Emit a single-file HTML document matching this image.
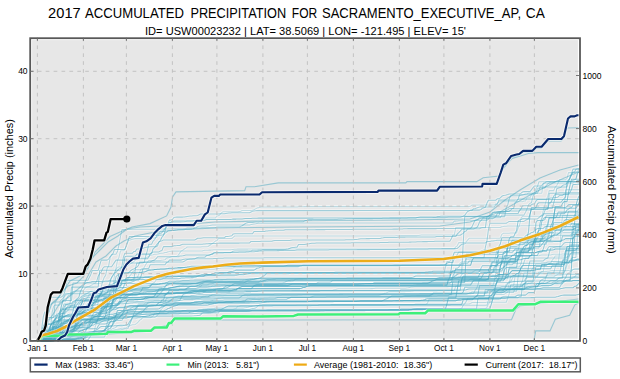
<!DOCTYPE html><html><head><meta charset="utf-8"><style>
html,body{margin:0;padding:0;background:#fff;}
svg{display:block;}
text{font-family:"Liberation Sans",sans-serif;fill:#000;}
</style></head><body>
<svg width="620" height="379" viewBox="0 0 620 379">
<rect x="0" y="0" width="620" height="379" fill="#fff"/>

<text x="48.1" y="17.8" font-size="14" textLength="32.6" lengthAdjust="spacingAndGlyphs">2017</text>
<text x="85.1" y="17.8" font-size="14" textLength="98.8" lengthAdjust="spacingAndGlyphs">ACCUMULATED</text>
<text x="190.4" y="17.8" font-size="14" textLength="95.8" lengthAdjust="spacingAndGlyphs">PRECIPITATION</text>
<text x="291.8" y="17.8" font-size="14" textLength="25.4" lengthAdjust="spacingAndGlyphs">FOR</text>
<text x="322.0" y="17.8" font-size="14" textLength="199.0" lengthAdjust="spacingAndGlyphs">SACRAMENTO_EXECUTIVE_AP,</text>
<text x="525.8" y="17.8" font-size="14" textLength="19.0" lengthAdjust="spacingAndGlyphs">CA</text>
<text x="145" y="34.8" font-size="10.5" textLength="321" lengthAdjust="spacingAndGlyphs">ID= USW00023232 | LAT= 38.5069 | LON= -121.495 | ELEV= 15'</text>
<rect x="30.2" y="38.2" width="549.8" height="302.7" fill="#ffffff"/>
<rect x="32.1" y="40.1" width="545.8" height="298.5" fill="#e7e7e7"/>
<g fill="none" stroke="#ffffff" stroke-width="3" stroke-opacity="0.45" stroke-linejoin="round"><polyline points="37.4,341.0 40.4,341.0 41.9,327.3 43.3,316.8 44.8,312.0 49.3,312.0 50.8,297.2 61.1,297.2 62.6,296.1 64.1,294.1 65.6,288.6 67.1,280.3 87.8,280.3 89.3,277.4 90.8,274.4 92.3,270.4 98.2,270.4 99.7,265.4 101.2,260.1 107.1,260.1 108.6,259.1 110.1,256.6 111.6,255.3 113.1,253.4 114.5,249.4 124.9,249.4 126.4,245.9 127.9,241.7 129.4,236.5 148.7,236.5 150.2,236.2 151.6,235.8 153.1,235.5 154.6,235.3 159.1,235.3 160.5,235.2 162.0,235.0 163.5,234.8 165.0,233.1 166.5,232.3 168.0,230.8 170.9,230.8 172.4,230.6 173.9,230.4 175.4,230.2 176.9,230.0 178.3,229.7 184.3,229.7 185.8,229.3 187.2,229.1 191.7,229.1 193.2,228.7 194.7,228.1 196.1,227.9 200.6,227.9 202.1,227.7 215.4,227.7 216.9,226.9 221.4,226.9 222.9,226.9 224.3,226.9 225.8,226.9 239.2,226.9 240.7,226.4 242.1,225.7 243.6,224.7 245.1,223.7 246.6,222.9 248.1,222.6 249.6,222.5 251.0,222.5 252.5,222.4 254.0,222.2 255.5,222.1 257.0,221.9 258.5,221.9 259.9,221.8 301.5,221.8 303.0,221.8 304.4,221.1 305.9,220.6 307.4,220.2 308.9,219.6 311.9,219.6 313.3,219.4 331.2,219.4 332.6,219.4 337.1,219.4 338.6,219.3 340.1,219.3 341.5,219.2 343.0,219.1 344.5,218.9 346.0,218.8 347.5,218.8 349.0,218.7 350.4,218.7 351.9,218.7 353.4,218.6 354.9,218.6 356.4,218.6 357.9,218.6 369.7,218.6 371.2,218.6 372.7,218.6 374.2,218.5 375.7,218.5 377.1,218.4 378.6,218.4 380.1,218.4 381.6,218.4 383.1,218.3 384.6,218.2 386.0,218.2 387.5,218.2 389.0,218.2 390.5,218.1 392.0,218.1 396.4,218.1 397.9,218.1 399.4,218.1 400.9,218.1 402.4,218.0 403.8,218.0 405.3,218.0 406.8,218.0 408.3,217.8 409.8,217.8 430.6,217.8 432.0,217.7 433.5,217.6 445.4,217.6 446.9,217.4 448.4,217.3 449.8,217.3 460.2,217.3 461.7,216.7 463.2,216.3 464.7,215.4 466.2,213.3 467.6,211.5 469.1,210.9 470.6,210.1 479.5,210.1 481.0,209.5 482.5,208.2 484.0,207.7 485.4,207.3 486.9,203.3 488.4,200.2 495.8,200.2 497.3,198.8 498.8,198.8 500.3,197.9 501.8,196.3 503.3,195.5 504.7,195.3 506.2,195.0 507.7,194.6 509.2,194.1 510.7,193.9 519.6,193.9 521.1,193.1 522.5,192.0 524.0,191.6 530.0,191.6 531.4,189.9 532.9,187.8 534.4,186.0 540.3,186.0 541.8,185.4 543.3,183.7 544.8,182.9 546.3,181.7 547.8,181.5 571.5,181.5 573.0,180.3 574.5,179.7 575.9,179.2 579.7,179.2"/><polyline points="37.4,341.0 43.3,341.0 44.8,335.1 46.3,331.1 47.8,324.1 56.7,324.1 58.2,321.0 59.7,316.1 61.1,311.8 62.6,308.4 64.1,303.9 70.0,303.9 71.5,287.1 93.8,287.1 95.3,287.0 96.7,286.9 98.2,286.9 99.7,270.2 120.5,270.2 122.0,265.8 123.4,257.1 124.9,253.3 132.4,253.3 133.8,251.5 135.3,251.5 136.8,248.9 139.8,248.9 141.3,248.6 142.7,248.4 144.2,247.7 145.7,247.4 147.2,246.9 148.7,246.9 150.2,246.8 151.6,246.7 156.1,246.7 157.6,245.7 159.1,241.4 160.5,241.2 162.0,240.7 163.5,239.9 194.7,239.9 196.1,239.3 197.6,238.3 200.6,238.3 202.1,238.0 203.6,237.8 224.3,237.8 225.8,236.4 227.3,236.4 228.8,236.3 230.3,236.1 231.8,235.7 233.2,233.9 234.7,233.8 236.2,233.8 252.5,233.8 254.0,231.5 264.4,231.5 265.9,231.1 267.4,231.0 268.8,230.7 271.8,230.7 273.3,230.5 274.8,230.4 276.3,230.3 283.7,230.3 285.2,229.7 310.4,229.7 311.9,229.7 313.3,229.7 314.8,229.7 316.3,229.6 317.8,229.6 323.7,229.6 325.2,229.6 326.7,229.5 338.6,229.5 340.1,229.5 341.5,229.5 343.0,229.5 344.5,229.5 346.0,229.5 347.5,229.5 349.0,229.4 351.9,229.4 353.4,229.3 354.9,229.3 356.4,229.3 383.1,229.3 384.6,229.3 386.0,229.3 387.5,229.2 389.0,229.2 390.5,229.2 392.0,229.2 393.5,229.1 394.9,229.1 396.4,229.1 397.9,229.1 399.4,229.0 400.9,229.0 402.4,228.9 403.8,228.7 405.3,228.7 406.8,228.7 408.3,228.6 409.8,228.6 411.3,228.6 412.8,228.6 436.5,228.6 438.0,228.5 439.5,228.5 440.9,228.4 442.4,228.4 470.6,228.4 472.1,226.6 473.6,223.2 475.1,220.3 486.9,220.3 488.4,219.2 489.9,217.2 491.4,215.8 498.8,215.8 500.3,211.9 503.3,211.9 504.7,211.3 506.2,210.4 507.7,209.7 509.2,208.8 510.7,208.4 513.6,208.4 515.1,202.7 516.6,201.3 518.1,199.0 519.6,194.7 522.5,194.7 524.0,194.4 525.5,194.0 527.0,193.7 528.5,193.3 530.0,193.2 537.4,193.2 538.9,190.0 540.3,186.9 567.0,186.9 568.5,181.4 570.0,177.3 571.5,173.5 573.0,169.1 579.7,169.1"/><polyline points="37.4,341.0 50.8,341.0 52.2,331.0 53.7,328.9 55.2,320.8 58.2,320.8 59.7,313.5 61.1,308.0 62.6,300.5 71.5,300.5 73.0,283.0 95.3,283.0 96.7,281.4 98.2,276.2 99.7,273.5 101.2,272.1 102.7,268.5 104.2,266.8 111.6,266.8 113.1,264.5 114.5,262.4 116.0,260.1 129.4,260.1 130.9,259.4 132.4,258.8 147.2,258.8 148.7,257.3 150.2,253.9 151.6,252.7 153.1,251.9 159.1,251.9 160.5,250.9 162.0,250.4 163.5,246.6 172.4,246.6 173.9,245.8 175.4,245.7 176.9,245.6 178.3,245.4 179.8,245.4 181.3,244.7 182.8,244.3 200.6,244.3 202.1,244.2 203.6,244.0 205.0,244.0 206.5,243.8 208.0,243.7 209.5,243.6 211.0,243.6 212.5,243.5 213.9,243.4 215.4,243.4 216.9,243.3 218.4,243.2 219.9,243.1 237.7,243.1 239.2,243.1 240.7,243.0 246.6,243.0 248.1,243.0 249.6,242.9 251.0,241.4 252.5,241.4 254.0,241.4 259.9,241.4 261.4,241.2 271.8,241.2 273.3,240.7 274.8,240.4 289.6,240.4 291.1,240.2 292.6,240.0 294.1,239.9 344.5,239.9 346.0,239.8 347.5,239.8 349.0,239.8 353.4,239.8 354.9,239.6 356.4,239.4 357.9,239.3 359.3,239.0 360.8,238.7 365.3,238.7 366.8,238.6 368.2,238.6 369.7,238.6 371.2,238.5 372.7,238.5 380.1,238.5 381.6,238.0 383.1,237.8 384.6,237.5 386.0,237.5 396.4,237.5 397.9,237.3 399.4,237.1 400.9,237.1 402.4,237.1 405.3,237.1 406.8,237.0 408.3,236.9 435.0,236.9 436.5,236.5 455.8,236.5 457.3,234.0 458.7,232.7 460.2,231.1 461.7,229.3 464.7,229.3 466.2,229.1 467.6,229.0 469.1,228.9 470.6,228.8 479.5,228.8 481.0,228.0 482.5,227.7 485.4,227.7 486.9,216.6 488.4,216.6 489.9,215.6 491.4,215.0 492.9,213.1 494.3,212.1 504.7,212.1 506.2,211.8 507.7,211.3 509.2,210.9 519.6,210.9 521.1,208.8 522.5,205.7 530.0,205.7 531.4,204.8 532.9,204.0 534.4,204.0 535.9,201.1 537.4,199.4 579.7,199.4"/><polyline points="37.4,341.0 44.8,341.0 46.3,317.4 53.7,317.4 55.2,301.9 59.7,301.9 61.1,300.1 62.6,298.8 64.1,296.3 65.6,293.8 104.2,293.8 105.6,293.0 111.6,293.0 113.1,291.2 114.5,284.2 116.0,276.5 117.5,275.4 119.0,273.6 126.4,273.6 127.9,273.3 129.4,271.8 130.9,270.5 132.4,269.5 133.8,268.9 135.3,268.0 136.8,267.1 138.3,265.6 139.8,262.0 150.2,262.0 151.6,261.3 153.1,260.4 154.6,259.9 156.1,258.7 157.6,256.7 178.3,256.7 179.8,256.0 181.3,255.9 182.8,255.7 184.3,255.4 185.8,255.1 187.2,254.9 209.5,254.9 211.0,254.2 212.5,253.4 213.9,253.0 215.4,252.8 221.4,252.8 222.9,252.7 224.3,252.5 225.8,252.4 237.7,252.4 239.2,252.3 240.7,252.3 245.1,252.3 246.6,251.9 248.1,251.9 249.6,251.7 254.0,251.7 255.5,251.6 257.0,251.5 258.5,251.2 259.9,251.1 261.4,250.9 262.9,250.9 264.4,250.8 271.8,250.8 273.3,250.7 274.8,250.7 276.3,250.7 277.7,250.6 279.2,250.6 280.7,250.5 282.2,250.5 291.1,250.5 292.6,250.5 294.1,250.4 295.5,250.3 297.0,250.1 298.5,250.0 323.7,250.0 325.2,250.0 326.7,249.9 328.2,249.9 329.7,249.8 331.2,249.8 332.6,249.8 334.1,249.8 337.1,249.8 338.6,249.8 340.1,249.8 350.4,249.8 351.9,249.7 353.4,249.7 354.9,249.7 356.4,249.7 357.9,249.6 359.3,249.6 360.8,249.6 362.3,249.6 363.8,249.6 365.3,249.6 366.8,249.6 368.2,249.6 369.7,249.6 371.2,249.5 372.7,249.5 389.0,249.5 390.5,249.5 392.0,249.5 393.5,249.5 394.9,249.5 396.4,249.4 397.9,249.3 399.4,249.3 400.9,249.2 402.4,249.2 403.8,249.2 405.3,249.2 406.8,249.0 408.3,249.0 409.8,249.0 411.3,249.0 412.8,249.0 414.2,249.0 415.7,248.9 421.7,248.9 423.1,248.9 424.6,248.9 426.1,248.9 427.6,248.9 429.1,248.8 439.5,248.8 440.9,248.7 442.4,248.6 443.9,248.6 445.4,248.6 446.9,248.6 455.8,248.6 457.3,248.4 458.7,247.2 460.2,245.7 461.7,244.3 463.2,244.1 464.7,243.7 466.2,242.9 485.4,242.9 486.9,241.7 488.4,241.4 489.9,241.4 491.4,241.1 492.9,241.0 494.3,240.7 495.8,240.5 497.3,240.2 521.1,240.2 522.5,239.9 524.0,238.1 525.5,236.2 527.0,235.0 528.5,234.3 530.0,233.8 531.4,232.4 532.9,232.4 534.4,230.8 535.9,229.6 537.4,228.4 543.3,228.4 544.8,226.8 546.3,226.4 579.7,226.4"/><polyline points="37.4,341.0 49.3,341.0 50.8,334.5 52.2,330.0 53.7,322.5 55.2,317.3 56.7,314.0 58.2,314.0 59.7,313.2 61.1,311.4 62.6,309.3 73.0,309.3 74.5,305.7 76.0,300.5 102.7,300.5 104.2,300.0 105.6,299.2 107.1,298.2 108.6,297.8 110.1,297.1 111.6,296.6 113.1,296.1 114.5,285.9 120.5,285.9 122.0,280.8 124.9,280.8 126.4,280.6 127.9,280.3 138.3,280.3 139.8,278.7 141.3,275.5 142.7,269.3 144.2,268.5 148.7,268.5 150.2,264.8 165.0,264.8 166.5,262.6 168.0,262.1 169.4,260.1 173.9,260.1 175.4,260.1 176.9,260.1 178.3,260.1 181.3,260.1 182.8,259.5 184.3,259.2 185.8,258.9 194.7,258.9 196.1,258.1 197.6,257.6 199.1,257.2 205.0,257.2 206.5,255.6 208.0,255.5 209.5,254.9 211.0,254.4 212.5,254.4 213.9,252.8 230.3,252.8 231.8,252.0 233.2,251.2 234.7,251.0 236.2,250.9 251.0,250.9 252.5,250.2 257.0,250.2 258.5,250.1 261.4,250.1 262.9,249.6 283.7,249.6 285.2,249.5 286.6,249.3 288.1,249.1 289.6,248.4 291.1,247.8 292.6,247.5 294.1,247.5 295.5,247.3 297.0,247.2 298.5,244.5 304.4,244.5 305.9,244.2 307.4,243.9 308.9,243.8 310.4,243.4 311.9,243.2 314.8,243.2 316.3,243.1 317.8,243.0 319.3,242.9 350.4,242.9 351.9,242.8 353.4,242.8 354.9,242.7 378.6,242.7 380.1,242.5 381.6,242.4 387.5,242.4 389.0,242.3 390.5,242.2 408.3,242.2 409.8,242.1 411.3,242.1 412.8,242.0 414.2,242.0 415.7,241.9 417.2,241.7 418.7,241.7 421.7,241.7 423.1,241.6 424.6,241.6 426.1,241.6 427.6,241.6 429.1,241.5 430.6,241.5 432.0,241.4 433.5,241.4 435.0,241.3 436.5,241.3 438.0,241.2 449.8,241.2 451.3,238.7 452.8,235.2 460.2,235.2 461.7,234.2 463.2,233.4 464.7,231.4 466.2,230.9 467.6,228.9 473.6,228.9 475.1,228.2 476.5,227.8 478.0,225.9 479.5,222.0 481.0,220.7 482.5,218.6 492.9,218.6 494.3,217.8 495.8,216.6 497.3,213.5 518.1,213.5 519.6,209.9 530.0,209.9 531.4,209.6 532.9,209.4 534.4,209.0 547.8,209.0 549.2,193.3 555.2,193.3 556.7,193.1 558.1,192.9 559.6,192.8 561.1,192.7 579.7,192.7"/><polyline points="37.4,341.0 43.3,341.0 44.8,339.9 46.3,337.2 47.8,333.2 49.3,330.7 50.8,330.2 52.2,329.7 53.7,329.5 55.2,329.2 56.7,329.0 58.2,327.8 59.7,326.5 61.1,325.0 62.6,323.5 78.9,323.5 80.4,323.3 81.9,320.7 89.3,320.7 90.8,319.6 92.3,318.6 93.8,317.2 95.3,316.4 102.7,316.4 104.2,314.4 105.6,312.3 107.1,310.0 108.6,309.2 110.1,308.0 111.6,304.0 113.1,302.0 114.5,299.4 116.0,295.7 117.5,292.5 119.0,290.0 120.5,289.3 122.0,288.8 123.4,287.5 124.9,284.5 126.4,282.3 127.9,278.8 129.4,276.4 130.9,274.6 132.4,272.3 133.8,270.8 135.3,269.6 142.7,269.6 144.2,269.6 145.7,269.5 147.2,269.5 148.7,269.4 150.2,269.4 151.6,269.3 153.1,269.3 163.5,269.3 165.0,268.9 176.9,268.9 178.3,268.8 179.8,268.7 181.3,268.0 182.8,267.9 185.8,267.9 187.2,267.3 188.7,267.0 190.2,266.5 191.7,266.1 197.6,266.1 199.1,266.1 200.6,265.9 202.1,265.8 203.6,265.6 252.5,265.6 254.0,265.6 255.5,265.5 298.5,265.5 300.0,265.5 301.5,265.5 303.0,265.5 304.4,265.5 313.3,265.5 314.8,265.5 316.3,265.5 317.8,265.5 319.3,265.5 320.8,265.5 322.3,265.5 323.7,265.5 392.0,265.5 393.5,265.3 394.9,265.1 418.7,265.1 420.2,265.1 421.7,265.0 463.2,265.0 464.7,261.2 466.2,259.1 495.8,259.1 497.3,257.5 498.8,256.3 506.2,256.3 507.7,250.5 518.1,250.5 519.6,242.9 527.0,242.9 528.5,239.9 530.0,238.2 531.4,236.5 532.9,234.9 534.4,234.9 535.9,234.4 537.4,234.0 541.8,234.0 543.3,233.9 544.8,233.8 546.3,233.7 547.8,233.6 549.2,233.1 558.1,233.1 559.6,232.9 561.1,232.9 562.6,232.8 564.1,232.6 579.7,232.6"/><polyline points="37.4,341.0 38.9,341.0 40.4,340.0 41.9,339.2 46.3,339.2 47.8,338.8 49.3,338.5 50.8,338.4 52.2,338.1 53.7,338.0 55.2,337.4 56.7,336.8 58.2,336.1 59.7,335.5 61.1,334.5 62.6,333.8 64.1,333.6 65.6,333.3 67.1,333.2 68.6,331.0 70.0,330.3 71.5,330.1 73.0,329.4 74.5,329.0 76.0,328.7 77.5,328.0 78.9,327.7 89.3,327.7 90.8,326.3 92.3,323.9 93.8,322.2 96.7,322.2 98.2,318.8 104.2,318.8 105.6,315.1 107.1,310.6 108.6,309.6 110.1,308.2 111.6,308.2 113.1,300.6 114.5,295.4 116.0,290.7 117.5,281.1 119.0,273.8 120.5,273.2 122.0,273.0 123.4,272.7 138.3,272.7 139.8,272.5 141.3,272.4 142.7,272.1 144.2,271.9 145.7,271.5 147.2,270.7 148.7,270.3 150.2,270.2 151.6,270.1 153.1,269.9 154.6,269.6 156.1,269.5 157.6,269.3 159.1,269.2 160.5,269.1 162.0,269.0 163.5,269.0 165.0,269.0 166.5,268.7 168.0,268.6 169.4,268.3 170.9,268.2 172.4,268.2 173.9,268.2 175.4,268.0 176.9,267.9 178.3,267.6 182.8,267.6 184.3,267.4 185.8,267.2 187.2,267.1 188.7,266.9 190.2,266.9 212.5,266.9 213.9,266.8 215.4,266.7 216.9,266.6 218.4,266.5 219.9,266.5 221.4,266.5 222.9,266.4 234.7,266.4 236.2,266.3 237.7,266.3 239.2,266.2 240.7,266.1 242.1,266.1 243.6,266.0 245.1,266.0 248.1,266.0 249.6,266.0 283.7,266.0 285.2,265.7 286.6,265.5 288.1,265.3 470.6,265.3 472.1,260.3 473.6,258.0 507.7,258.0 509.2,257.2 510.7,257.1 512.2,255.3 513.6,255.3 515.1,253.7 516.6,252.6 534.4,252.6 535.9,252.4 537.4,252.3 538.9,251.6 540.3,251.1 541.8,250.8 543.3,250.4 544.8,250.4 546.3,250.3 547.8,250.1 549.2,249.9 550.7,249.9 552.2,249.9 553.7,249.8 555.2,249.0 556.7,249.0 574.5,249.0 575.9,248.9 577.4,248.9 578.9,248.9 579.7,248.9"/><polyline points="37.4,341.0 38.9,341.0 40.4,338.8 41.9,338.0 43.3,336.0 44.8,334.4 46.3,333.4 47.8,332.9 49.3,332.6 50.8,331.9 59.7,331.9 61.1,325.0 62.6,312.9 64.1,307.4 65.6,304.5 67.1,304.4 68.6,304.1 70.0,303.8 71.5,303.6 73.0,301.7 74.5,301.0 76.0,299.9 77.5,298.5 78.9,297.1 80.4,291.6 81.9,288.8 83.4,285.7 84.9,283.7 86.4,282.8 87.8,282.5 89.3,282.3 90.8,282.0 92.3,281.5 98.2,281.5 99.7,281.4 101.2,281.4 102.7,281.3 104.2,281.2 105.6,281.1 107.1,281.0 117.5,281.0 119.0,280.8 120.5,280.3 122.0,280.1 123.4,279.8 124.9,279.5 136.8,279.5 138.3,279.5 139.8,279.5 145.7,279.5 147.2,279.5 148.7,279.5 150.2,279.5 151.6,279.4 153.1,279.3 154.6,279.3 156.1,279.2 157.6,279.2 159.1,279.1 160.5,279.1 162.0,279.0 163.5,278.8 178.3,278.8 179.8,278.5 181.3,278.1 182.8,278.0 184.3,277.9 185.8,277.8 190.2,277.8 191.7,277.6 193.2,277.6 194.7,277.3 196.1,276.9 197.6,276.2 199.1,275.5 200.6,275.1 202.1,274.6 215.4,274.6 216.9,273.9 218.4,273.6 219.9,273.1 224.3,273.1 225.8,272.9 227.3,272.7 228.8,272.0 230.3,271.6 231.8,271.4 233.2,271.2 234.7,270.8 236.2,270.1 254.0,270.1 255.5,269.3 257.0,268.3 258.5,268.0 259.9,267.4 261.4,267.0 262.9,266.6 298.5,266.6 300.0,266.0 301.5,265.7 303.0,265.3 310.4,265.3 311.9,265.3 313.3,265.3 314.8,265.3 316.3,265.3 317.8,265.3 319.3,265.3 387.5,265.3 389.0,265.3 390.5,265.3 439.5,265.3 440.9,265.0 442.4,264.9 443.9,264.8 445.4,264.5 446.9,263.2 448.4,262.5 452.8,262.5 454.3,258.4 455.8,257.4 497.3,257.4 498.8,254.5 501.8,254.5 503.3,253.9 504.7,253.2 506.2,251.6 509.2,251.6 510.7,245.0 512.2,240.3 550.7,240.3 552.2,230.5 553.7,216.4 555.2,208.3 575.9,208.3 577.4,205.8 578.9,203.3 580.4,200.6 579.7,200.6"/><polyline points="37.4,341.0 46.3,341.0 47.8,340.4 49.3,338.1 50.8,336.9 52.2,334.6 53.7,334.0 55.2,333.6 56.7,333.4 58.2,333.4 59.7,333.4 61.1,333.2 62.6,333.1 64.1,333.1 65.6,332.8 67.1,332.4 68.6,332.2 70.0,332.0 71.5,330.7 73.0,329.9 74.5,328.6 76.0,325.3 77.5,322.6 78.9,321.2 80.4,320.1 81.9,319.5 93.8,319.5 95.3,319.3 96.7,317.9 98.2,317.3 99.7,316.6 101.2,315.1 102.7,312.9 104.2,310.7 105.6,309.8 110.1,309.8 111.6,305.8 113.1,301.9 114.5,299.6 116.0,297.9 117.5,295.3 119.0,293.0 120.5,290.6 132.4,290.6 133.8,289.8 135.3,289.2 136.8,288.8 138.3,288.1 147.2,288.1 148.7,287.4 150.2,285.8 151.6,284.8 153.1,283.2 154.6,282.3 156.1,280.0 157.6,279.7 160.5,279.7 162.0,279.0 163.5,278.2 165.0,277.9 166.5,277.3 168.0,275.7 169.4,272.2 172.4,272.2 173.9,271.7 175.4,270.8 176.9,270.4 178.3,270.1 179.8,269.8 193.2,269.8 194.7,269.5 196.1,269.2 213.9,269.2 215.4,268.9 216.9,268.6 218.4,268.4 219.9,268.3 221.4,268.1 222.9,268.0 231.8,268.0 233.2,267.7 234.7,267.2 254.0,267.2 255.5,267.0 257.0,266.9 258.5,266.4 259.9,266.0 282.2,266.0 283.7,266.0 285.2,265.9 286.6,265.9 338.6,265.9 340.1,265.9 341.5,265.9 343.0,265.9 344.5,265.9 356.4,265.9 357.9,265.9 359.3,265.9 360.8,265.9 362.3,265.9 363.8,265.9 365.3,265.9 366.8,265.9 399.4,265.9 400.9,265.5 402.4,265.3 458.7,265.3 460.2,263.1 461.7,261.8 513.6,261.8 515.1,259.6 516.6,258.1 518.1,255.7 538.9,255.7 540.3,255.3 541.8,255.1 543.3,254.9 550.7,254.9 552.2,254.6 553.7,254.3 555.2,254.3 559.6,254.3 561.1,254.2 562.6,254.0 564.1,253.9 579.7,253.9"/><polyline points="37.4,341.0 40.4,341.0 41.9,339.6 43.3,336.4 44.8,330.2 46.3,326.1 47.8,324.1 50.8,324.1 52.2,322.9 53.7,321.5 55.2,319.3 56.7,316.8 58.2,314.3 59.7,311.7 61.1,308.9 67.1,308.9 68.6,307.8 70.0,306.7 71.5,305.0 73.0,303.3 74.5,302.2 76.0,300.1 77.5,299.8 78.9,298.9 80.4,297.9 81.9,296.1 83.4,295.2 84.9,294.5 86.4,293.8 87.8,293.0 89.3,292.2 90.8,291.3 92.3,291.3 93.8,291.3 95.3,290.9 96.7,290.5 98.2,290.1 99.7,289.9 101.2,289.6 102.7,289.4 104.2,289.2 105.6,289.1 110.1,289.1 111.6,288.6 113.1,288.6 114.5,288.2 116.0,287.8 117.5,287.4 119.0,286.2 120.5,285.3 122.0,283.9 123.4,283.6 124.9,283.5 126.4,283.1 127.9,282.7 129.4,282.4 130.9,282.4 132.4,281.7 133.8,281.3 135.3,280.4 136.8,279.6 138.3,278.5 139.8,278.2 141.3,278.1 142.7,277.9 144.2,277.3 145.7,277.1 147.2,276.9 148.7,276.9 154.6,276.9 156.1,276.7 157.6,276.6 163.5,276.6 165.0,276.5 166.5,276.4 168.0,276.4 169.4,276.3 176.9,276.3 178.3,276.1 193.2,276.1 194.7,276.1 196.1,276.1 197.6,276.0 199.1,276.0 200.6,276.0 205.0,276.0 206.5,275.8 208.0,275.5 209.5,275.2 211.0,275.2 215.4,275.2 216.9,275.1 218.4,274.9 219.9,274.9 221.4,274.8 222.9,274.8 236.2,274.8 237.7,274.8 239.2,274.8 240.7,274.8 243.6,274.8 245.1,274.3 246.6,274.0 248.1,273.8 249.6,273.5 251.0,273.2 252.5,273.1 254.0,273.1 255.5,273.0 257.0,273.0 258.5,272.9 282.2,272.9 283.7,272.9 285.2,272.9 286.6,272.9 344.5,272.9 346.0,272.9 347.5,272.9 349.0,272.9 350.4,272.9 353.4,272.9 354.9,272.9 356.4,272.9 357.9,272.9 359.3,272.8 360.8,272.8 362.3,272.8 363.8,272.8 442.4,272.8 443.9,272.8 445.4,272.7 446.9,272.7 448.4,272.7 449.8,272.6 478.0,272.6 479.5,271.4 481.0,268.3 482.5,265.6 500.3,265.6 501.8,262.9 509.2,262.9 510.7,258.5 515.1,258.5 516.6,257.0 518.1,256.2 530.0,256.2 531.4,255.1 532.9,254.6 534.4,253.2 535.9,252.4 537.4,251.5 546.3,251.5 547.8,248.3 549.2,246.5 561.1,246.5 562.6,244.8 564.1,243.1 565.6,242.5 579.7,242.5"/><polyline points="37.4,341.0 46.3,341.0 47.8,339.7 49.3,338.4 50.8,334.5 52.2,331.4 53.7,327.1 55.2,326.0 56.7,322.4 58.2,320.5 59.7,319.1 61.1,317.5 62.6,316.7 64.1,316.4 65.6,316.2 67.1,315.1 68.6,314.5 70.0,314.3 71.5,314.2 73.0,314.2 80.4,314.2 81.9,314.1 83.4,311.0 84.9,309.9 86.4,306.2 87.8,304.3 89.3,303.3 90.8,303.2 92.3,302.4 93.8,302.2 95.3,301.9 96.7,301.3 98.2,297.1 99.7,296.0 101.2,294.1 102.7,290.3 104.2,288.8 105.6,288.8 107.1,287.9 108.6,285.0 110.1,284.8 111.6,284.7 113.1,284.1 114.5,282.8 116.0,282.6 117.5,281.4 119.0,280.5 124.9,280.5 126.4,277.4 127.9,277.4 129.4,277.4 130.9,277.4 132.4,277.4 133.8,277.4 135.3,277.4 136.8,277.3 138.3,277.3 139.8,277.3 141.3,277.3 142.7,277.2 144.2,277.2 145.7,277.2 147.2,277.2 148.7,277.1 150.2,277.1 151.6,277.1 153.1,277.1 154.6,277.1 156.1,277.1 157.6,277.1 159.1,277.1 160.5,277.1 162.0,277.1 163.5,277.0 165.0,277.0 166.5,277.0 168.0,277.0 169.4,277.0 170.9,277.0 172.4,277.0 173.9,276.8 175.4,276.8 176.9,276.7 178.3,276.6 179.8,276.5 181.3,276.3 182.8,276.2 203.6,276.2 205.0,275.4 206.5,274.5 211.0,274.5 212.5,273.8 213.9,273.3 215.4,272.7 216.9,272.7 218.4,272.7 219.9,272.6 221.4,272.6 222.9,272.6 224.3,272.6 257.0,272.6 258.5,272.6 259.9,272.5 261.4,272.5 262.9,272.5 264.4,272.5 265.9,272.5 267.4,272.5 268.8,272.5 270.3,272.5 303.0,272.5 304.4,272.5 305.9,272.5 331.2,272.5 332.6,272.4 334.1,272.4 335.6,272.3 368.2,272.3 369.7,272.3 371.2,272.3 372.7,272.3 374.2,272.3 375.7,272.3 377.1,272.3 423.1,272.3 424.6,272.2 426.1,272.0 427.6,271.9 429.1,271.8 430.6,271.7 432.0,271.6 433.5,271.3 435.0,271.2 454.3,271.2 455.8,269.6 500.3,269.6 501.8,268.4 503.3,267.6 504.7,266.4 506.2,265.3 507.7,262.8 509.2,259.7 521.1,259.7 522.5,259.0 524.0,258.5 528.5,258.5 530.0,255.6 531.4,255.6 532.9,248.8 534.4,246.4 540.3,246.4 541.8,244.5 543.3,242.9 544.8,241.0 561.1,241.0 562.6,240.0 564.1,239.7 565.6,238.6 573.0,238.6 574.5,236.2 578.9,236.2 580.4,236.1 579.7,236.1"/><polyline points="37.4,341.0 41.9,341.0 43.3,338.3 44.8,336.0 47.8,336.0 49.3,334.7 50.8,333.4 52.2,332.3 53.7,331.8 55.2,331.8 56.7,329.1 58.2,328.1 59.7,326.7 61.1,325.4 62.6,325.4 64.1,324.6 65.6,323.5 67.1,322.8 68.6,321.8 70.0,320.1 71.5,317.9 73.0,316.2 74.5,314.5 76.0,314.2 77.5,313.9 78.9,313.7 80.4,313.3 81.9,313.1 83.4,312.9 84.9,312.8 101.2,312.8 102.7,311.4 104.2,309.3 105.6,307.1 107.1,306.2 108.6,303.7 110.1,301.5 111.6,299.4 113.1,297.3 114.5,296.4 116.0,292.5 117.5,290.6 119.0,290.6 120.5,290.2 122.0,289.8 123.4,287.3 124.9,282.4 126.4,278.7 127.9,277.9 130.9,277.9 132.4,277.7 133.8,277.5 135.3,277.3 136.8,277.3 138.3,277.2 139.8,277.2 141.3,277.2 144.2,277.2 145.7,277.1 150.2,277.1 151.6,277.1 153.1,277.0 154.6,277.0 159.1,277.0 160.5,276.9 162.0,276.8 163.5,276.5 165.0,276.4 166.5,276.2 168.0,276.0 169.4,275.9 170.9,275.9 191.7,275.9 193.2,275.9 194.7,275.8 196.1,275.8 197.6,275.7 199.1,275.7 200.6,275.7 202.1,275.7 203.6,275.7 205.0,275.7 206.5,275.7 208.0,275.7 209.5,275.7 211.0,275.7 212.5,275.7 213.9,275.6 215.4,275.6 216.9,275.6 234.7,275.6 236.2,275.4 237.7,275.1 239.2,274.5 240.7,274.4 242.1,274.2 243.6,274.0 245.1,273.9 246.6,273.8 267.4,273.8 268.8,273.8 270.3,273.7 288.1,273.7 289.6,273.6 291.1,273.5 292.6,273.5 294.1,273.4 343.0,273.4 344.5,273.4 346.0,273.4 347.5,273.4 349.0,273.4 366.8,273.4 368.2,273.4 369.7,273.4 371.2,273.4 372.7,273.4 374.2,273.4 426.1,273.4 427.6,273.4 429.1,273.4 430.6,273.4 432.0,273.4 443.9,273.4 445.4,267.7 446.9,261.6 449.8,261.6 451.3,259.0 452.8,258.0 454.3,257.2 455.8,257.2 457.3,254.5 458.7,252.1 479.5,252.1 481.0,251.1 482.5,250.4 484.0,249.9 491.4,249.9 492.9,249.6 494.3,249.3 495.8,248.9 498.8,248.9 500.3,248.9 501.8,247.8 503.3,247.6 504.7,247.3 506.2,246.4 516.6,246.4 518.1,245.6 519.6,244.2 546.3,244.2 547.8,236.3 549.2,235.6 552.2,235.6 553.7,235.3 570.0,235.3 571.5,234.3 573.0,232.6 574.5,230.5 579.7,230.5"/><polyline points="37.4,341.0 47.8,341.0 49.3,339.7 50.8,338.1 52.2,337.8 53.7,336.2 55.2,335.4 61.1,335.4 62.6,330.9 64.1,328.3 65.6,327.9 67.1,327.5 68.6,327.3 70.0,327.0 80.4,327.0 81.9,326.7 83.4,326.0 84.9,325.4 86.4,325.0 89.3,325.0 90.8,319.7 92.3,316.3 99.7,316.3 101.2,310.3 102.7,301.2 104.2,297.4 139.8,297.4 141.3,297.1 142.7,296.9 144.2,296.6 145.7,296.5 147.2,296.5 148.7,296.2 150.2,296.2 153.1,296.2 154.6,296.0 156.1,295.8 157.6,295.8 159.1,294.9 160.5,293.3 162.0,291.3 163.5,288.9 165.0,287.2 166.5,285.1 168.0,283.2 172.4,283.2 173.9,282.4 175.4,282.0 176.9,281.9 178.3,281.9 179.8,281.8 181.3,281.7 182.8,281.7 203.6,281.7 205.0,281.6 206.5,281.5 208.0,281.4 209.5,281.4 211.0,281.3 245.1,281.3 246.6,280.8 248.1,280.5 249.6,280.3 251.0,279.7 252.5,279.5 254.0,279.3 255.5,278.6 258.5,278.6 259.9,278.2 261.4,277.4 262.9,276.2 264.4,275.7 265.9,274.2 267.4,272.9 286.6,272.9 288.1,272.9 289.6,272.9 291.1,272.9 292.6,272.9 294.1,272.8 295.5,272.8 461.7,272.8 463.2,243.6 464.7,216.6 504.7,216.6 506.2,207.6 507.7,205.0 509.2,198.9 510.7,195.8 519.6,195.8 521.1,195.2 522.5,195.0 524.0,194.8 534.4,194.8 535.9,192.8 537.4,188.9 538.9,187.9 544.8,187.9 546.3,185.5 547.8,183.9 549.2,183.0 550.7,182.2 553.7,182.2 555.2,181.7 556.7,181.2 568.5,181.2 570.0,178.0 571.5,175.0 573.0,172.2 574.5,172.2 575.9,169.3 577.4,168.8 579.7,168.8"/><polyline points="37.4,341.0 40.4,341.0 41.9,337.0 43.3,334.6 44.8,330.6 46.3,330.5 47.8,330.3 49.3,330.2 50.8,326.2 52.2,321.9 53.7,320.2 55.2,320.1 56.7,318.4 58.2,317.9 59.7,317.3 61.1,316.7 62.6,316.4 64.1,316.2 65.6,315.6 87.8,315.6 89.3,315.3 90.8,314.0 92.3,307.1 93.8,305.2 95.3,303.9 96.7,300.2 98.2,298.3 99.7,296.3 101.2,296.3 102.7,295.4 104.2,293.9 105.6,292.9 107.1,292.6 108.6,291.5 110.1,290.1 111.6,290.1 113.1,289.7 114.5,289.5 116.0,289.3 117.5,289.2 119.0,287.4 130.9,287.4 132.4,287.3 133.8,287.1 135.3,286.8 136.8,286.5 138.3,286.2 147.2,286.2 148.7,285.7 150.2,285.2 151.6,284.8 153.1,284.7 156.1,284.7 157.6,284.3 159.1,284.1 160.5,283.5 162.0,283.3 163.5,283.0 165.0,282.8 196.1,282.8 197.6,282.4 199.1,282.3 200.6,281.9 202.1,281.5 203.6,281.1 205.0,280.9 206.5,280.6 208.0,280.5 209.5,280.4 211.0,280.4 212.5,280.3 213.9,280.1 215.4,279.9 216.9,279.9 218.4,279.8 219.9,279.7 221.4,279.6 222.9,279.6 224.3,279.4 225.8,279.4 227.3,279.3 228.8,279.3 230.3,279.2 248.1,279.2 249.6,279.1 251.0,278.9 270.3,278.9 271.8,278.7 273.3,278.6 449.8,278.6 451.3,278.0 452.8,277.3 454.3,277.0 488.4,277.0 489.9,274.7 491.4,272.8 492.9,271.7 494.3,271.7 495.8,267.1 497.3,265.2 498.8,259.0 515.1,259.0 516.6,255.9 521.1,255.9 522.5,252.0 527.0,252.0 528.5,250.8 530.0,249.8 531.4,247.0 532.9,244.8 534.4,242.4 535.9,239.4 537.4,234.9 541.8,234.9 543.3,232.5 553.7,232.5 555.2,230.6 556.7,229.6 558.1,227.1 559.6,227.1 561.1,227.0 562.6,227.0 565.6,227.0 567.0,223.7 579.7,223.7"/><polyline points="37.4,341.0 38.9,341.0 40.4,335.5 41.9,334.9 43.3,334.7 58.2,334.7 59.7,333.8 61.1,332.7 62.6,331.3 64.1,330.1 67.1,330.1 68.6,326.9 70.0,324.1 71.5,321.4 73.0,318.7 74.5,315.8 76.0,314.0 77.5,311.8 86.4,311.8 87.8,310.4 95.3,310.4 96.7,309.4 98.2,309.4 99.7,308.9 101.2,308.5 102.7,307.0 104.2,305.4 105.6,304.5 107.1,304.1 108.6,304.1 110.1,303.8 111.6,303.7 113.1,303.1 114.5,301.9 116.0,299.6 117.5,297.8 119.0,296.8 120.5,295.9 122.0,294.6 123.4,293.1 124.9,291.8 126.4,291.8 127.9,291.5 129.4,291.5 130.9,291.3 132.4,291.2 133.8,291.1 135.3,290.9 153.1,290.9 154.6,290.9 156.1,290.8 157.6,290.7 159.1,290.6 160.5,290.4 162.0,290.3 163.5,290.3 165.0,290.2 166.5,290.2 168.0,290.2 178.3,290.2 179.8,289.3 185.8,289.3 187.2,288.0 188.7,287.3 190.2,286.6 191.7,286.2 193.2,286.2 194.7,286.2 196.1,286.2 197.6,285.5 199.1,285.0 200.6,284.1 202.1,283.6 203.6,282.8 243.6,282.8 245.1,282.3 246.6,281.6 248.1,281.2 261.4,281.2 262.9,280.9 264.4,280.4 265.9,279.9 267.4,279.4 274.8,279.4 276.3,279.2 277.7,279.2 280.7,279.2 282.2,279.1 283.7,279.1 285.2,279.1 286.6,279.1 288.1,279.1 289.6,279.1 291.1,279.1 305.9,279.1 307.4,279.1 308.9,279.0 310.4,279.0 351.9,279.0 353.4,279.0 354.9,279.0 356.4,279.0 357.9,279.0 394.9,279.0 396.4,278.9 397.9,278.8 399.4,278.8 400.9,278.7 435.0,278.7 436.5,278.4 438.0,278.0 439.5,277.6 478.0,277.6 479.5,274.1 481.0,272.4 498.8,272.4 500.3,266.6 501.8,262.5 503.3,259.8 504.7,255.6 512.2,255.6 513.6,255.5 515.1,255.4 537.4,255.4 538.9,252.2 540.3,252.2 541.8,252.1 543.3,248.9 544.8,244.0 546.3,241.8 550.7,241.8 552.2,241.7 553.7,241.6 555.2,241.4 556.7,241.4 561.1,241.4 562.6,235.9 571.5,235.9 573.0,234.6 575.9,234.6 577.4,231.6 578.9,230.2 579.7,230.2"/><polyline points="37.4,341.0 40.4,341.0 41.9,339.2 43.3,338.4 44.8,337.7 46.3,337.1 47.8,336.3 49.3,335.2 50.8,334.3 52.2,332.1 53.7,329.4 55.2,328.4 56.7,326.3 58.2,324.2 59.7,321.8 61.1,318.9 62.6,316.7 64.1,314.5 65.6,311.3 67.1,310.8 74.5,310.8 76.0,310.8 77.5,310.5 78.9,310.3 80.4,309.6 81.9,306.1 83.4,304.4 84.9,300.7 86.4,298.9 87.8,297.1 89.3,294.6 90.8,294.6 92.3,294.4 93.8,294.2 95.3,294.1 96.7,293.8 98.2,293.7 99.7,293.5 101.2,293.0 102.7,293.0 104.2,292.6 105.6,292.5 107.1,292.2 108.6,292.0 110.1,291.3 111.6,290.6 113.1,290.5 114.5,290.2 116.0,289.1 117.5,288.3 119.0,288.0 120.5,287.6 124.9,287.6 126.4,287.4 127.9,286.6 129.4,286.3 130.9,286.0 132.4,285.6 133.8,285.0 136.8,285.0 138.3,284.9 139.8,284.9 141.3,284.9 142.7,284.9 144.2,284.9 147.2,284.9 148.7,284.9 150.2,284.8 151.6,284.8 153.1,284.8 154.6,284.8 156.1,284.8 157.6,284.8 159.1,284.8 160.5,284.8 162.0,284.8 163.5,284.8 173.9,284.8 175.4,284.7 176.9,284.6 178.3,284.6 179.8,284.5 181.3,284.4 182.8,284.3 184.3,284.3 194.7,284.3 196.1,284.2 197.6,284.2 199.1,284.1 200.6,284.1 202.1,284.1 203.6,284.1 209.5,284.1 211.0,284.0 212.5,283.6 213.9,283.0 215.4,282.7 216.9,282.4 218.4,282.2 219.9,282.1 221.4,282.0 227.3,282.0 228.8,281.6 240.7,281.6 242.1,281.5 243.6,281.2 245.1,281.1 291.1,281.1 292.6,280.9 294.1,280.4 295.5,279.2 297.0,278.9 298.5,278.7 300.0,278.6 301.5,278.6 303.0,278.6 304.4,278.5 305.9,278.5 307.4,278.5 323.7,278.5 325.2,278.4 326.7,278.4 371.2,278.4 372.7,278.4 374.2,278.4 408.3,278.4 409.8,278.4 411.3,278.2 412.8,278.2 458.7,278.2 460.2,277.1 461.7,274.7 463.2,273.0 470.6,273.0 472.1,272.5 473.6,271.5 475.1,270.4 476.5,269.9 489.9,269.9 491.4,266.3 492.9,261.4 494.3,261.4 495.8,255.5 497.3,247.6 498.8,247.0 519.6,247.0 521.1,238.4 543.3,238.4 544.8,237.8 546.3,236.0 547.8,235.6 549.2,233.7 550.7,232.1 552.2,231.1 553.7,230.1 555.2,229.7 556.7,229.7 558.1,229.6 559.6,229.6 561.1,229.6 579.7,229.6"/><polyline points="37.4,341.0 41.9,341.0 43.3,340.9 44.8,340.7 46.3,340.5 52.2,340.5 53.7,339.4 55.2,338.6 56.7,337.8 58.2,336.6 59.7,335.2 61.1,334.7 62.6,333.5 64.1,332.2 65.6,331.1 80.4,331.1 81.9,331.0 83.4,329.7 84.9,328.9 86.4,328.8 96.7,328.8 98.2,326.0 99.7,323.9 105.6,323.9 107.1,323.0 108.6,319.6 110.1,308.3 111.6,303.3 113.1,299.3 114.5,298.8 116.0,298.6 117.5,298.2 124.9,298.2 126.4,297.2 127.9,295.6 129.4,294.7 130.9,293.9 132.4,293.2 133.8,292.4 139.8,292.4 141.3,290.8 142.7,288.1 144.2,288.0 145.7,287.9 147.2,287.9 148.7,287.7 150.2,286.6 151.6,284.5 153.1,284.4 157.6,284.4 159.1,284.3 160.5,284.0 162.0,283.8 163.5,283.5 165.0,283.2 166.5,282.6 168.0,281.9 169.4,281.2 175.4,281.2 176.9,281.1 178.3,281.0 179.8,280.9 181.3,280.7 182.8,280.6 184.3,280.5 185.8,280.4 188.7,280.4 190.2,280.3 191.7,280.2 193.2,280.2 194.7,280.1 196.1,280.1 211.0,280.1 212.5,279.9 213.9,279.8 215.4,279.6 216.9,279.5 218.4,279.3 252.5,279.3 254.0,279.2 255.5,278.9 257.0,278.5 258.5,278.3 259.9,278.0 270.3,278.0 271.8,278.0 273.3,278.0 274.8,278.0 276.3,278.0 295.5,278.0 297.0,278.0 298.5,278.0 300.0,278.0 301.5,278.0 303.0,278.0 304.4,278.0 305.9,278.0 307.4,278.0 346.0,278.0 347.5,277.8 349.0,277.7 380.1,277.7 381.6,277.7 383.1,277.6 384.6,277.6 411.3,277.6 412.8,277.2 414.2,276.7 415.7,276.0 449.8,276.0 451.3,268.8 452.8,256.7 454.3,252.3 512.2,252.3 513.6,250.9 515.1,249.1 525.5,249.1 527.0,248.7 528.5,248.1 530.0,248.1 531.4,245.2 532.9,243.6 534.4,240.7 535.9,235.6 537.4,235.6 538.9,229.6 540.3,222.0 541.8,218.4 543.3,213.8 564.1,213.8 565.6,212.3 567.0,210.1 568.5,209.1 570.0,207.8 571.5,207.8 573.0,205.3 578.9,205.3 580.4,188.7 579.7,188.7"/><polyline points="37.4,341.0 38.9,341.0 40.4,340.1 41.9,338.7 43.3,338.3 44.8,337.7 46.3,336.6 47.8,336.1 49.3,335.2 50.8,335.1 52.2,335.0 53.7,334.9 55.2,334.1 56.7,333.5 58.2,332.0 64.1,332.0 65.6,331.8 67.1,331.3 68.6,330.3 70.0,330.3 71.5,329.6 73.0,329.2 74.5,328.0 76.0,326.6 77.5,324.7 78.9,321.6 80.4,319.9 81.9,318.9 83.4,318.4 87.8,318.4 89.3,317.8 90.8,317.3 92.3,316.9 98.2,316.9 99.7,315.3 101.2,311.3 102.7,308.6 104.2,303.5 105.6,301.9 107.1,301.5 108.6,301.2 110.1,300.9 111.6,300.1 113.1,299.4 114.5,298.8 116.0,298.2 117.5,297.8 119.0,297.6 120.5,297.2 124.9,297.2 126.4,296.7 127.9,296.2 129.4,295.6 130.9,295.4 136.8,295.4 138.3,294.8 139.8,293.9 141.3,293.0 142.7,292.7 144.2,292.0 151.6,292.0 153.1,291.4 154.6,291.3 156.1,290.6 157.6,290.2 159.1,289.8 160.5,289.2 162.0,288.3 163.5,288.3 165.0,288.3 166.5,288.3 168.0,288.1 169.4,287.8 170.9,287.8 172.4,287.6 173.9,287.3 175.4,287.0 176.9,286.6 178.3,285.9 179.8,285.5 181.3,285.0 182.8,284.6 187.2,284.6 188.7,284.2 190.2,284.0 191.7,283.6 193.2,283.6 194.7,283.4 196.1,283.3 197.6,282.9 199.1,282.6 200.6,282.3 202.1,281.9 203.6,281.6 205.0,281.5 206.5,281.4 211.0,281.4 212.5,281.3 213.9,281.2 239.2,281.2 240.7,280.8 242.1,280.7 243.6,280.3 245.1,280.0 246.6,279.6 248.1,279.3 249.6,279.0 251.0,278.9 252.5,278.8 254.0,278.8 255.5,278.7 257.0,278.6 258.5,278.5 259.9,278.5 264.4,278.5 265.9,278.5 267.4,278.5 268.8,278.5 270.3,278.5 271.8,278.5 446.9,278.5 448.4,278.2 455.8,278.2 457.3,277.7 458.7,277.1 470.6,277.1 472.1,277.1 485.4,277.1 486.9,276.8 488.4,276.6 506.2,276.6 507.7,244.7 522.5,244.7 524.0,243.8 525.5,242.4 527.0,240.7 528.5,238.6 547.8,238.6 549.2,234.2 550.7,227.9 571.5,227.9 573.0,227.0 574.5,226.6 575.9,225.5 578.9,225.5 580.4,220.2 579.7,220.2"/><polyline points="37.4,341.0 40.4,341.0 41.9,340.5 43.3,340.3 44.8,336.5 46.3,334.0 47.8,331.5 49.3,331.0 50.8,325.4 52.2,323.3 53.7,322.8 55.2,322.2 56.7,322.2 58.2,321.5 59.7,321.0 61.1,320.7 71.5,320.7 73.0,320.6 74.5,320.5 76.0,320.4 77.5,320.3 90.8,320.3 92.3,319.4 93.8,318.7 95.3,317.1 96.7,316.2 98.2,315.5 99.7,311.5 101.2,311.3 105.6,311.3 107.1,304.8 108.6,296.9 110.1,291.5 111.6,288.5 113.1,287.2 114.5,285.5 116.0,284.6 117.5,283.4 127.9,283.4 129.4,283.4 130.9,283.4 132.4,283.4 133.8,283.4 135.3,283.4 136.8,283.4 138.3,283.4 139.8,283.4 141.3,283.4 142.7,283.4 144.2,283.4 145.7,283.4 147.2,283.4 148.7,283.4 150.2,283.4 151.6,283.4 153.1,283.4 154.6,283.4 156.1,283.4 157.6,283.4 160.5,283.4 162.0,283.4 163.5,283.4 165.0,283.4 166.5,283.4 168.0,283.4 169.4,283.4 170.9,283.4 172.4,283.4 197.6,283.4 199.1,282.4 202.1,282.4 203.6,282.0 205.0,281.6 206.5,281.5 208.0,281.2 258.5,281.2 259.9,280.9 261.4,280.0 267.4,280.0 268.8,280.0 270.3,280.0 271.8,280.0 273.3,280.0 274.8,280.0 289.6,280.0 291.1,280.0 451.3,280.0 452.8,276.2 454.3,273.3 455.8,268.3 457.3,268.3 458.7,267.2 460.2,265.1 461.7,263.3 467.6,263.3 469.1,261.1 516.6,261.1 518.1,256.9 519.6,250.9 528.5,250.9 530.0,249.6 531.4,248.0 538.9,248.0 540.3,241.6 541.8,234.1 547.8,234.1 549.2,232.2 550.7,231.0 552.2,227.8 553.7,222.6 565.6,222.6 567.0,216.7 568.5,211.2 577.4,211.2 578.9,209.2 580.4,204.8 579.7,204.8"/><polyline points="37.4,341.0 41.9,341.0 43.3,340.7 44.8,340.1 46.3,338.6 47.8,337.0 49.3,336.5 50.8,333.8 52.2,332.3 53.7,330.2 55.2,328.1 62.6,328.1 64.1,327.3 65.6,326.5 67.1,325.9 68.6,325.3 70.0,323.3 71.5,320.8 73.0,317.6 74.5,316.9 76.0,315.8 77.5,315.1 78.9,313.1 80.4,311.3 81.9,310.3 83.4,308.8 84.9,307.2 86.4,306.1 87.8,306.1 89.3,305.6 90.8,305.0 92.3,304.0 93.8,303.4 95.3,302.8 96.7,302.5 98.2,301.8 99.7,301.3 101.2,301.1 102.7,301.0 104.2,300.2 105.6,298.6 107.1,298.0 108.6,297.4 110.1,296.5 111.6,296.5 113.1,296.2 114.5,295.9 117.5,295.9 119.0,295.5 120.5,294.6 122.0,294.2 123.4,293.7 124.9,293.2 126.4,292.5 127.9,291.5 129.4,290.1 130.9,289.3 132.4,288.9 133.8,288.9 135.3,288.8 136.8,288.3 138.3,288.1 139.8,287.9 141.3,287.7 142.7,287.6 145.7,287.6 147.2,287.5 148.7,287.4 150.2,287.3 151.6,287.1 162.0,287.1 163.5,286.8 165.0,286.2 166.5,285.4 168.0,285.0 169.4,284.0 170.9,283.8 172.4,283.6 173.9,283.6 175.4,283.6 176.9,283.6 178.3,283.6 190.2,283.6 191.7,283.6 193.2,283.5 194.7,283.5 196.1,283.4 197.6,283.4 199.1,283.4 200.6,283.2 202.1,283.1 203.6,282.9 205.0,282.8 206.5,282.7 208.0,282.7 209.5,282.7 211.0,282.6 212.5,282.6 213.9,282.6 215.4,282.5 216.9,282.5 218.4,282.5 219.9,282.4 221.4,282.4 222.9,282.4 258.5,282.4 259.9,281.9 261.4,281.8 262.9,281.1 265.9,281.1 267.4,281.0 268.8,280.8 270.3,280.7 285.2,280.7 286.6,280.7 288.1,280.6 289.6,280.4 291.1,280.3 292.6,280.3 319.3,280.3 320.8,280.3 362.3,280.3 363.8,280.2 365.3,280.2 366.8,280.2 368.2,280.2 369.7,280.2 371.2,280.2 432.0,280.2 433.5,280.2 435.0,280.1 436.5,280.0 438.0,279.9 439.5,279.9 449.8,279.9 451.3,279.3 452.8,278.0 454.3,276.3 455.8,275.5 457.3,274.4 458.7,273.5 486.9,273.5 488.4,272.0 489.9,271.0 501.8,271.0 503.3,267.9 504.7,262.4 506.2,255.0 507.7,247.1 509.2,239.0 510.7,236.7 513.6,236.7 515.1,233.5 516.6,230.5 518.1,221.0 519.6,220.1 521.1,219.5 522.5,218.8 528.5,218.8 530.0,214.1 531.4,209.2 547.8,209.2 549.2,202.9 550.7,202.9 552.2,199.6 553.7,196.2 555.2,194.2 568.5,194.2 570.0,192.2 571.5,189.5 573.0,184.4 575.9,184.4 577.4,184.3 578.9,184.1 579.7,184.1"/><polyline points="37.4,341.0 38.9,341.0 40.4,340.3 41.9,339.6 44.8,339.6 46.3,339.5 47.8,339.3 49.3,339.0 50.8,339.0 52.2,338.6 53.7,338.4 55.2,337.7 56.7,336.8 58.2,335.5 59.7,335.1 61.1,335.0 62.6,334.8 64.1,334.8 65.6,334.7 67.1,333.9 68.6,333.5 70.0,332.6 71.5,331.7 73.0,331.2 74.5,330.6 76.0,330.4 77.5,330.1 78.9,329.9 80.4,329.9 81.9,329.8 83.4,329.7 86.4,329.7 87.8,328.0 89.3,325.6 90.8,323.1 92.3,321.4 93.8,321.2 95.3,320.8 96.7,320.0 98.2,318.9 99.7,316.0 101.2,314.2 102.7,313.8 104.2,313.3 105.6,313.3 107.1,312.4 108.6,311.6 110.1,310.8 111.6,310.1 113.1,309.6 114.5,307.3 116.0,306.3 117.5,305.3 119.0,303.4 120.5,297.9 122.0,293.5 123.4,292.8 124.9,292.4 126.4,291.7 127.9,290.5 129.4,289.6 130.9,288.9 132.4,288.9 133.8,288.9 135.3,288.9 136.8,288.9 138.3,288.9 139.8,288.9 141.3,288.9 142.7,288.9 147.2,288.9 148.7,288.9 150.2,288.9 151.6,288.9 153.1,288.9 160.5,288.9 162.0,288.9 163.5,288.9 165.0,288.9 166.5,288.9 168.0,288.9 169.4,288.9 170.9,288.9 172.4,288.8 173.9,288.8 175.4,288.8 176.9,288.8 178.3,288.8 179.8,288.8 181.3,288.8 182.8,288.8 184.3,288.8 185.8,288.6 187.2,288.6 188.7,288.4 196.1,288.4 197.6,287.6 199.1,287.2 200.6,286.4 202.1,284.8 206.5,284.8 208.0,284.4 209.5,284.0 211.0,283.9 243.6,283.9 245.1,283.8 246.6,283.5 248.1,283.3 249.6,282.9 282.2,282.9 283.7,282.5 285.2,282.0 286.6,281.3 288.1,281.0 289.6,280.9 467.6,280.9 469.1,280.2 470.6,279.1 498.8,279.1 500.3,277.4 507.7,277.4 509.2,273.8 549.2,273.8 550.7,273.7 552.2,273.4 553.7,273.3 555.2,273.2 559.6,273.2 561.1,266.2 562.6,259.8 567.0,259.8 568.5,253.8 570.0,244.7 579.7,244.7"/><polyline points="37.4,341.0 38.9,341.0 40.4,338.2 41.9,334.3 43.3,333.2 46.3,333.2 47.8,330.2 49.3,327.3 50.8,325.0 52.2,312.0 53.7,306.2 55.2,305.1 59.7,305.1 61.1,303.3 62.6,301.8 64.1,301.3 65.6,301.3 67.1,297.7 68.6,295.1 70.0,295.1 71.5,293.3 73.0,291.8 84.9,291.8 86.4,291.7 87.8,291.5 95.3,291.5 96.7,291.4 98.2,291.3 99.7,291.2 101.2,291.1 104.2,291.1 105.6,290.7 107.1,290.6 108.6,290.6 110.1,290.4 120.5,290.4 122.0,290.4 123.4,290.3 124.9,290.1 126.4,289.9 127.9,289.7 133.8,289.7 135.3,289.7 136.8,289.7 138.3,289.7 139.8,289.7 141.3,289.7 142.7,289.7 144.2,289.7 145.7,289.7 147.2,289.7 148.7,289.7 150.2,289.7 151.6,289.7 153.1,289.7 162.0,289.7 163.5,289.7 165.0,289.7 170.9,289.7 172.4,289.7 173.9,289.7 175.4,289.7 176.9,289.7 178.3,289.7 179.8,289.7 181.3,289.7 184.3,289.7 185.8,289.1 187.2,289.0 188.7,288.8 191.7,288.8 193.2,288.8 194.7,288.7 196.1,288.7 197.6,288.4 199.1,287.9 200.6,287.6 206.5,287.6 208.0,287.3 209.5,286.9 211.0,286.7 212.5,285.9 213.9,285.9 215.4,285.4 234.7,285.4 236.2,285.2 237.7,284.9 239.2,284.6 240.7,284.3 283.7,284.3 285.2,284.3 286.6,284.3 288.1,284.3 289.6,284.2 291.1,284.2 292.6,284.2 294.1,284.2 317.8,284.2 319.3,284.2 320.8,284.2 322.3,284.2 323.7,284.2 387.5,284.2 389.0,284.2 390.5,284.2 392.0,284.2 435.0,284.2 436.5,284.2 438.0,284.2 439.5,284.2 440.9,284.2 442.4,284.2 443.9,284.2 445.4,284.2 452.8,284.2 454.3,284.1 455.8,284.1 457.3,284.0 458.7,284.0 460.2,284.0 461.7,284.0 463.2,284.0 464.7,284.0 466.2,283.9 495.8,283.9 497.3,282.5 510.7,282.5 512.2,281.9 513.6,281.4 524.0,281.4 525.5,278.5 527.0,277.7 528.5,277.4 558.1,277.4 559.6,277.4 561.1,277.4 562.6,277.1 564.1,277.0 565.6,277.0 570.0,277.0 571.5,276.9 573.0,276.7 574.5,276.5 575.9,276.4 577.4,276.2 578.9,275.9 579.7,275.9"/><polyline points="37.4,341.0 43.3,341.0 44.8,339.5 46.3,337.3 47.8,335.8 49.3,335.0 50.8,334.7 52.2,334.7 53.7,334.5 55.2,334.3 56.7,334.2 58.2,334.0 59.7,334.0 61.1,329.7 62.6,326.3 64.1,323.8 65.6,322.1 67.1,320.8 68.6,320.3 70.0,318.4 71.5,317.8 73.0,317.8 74.5,315.9 76.0,312.6 77.5,311.9 78.9,308.8 80.4,306.1 81.9,303.0 83.4,300.2 84.9,300.1 86.4,299.9 87.8,299.8 90.8,299.8 92.3,299.0 93.8,298.0 95.3,296.8 96.7,296.1 98.2,295.5 99.7,295.2 101.2,294.6 111.6,294.6 113.1,294.6 114.5,294.5 116.0,294.5 117.5,293.8 119.0,293.7 120.5,293.6 123.4,293.6 124.9,292.2 126.4,290.9 127.9,290.7 129.4,290.6 130.9,290.4 132.4,290.1 133.8,289.9 135.3,289.9 136.8,289.9 138.3,289.9 139.8,289.9 141.3,289.9 142.7,289.9 144.2,289.9 145.7,289.9 147.2,289.9 148.7,289.9 150.2,289.9 151.6,289.9 153.1,289.9 154.6,289.9 156.1,289.9 157.6,289.8 159.1,289.8 160.5,289.8 162.0,289.8 163.5,289.8 165.0,289.8 166.5,289.8 168.0,289.8 197.6,289.8 199.1,289.6 200.6,289.3 202.1,289.3 203.6,289.3 205.0,289.3 206.5,289.2 208.0,289.1 209.5,289.0 211.0,288.9 212.5,288.9 213.9,288.8 251.0,288.8 252.5,287.4 254.0,285.9 255.5,285.0 257.0,284.4 277.7,284.4 279.2,284.3 280.7,284.2 282.2,284.2 283.7,284.0 285.2,283.9 286.6,283.8 334.1,283.8 335.6,283.8 337.1,283.8 338.6,283.8 340.1,283.8 341.5,283.8 371.2,283.8 372.7,283.6 374.2,282.8 421.7,282.8 423.1,282.5 464.7,282.5 466.2,254.2 497.3,254.2 498.8,246.6 500.3,244.0 501.8,237.8 527.0,237.8 528.5,231.9 530.0,214.9 531.4,207.5 535.9,207.5 537.4,204.0 538.9,202.7 549.2,202.7 550.7,202.2 561.1,202.2 562.6,200.2 564.1,198.5 565.6,196.8 567.0,181.7 575.9,181.7 577.4,180.4 579.7,180.4"/><polyline points="37.4,341.0 38.9,341.0 40.4,340.7 41.9,340.5 43.3,340.3 44.8,340.2 46.3,340.0 47.8,339.8 49.3,339.8 50.8,339.8 52.2,339.8 53.7,339.6 55.2,339.4 56.7,339.3 58.2,339.1 62.6,339.1 64.1,339.0 65.6,338.9 67.1,338.7 68.6,338.7 76.0,338.7 77.5,338.1 78.9,338.1 80.4,337.8 81.9,337.3 83.4,336.5 84.9,336.2 86.4,335.6 87.8,334.0 89.3,333.3 104.2,333.3 105.6,332.2 107.1,330.8 108.6,329.1 110.1,328.4 111.6,326.6 113.1,322.8 114.5,319.3 116.0,314.9 117.5,310.5 123.4,310.5 124.9,306.6 126.4,302.3 127.9,300.4 129.4,299.2 142.7,299.2 144.2,298.7 145.7,297.1 153.1,297.1 154.6,295.8 156.1,293.3 157.6,291.7 159.1,288.7 166.5,288.7 168.0,288.6 169.4,288.3 170.9,287.8 172.4,287.4 173.9,287.0 175.4,286.7 176.9,286.6 178.3,286.6 179.8,286.6 181.3,286.5 182.8,286.5 184.3,286.5 185.8,286.5 187.2,286.5 188.7,286.5 190.2,286.5 191.7,286.4 193.2,286.4 194.7,286.4 196.1,286.3 197.6,286.3 199.1,286.2 200.6,286.2 215.4,286.2 216.9,286.2 218.4,286.2 219.9,286.2 221.4,286.1 222.9,286.0 224.3,285.9 225.8,285.8 234.7,285.8 236.2,285.8 249.6,285.8 251.0,285.8 252.5,285.7 254.0,285.6 288.1,285.6 289.6,285.1 291.1,284.6 292.6,284.3 337.1,284.3 338.6,284.3 340.1,284.3 356.4,284.3 357.9,284.3 359.3,284.0 360.8,283.9 362.3,283.8 363.8,283.7 365.3,283.6 366.8,283.4 427.6,283.4 429.1,282.8 430.6,282.1 432.0,281.3 433.5,280.7 435.0,280.2 436.5,279.4 488.4,279.4 489.9,271.5 491.4,262.7 515.1,262.7 516.6,252.0 528.5,252.0 530.0,244.1 532.9,244.1 534.4,239.3 535.9,236.1 537.4,232.7 549.2,232.7 550.7,226.2 552.2,223.0 553.7,218.3 555.2,206.6 561.1,206.6 562.6,203.1 564.1,201.6 567.0,201.6 568.5,192.6 570.0,185.5 571.5,179.2 575.9,179.2 577.4,173.5 578.9,171.8 579.7,171.8"/><polyline points="37.4,341.0 38.9,341.0 40.4,340.9 41.9,340.7 43.3,338.2 44.8,338.1 46.3,338.1 47.8,337.9 52.2,337.9 53.7,337.4 55.2,336.9 56.7,336.9 58.2,336.4 59.7,335.9 61.1,335.3 65.6,335.3 67.1,334.2 74.5,334.2 76.0,333.6 77.5,333.6 78.9,332.2 80.4,330.8 81.9,330.4 83.4,329.9 84.9,329.3 86.4,329.0 87.8,327.6 89.3,326.7 90.8,325.8 92.3,325.3 93.8,324.9 95.3,323.6 98.2,323.6 99.7,322.9 101.2,322.1 102.7,321.2 104.2,321.1 105.6,320.9 107.1,320.9 108.6,320.4 110.1,319.7 111.6,318.6 113.1,317.7 114.5,316.7 116.0,315.7 117.5,314.3 119.0,313.8 120.5,312.6 122.0,311.5 123.4,310.9 124.9,310.6 126.4,310.3 133.8,310.3 135.3,308.9 136.8,307.0 138.3,306.2 150.2,306.2 151.6,306.2 153.1,305.9 154.6,305.7 156.1,305.7 157.6,303.9 159.1,302.5 160.5,302.5 162.0,299.9 163.5,299.9 165.0,295.6 166.5,294.4 168.0,292.7 169.4,290.2 185.8,290.2 187.2,290.2 188.7,290.2 199.1,290.2 200.6,289.6 208.0,289.6 209.5,289.6 211.0,289.5 212.5,289.5 213.9,289.4 215.4,289.4 216.9,289.3 219.9,289.3 221.4,289.1 222.9,288.6 224.3,288.5 225.8,288.0 227.3,287.5 228.8,286.8 230.3,286.1 231.8,285.2 233.2,284.2 234.7,283.8 267.4,283.8 268.8,283.8 270.3,283.8 271.8,283.8 350.4,283.8 351.9,283.7 353.4,283.7 354.9,283.7 356.4,283.7 366.8,283.7 368.2,283.7 369.7,283.6 371.2,283.6 372.7,283.6 374.2,283.6 442.4,283.6 443.9,283.5 445.4,283.4 446.9,283.3 448.4,283.3 449.8,283.2 451.3,282.1 452.8,279.1 454.3,278.5 481.0,278.5 482.5,275.8 484.0,272.7 492.9,272.7 494.3,267.0 495.8,266.3 497.3,257.4 498.8,250.2 500.3,248.2 531.4,248.2 532.9,244.4 534.4,240.4 535.9,235.7 537.4,232.6 538.9,230.2 540.3,230.2 541.8,221.4 543.3,218.8 544.8,217.4 573.0,217.4 574.5,217.3 575.9,217.0 578.9,217.0 580.4,209.4 579.7,209.4"/><polyline points="37.4,341.0 40.4,341.0 41.9,338.5 43.3,335.7 44.8,334.2 46.3,330.4 47.8,323.5 49.3,319.8 50.8,318.8 52.2,318.2 53.7,316.8 55.2,315.6 58.2,315.6 59.7,314.8 61.1,313.6 62.6,313.6 64.1,313.2 65.6,309.1 67.1,307.2 68.6,306.0 76.0,306.0 77.5,304.0 78.9,301.6 80.4,300.3 81.9,298.8 83.4,297.1 84.9,296.0 86.4,296.0 87.8,296.0 89.3,295.9 90.8,295.9 93.8,295.9 95.3,295.9 96.7,295.9 98.2,295.8 99.7,295.7 101.2,295.7 102.7,295.7 105.6,295.7 107.1,295.7 108.6,295.7 110.1,295.6 111.6,295.6 113.1,295.6 114.5,295.6 116.0,295.5 117.5,295.5 119.0,295.5 120.5,295.5 122.0,295.4 123.4,295.3 124.9,295.2 126.4,295.2 132.4,295.2 133.8,295.1 135.3,294.9 136.8,294.6 138.3,294.3 139.8,293.5 141.3,292.9 142.7,292.9 144.2,292.7 145.7,292.5 147.2,291.6 150.2,291.6 151.6,291.5 153.1,291.4 154.6,291.4 157.6,291.4 159.1,291.2 160.5,291.1 162.0,291.0 163.5,290.5 165.0,289.2 166.5,288.7 168.0,288.3 169.4,287.8 170.9,287.5 172.4,287.4 173.9,287.4 175.4,287.2 176.9,286.8 178.3,286.5 179.8,286.2 181.3,286.1 182.8,285.6 184.3,285.3 185.8,285.2 187.2,285.2 188.7,285.2 208.0,285.2 209.5,285.1 211.0,285.0 212.5,284.9 213.9,284.8 215.4,284.7 216.9,284.6 218.4,284.4 224.3,284.4 225.8,284.3 227.3,284.3 228.8,284.2 230.3,284.1 291.1,284.1 292.6,283.6 316.3,283.6 317.8,282.5 319.3,282.3 329.7,282.3 331.2,281.7 332.6,280.4 359.3,280.4 360.8,280.4 417.2,280.4 418.7,280.4 420.2,280.3 421.7,280.3 423.1,280.3 424.6,280.2 426.1,280.1 427.6,280.0 429.1,280.0 457.3,280.0 458.7,279.5 460.2,279.1 461.7,278.8 507.7,278.8 509.2,266.9 519.6,266.9 521.1,263.4 522.5,256.5 524.0,250.6 525.5,247.7 527.0,243.7 528.5,239.8 541.8,239.8 543.3,237.0 544.8,234.8 546.3,233.4 547.8,222.1 549.2,217.6 559.6,217.6 561.1,213.0 564.1,213.0 565.6,189.8 579.7,189.8"/><polyline points="37.4,341.0 53.7,341.0 55.2,332.5 56.7,325.4 58.2,323.4 59.7,319.7 73.0,319.7 74.5,313.8 76.0,308.4 78.9,308.4 80.4,306.4 81.9,303.1 83.4,298.5 84.9,298.4 86.4,298.1 87.8,297.8 89.3,297.7 90.8,297.4 92.3,297.3 98.2,297.3 99.7,297.2 101.2,297.0 102.7,296.6 110.1,296.6 111.6,296.0 113.1,295.7 114.5,295.2 116.0,295.0 117.5,295.0 119.0,294.7 120.5,294.3 122.0,293.9 127.9,293.9 129.4,293.9 130.9,293.9 132.4,293.9 135.3,293.9 136.8,293.9 138.3,293.9 139.8,293.8 141.3,293.8 142.7,293.7 144.2,293.7 148.7,293.7 150.2,293.7 151.6,293.7 153.1,293.6 154.6,293.6 156.1,293.6 163.5,293.6 165.0,293.6 166.5,293.6 168.0,293.6 169.4,293.6 172.4,293.6 173.9,293.3 175.4,293.2 176.9,292.8 178.3,292.7 179.8,292.7 181.3,292.6 182.8,292.4 184.3,292.2 185.8,292.1 187.2,292.0 188.7,291.9 190.2,291.4 191.7,290.7 193.2,290.5 205.0,290.5 206.5,290.4 208.0,290.3 209.5,290.2 211.0,290.2 212.5,289.9 213.9,289.9 215.4,289.2 216.9,289.1 218.4,288.8 219.9,288.6 222.9,288.6 224.3,287.4 225.8,286.3 227.3,285.7 255.5,285.7 257.0,285.6 258.5,285.5 259.9,285.4 262.9,285.4 264.4,285.4 297.0,285.4 298.5,285.4 300.0,285.4 301.5,285.3 303.0,285.3 304.4,285.3 305.9,285.3 307.4,285.3 326.7,285.3 328.2,285.3 360.8,285.3 362.3,285.3 363.8,285.3 365.3,285.3 366.8,285.3 412.8,285.3 414.2,285.0 415.7,284.9 470.6,284.9 472.1,282.6 473.6,280.4 485.4,280.4 486.9,279.8 488.4,278.0 489.9,275.9 532.9,275.9 534.4,251.8 535.9,222.8 537.4,220.4 543.3,220.4 544.8,219.6 546.3,215.7 574.5,215.7 575.9,215.3 577.4,215.1 578.9,215.0 579.7,215.0"/><polyline points="37.4,341.0 44.8,341.0 46.3,339.9 47.8,338.1 49.3,335.5 50.8,329.5 52.2,329.0 53.7,321.5 55.2,319.4 56.7,317.0 58.2,317.0 59.7,316.7 61.1,316.1 62.6,315.4 64.1,311.0 65.6,309.3 67.1,307.2 89.3,307.2 90.8,306.4 92.3,304.7 93.8,302.7 95.3,301.4 96.7,301.2 98.2,301.0 99.7,300.2 101.2,299.6 102.7,299.2 104.2,298.7 105.6,298.1 111.6,298.1 113.1,297.6 114.5,296.8 116.0,295.1 117.5,294.9 119.0,294.6 127.9,294.6 129.4,294.6 130.9,294.6 132.4,294.5 133.8,294.5 135.3,294.5 136.8,294.4 138.3,294.3 142.7,294.3 144.2,294.3 145.7,294.3 147.2,294.2 148.7,294.2 153.1,294.2 154.6,294.1 156.1,294.1 157.6,294.0 159.1,293.9 160.5,293.9 162.0,293.9 163.5,293.9 165.0,293.9 166.5,293.9 168.0,293.8 169.4,293.8 172.4,293.8 173.9,293.6 175.4,293.3 176.9,293.3 178.3,293.2 179.8,293.2 181.3,293.2 182.8,293.0 184.3,292.9 185.8,292.8 187.2,292.8 188.7,292.8 190.2,292.8 191.7,292.3 193.2,291.8 194.7,291.5 196.1,291.4 197.6,291.4 199.1,291.1 200.6,290.8 202.1,290.7 203.6,290.5 205.0,290.4 206.5,290.3 209.5,290.3 211.0,289.9 236.2,289.9 237.7,288.6 300.0,288.6 301.5,288.3 303.0,287.6 304.4,287.4 305.9,286.9 307.4,286.1 308.9,285.8 310.4,285.4 316.3,285.4 317.8,285.4 371.2,285.4 372.7,285.4 374.2,285.3 375.7,285.3 377.1,285.3 411.3,285.3 412.8,285.2 414.2,285.2 415.7,285.2 417.2,285.1 446.9,285.1 448.4,279.7 449.8,277.5 451.3,272.3 452.8,270.9 488.4,270.9 489.9,266.8 491.4,265.8 492.9,265.4 495.8,265.4 497.3,264.7 498.8,263.4 500.3,262.3 501.8,261.6 516.6,261.6 518.1,259.7 519.6,257.1 521.1,252.3 522.5,249.2 524.0,246.5 525.5,245.5 527.0,245.5 528.5,243.5 530.0,242.3 531.4,241.5 543.3,241.5 544.8,240.4 546.3,239.6 547.8,238.9 549.2,238.3 550.7,236.7 552.2,236.3 553.7,235.0 556.7,235.0 558.1,234.0 559.6,232.9 561.1,230.9 562.6,230.9 564.1,229.9 571.5,229.9 573.0,229.4 574.5,228.7 575.9,227.8 579.7,227.8"/><polyline points="37.4,341.0 40.4,341.0 41.9,340.7 43.3,339.8 44.8,337.4 46.3,335.5 47.8,331.8 49.3,329.2 50.8,325.1 52.2,323.2 53.7,322.8 55.2,322.0 56.7,321.2 58.2,320.9 59.7,320.4 61.1,318.6 62.6,318.1 64.1,316.7 71.5,316.7 73.0,314.2 78.9,314.2 80.4,313.6 81.9,312.9 83.4,311.6 84.9,310.7 86.4,310.0 87.8,309.5 89.3,309.0 90.8,309.0 92.3,308.6 93.8,308.1 95.3,307.6 96.7,307.2 98.2,306.8 99.7,306.6 101.2,306.4 107.1,306.4 108.6,306.2 110.1,306.0 111.6,305.7 113.1,305.4 114.5,305.2 116.0,304.6 117.5,303.9 119.0,301.8 120.5,301.4 122.0,301.3 123.4,300.9 124.9,300.6 126.4,300.4 127.9,300.0 129.4,299.9 130.9,299.9 133.8,299.9 135.3,299.6 138.3,299.6 139.8,299.5 141.3,299.3 142.7,298.9 144.2,298.8 145.7,298.7 147.2,298.3 148.7,297.8 150.2,297.6 151.6,297.5 153.1,297.2 156.1,297.2 157.6,296.2 159.1,296.0 160.5,296.0 163.5,296.0 165.0,294.9 166.5,293.3 168.0,292.7 169.4,292.2 190.2,292.2 191.7,292.2 193.2,292.1 194.7,292.0 196.1,291.9 197.6,291.8 199.1,291.7 200.6,291.6 202.1,291.5 203.6,291.5 205.0,291.4 206.5,291.1 208.0,291.0 209.5,290.9 211.0,290.7 212.5,290.7 213.9,290.6 215.4,290.5 231.8,290.5 233.2,289.9 234.7,289.6 236.2,289.3 237.7,288.6 239.2,287.8 240.7,287.1 242.1,286.5 298.5,286.5 300.0,286.5 301.5,286.4 303.0,286.3 304.4,286.2 305.9,286.1 460.2,286.1 461.7,279.5 463.2,276.2 491.4,276.2 492.9,276.1 494.3,276.0 495.8,275.9 497.3,275.1 498.8,274.4 507.7,274.4 509.2,273.8 510.7,272.1 512.2,270.6 532.9,270.6 534.4,270.3 535.9,269.8 537.4,269.6 538.9,269.3 540.3,269.3 541.8,264.5 564.1,264.5 565.6,255.1 567.0,246.5 568.5,246.5 570.0,246.1 579.7,246.1"/><polyline points="37.4,341.0 50.8,341.0 52.2,337.7 56.7,337.7 58.2,335.2 59.7,333.9 61.1,328.6 62.6,323.9 64.1,321.3 65.6,305.2 76.0,305.2 77.5,304.2 78.9,302.7 80.4,301.4 81.9,297.3 83.4,296.1 84.9,296.0 86.4,295.7 87.8,295.5 89.3,295.1 90.8,295.1 92.3,295.1 93.8,295.1 95.3,295.1 96.7,295.0 98.2,295.0 99.7,295.0 101.2,295.0 102.7,295.0 104.2,295.0 105.6,295.0 107.1,295.0 108.6,294.9 110.1,294.9 111.6,294.9 113.1,294.9 114.5,294.9 116.0,294.9 117.5,294.9 119.0,294.8 120.5,294.8 122.0,294.8 123.4,294.8 124.9,294.8 126.4,294.7 130.9,294.7 132.4,294.5 133.8,294.1 135.3,294.1 136.8,294.0 138.3,293.9 139.8,293.9 141.3,293.7 142.7,293.7 144.2,293.6 145.7,293.5 147.2,293.4 148.7,293.3 150.2,293.2 153.1,293.2 154.6,293.1 156.1,293.0 157.6,293.0 166.5,293.0 168.0,292.9 175.4,292.9 176.9,292.8 182.8,292.8 184.3,292.7 185.8,292.6 187.2,292.5 188.7,292.4 190.2,292.2 193.2,292.2 194.7,292.1 196.1,292.0 197.6,291.9 199.1,291.7 200.6,291.7 202.1,291.7 203.6,291.6 205.0,291.6 206.5,291.5 213.9,291.5 215.4,291.4 216.9,291.4 230.3,291.4 231.8,291.2 233.2,291.1 234.7,290.7 236.2,290.4 237.7,290.3 282.2,290.3 283.7,290.3 285.2,290.3 286.6,290.3 288.1,290.2 332.6,290.2 334.1,289.7 335.6,289.4 337.1,289.0 338.6,288.7 369.7,288.7 371.2,288.6 372.7,288.6 374.2,288.4 375.7,288.3 377.1,288.2 405.3,288.2 406.8,288.0 408.3,287.8 409.8,287.4 411.3,287.1 412.8,287.0 414.2,286.8 443.9,286.8 445.4,286.8 446.9,286.6 448.4,286.6 449.8,286.5 460.2,286.5 461.7,286.2 463.2,286.2 464.7,286.1 466.2,285.9 467.6,285.8 486.9,285.8 488.4,285.8 489.9,285.7 491.4,285.6 492.9,285.6 494.3,281.4 495.8,273.0 497.3,263.3 498.8,258.4 515.1,258.4 516.6,250.4 531.4,250.4 532.9,245.2 534.4,241.5 541.8,241.5 543.3,239.3 544.8,237.1 553.7,237.1 555.2,232.9 556.7,228.1 558.1,227.4 559.6,226.3 570.0,226.3 571.5,223.9 573.0,219.5 574.5,214.8 575.9,213.4 579.7,213.4"/><polyline points="37.4,341.0 38.9,341.0 40.4,339.4 41.9,338.8 43.3,337.7 44.8,336.8 46.3,335.8 47.8,335.2 49.3,335.1 50.8,333.4 52.2,332.9 53.7,332.9 70.0,332.9 71.5,332.4 73.0,331.8 74.5,330.8 76.0,329.9 77.5,329.0 78.9,327.8 80.4,324.5 81.9,323.1 83.4,322.5 84.9,321.9 86.4,320.8 87.8,319.3 89.3,319.1 90.8,318.6 92.3,317.9 93.8,317.1 95.3,316.5 96.7,315.9 98.2,315.1 99.7,314.4 101.2,313.2 102.7,310.8 104.2,308.0 105.6,305.3 107.1,305.3 108.6,305.1 110.1,303.8 111.6,303.4 113.1,300.2 114.5,299.3 116.0,298.8 117.5,297.7 119.0,297.4 120.5,297.3 122.0,297.3 123.4,297.0 124.9,296.4 126.4,294.9 127.9,294.0 129.4,294.0 130.9,293.9 132.4,293.9 133.8,293.9 135.3,293.9 142.7,293.9 144.2,293.9 145.7,293.8 147.2,293.7 148.7,293.7 151.6,293.7 153.1,293.7 154.6,293.7 156.1,293.7 157.6,293.6 159.1,293.6 160.5,293.6 162.0,293.6 163.5,293.6 175.4,293.6 176.9,293.4 178.3,293.4 194.7,293.4 196.1,293.3 197.6,293.2 199.1,293.1 200.6,293.1 202.1,292.9 203.6,292.6 205.0,292.4 211.0,292.4 212.5,292.3 213.9,292.3 224.3,292.3 225.8,292.2 227.3,292.2 228.8,292.1 230.3,292.1 231.8,292.0 233.2,291.9 234.7,291.9 243.6,291.9 245.1,291.7 246.6,291.6 249.6,291.6 251.0,291.6 252.5,291.5 254.0,291.5 255.5,291.4 257.0,291.4 258.5,291.3 259.9,291.2 261.4,291.1 262.9,290.9 276.3,290.9 277.7,290.9 279.2,290.9 316.3,290.9 317.8,290.9 319.3,290.9 320.8,290.8 322.3,290.8 323.7,290.8 371.2,290.8 372.7,290.8 374.2,290.8 399.4,290.8 400.9,290.0 464.7,290.0 466.2,289.7 467.6,289.3 469.1,288.9 510.7,288.9 512.2,288.8 513.6,288.7 515.1,288.6 522.5,288.6 524.0,288.1 528.5,288.1 530.0,287.4 531.4,287.2 532.9,287.0 534.4,286.7 535.9,286.7 537.4,286.5 538.9,286.3 540.3,285.9 541.8,285.6 549.2,285.6 550.7,285.5 552.2,284.8 553.7,283.9 555.2,283.1 558.1,283.1 559.6,282.9 561.1,282.7 562.6,281.6 564.1,281.2 565.6,281.0 570.0,281.0 571.5,281.0 573.0,280.5 574.5,280.4 579.7,280.4"/><polyline points="37.4,341.0 40.4,341.0 41.9,340.2 43.3,338.4 44.8,336.8 46.3,335.4 47.8,333.3 55.2,333.3 56.7,332.1 58.2,331.7 59.7,330.4 61.1,328.5 62.6,327.7 67.1,327.7 68.6,327.4 70.0,324.7 71.5,322.9 73.0,319.9 74.5,318.2 76.0,315.3 77.5,314.9 78.9,314.4 80.4,313.5 81.9,312.8 83.4,312.4 99.7,312.4 101.2,308.1 102.7,308.1 104.2,307.5 105.6,306.9 107.1,306.1 113.1,306.1 114.5,305.9 116.0,305.6 117.5,305.3 119.0,303.1 120.5,302.7 122.0,302.3 123.4,301.8 127.9,301.8 129.4,301.8 130.9,301.8 132.4,301.8 133.8,301.8 135.3,301.8 136.8,301.6 138.3,301.5 139.8,301.5 141.3,301.5 142.7,301.4 144.2,301.3 145.7,301.1 147.2,300.9 148.7,300.7 153.1,300.7 154.6,300.6 156.1,300.5 159.1,300.5 160.5,300.4 162.0,300.4 163.5,300.4 166.5,300.4 168.0,300.3 169.4,300.3 170.9,300.3 172.4,300.3 179.8,300.3 181.3,297.6 182.8,294.9 184.3,293.9 185.8,293.4 187.2,293.0 188.7,291.6 190.2,291.1 228.8,291.1 230.3,291.1 231.8,291.0 233.2,290.9 234.7,290.9 243.6,290.9 245.1,290.8 246.6,290.7 248.1,290.7 285.2,290.7 286.6,290.7 288.1,290.7 289.6,290.7 291.1,290.7 292.6,290.6 294.1,290.6 347.5,290.6 349.0,290.6 350.4,290.6 351.9,290.6 353.4,290.5 354.9,290.5 356.4,290.5 365.3,290.5 366.8,290.5 368.2,290.5 369.7,290.4 400.9,290.4 402.4,290.4 403.8,290.4 405.3,290.4 406.8,290.4 408.3,290.4 409.8,290.4 411.3,290.4 414.2,290.4 415.7,290.4 417.2,290.4 418.7,290.4 420.2,290.4 440.9,290.4 442.4,290.4 460.2,290.4 461.7,279.7 494.3,279.7 495.8,278.3 497.3,276.4 498.8,274.6 503.3,274.6 504.7,264.7 512.2,264.7 513.6,263.2 540.3,263.2 541.8,263.1 543.3,263.0 544.8,262.7 546.3,262.5 547.8,261.9 549.2,261.9 550.7,261.8 552.2,261.6 553.7,261.5 561.1,261.5 562.6,261.3 564.1,261.2 565.6,260.9 571.5,260.9 573.0,260.9 574.5,260.7 575.9,259.5 579.7,259.5"/><polyline points="37.4,341.0 38.9,341.0 40.4,340.0 41.9,339.5 43.3,338.7 44.8,338.3 46.3,337.3 47.8,335.8 49.3,334.8 50.8,328.7 52.2,326.8 56.7,326.8 58.2,325.2 59.7,324.8 61.1,323.1 62.6,322.0 64.1,321.9 65.6,321.0 67.1,320.3 68.6,319.4 70.0,318.6 71.5,317.1 73.0,314.8 74.5,314.0 76.0,313.6 77.5,313.2 84.9,313.2 86.4,313.0 87.8,312.9 89.3,312.2 90.8,311.7 92.3,311.3 93.8,310.7 101.2,310.7 102.7,309.6 104.2,308.8 105.6,307.5 107.1,306.8 108.6,306.3 110.1,305.9 111.6,305.8 114.5,305.8 116.0,305.5 117.5,305.2 119.0,304.8 120.5,302.3 122.0,299.6 123.4,299.0 124.9,298.7 126.4,298.4 127.9,298.1 129.4,297.8 148.7,297.8 150.2,297.8 151.6,297.7 153.1,297.7 154.6,297.7 156.1,297.7 157.6,297.6 162.0,297.6 163.5,297.6 165.0,297.6 168.0,297.6 169.4,297.5 170.9,297.5 172.4,297.4 173.9,297.3 175.4,297.2 176.9,297.2 178.3,297.1 179.8,297.0 181.3,296.8 208.0,296.8 209.5,296.1 211.0,295.6 212.5,294.9 237.7,294.9 239.2,294.8 240.7,294.8 242.1,294.7 243.6,294.7 248.1,294.7 249.6,294.7 251.0,294.6 252.5,294.5 268.8,294.5 270.3,294.5 271.8,294.5 273.3,294.4 274.8,294.3 276.3,294.2 335.6,294.2 337.1,294.2 338.6,294.2 340.1,294.1 341.5,294.1 343.0,294.1 344.5,294.0 346.0,294.0 374.2,294.0 375.7,293.9 377.1,293.9 399.4,293.9 400.9,293.8 403.8,293.8 405.3,293.8 406.8,293.7 408.3,293.7 409.8,293.7 418.7,293.7 420.2,293.6 421.7,293.6 432.0,293.6 433.5,293.6 435.0,293.5 436.5,293.5 438.0,293.5 461.7,293.5 463.2,292.0 464.7,287.3 500.3,287.3 501.8,286.7 521.1,286.7 522.5,285.0 524.0,284.3 525.5,282.8 527.0,281.1 532.9,281.1 534.4,273.9 535.9,266.5 562.6,266.5 564.1,265.0 565.6,262.1 567.0,262.0 568.5,257.8 570.0,254.3 571.5,252.8 579.7,252.8"/><polyline points="37.4,341.0 40.4,341.0 41.9,341.0 43.3,341.0 44.8,340.9 46.3,340.8 47.8,340.7 49.3,340.6 50.8,340.6 53.7,340.6 55.2,340.5 56.7,340.4 58.2,340.3 59.7,340.3 61.1,340.3 62.6,340.3 64.1,340.3 65.6,340.2 67.1,340.2 68.6,340.0 70.0,340.0 81.9,340.0 83.4,340.0 84.9,340.0 86.4,339.9 87.8,339.9 89.3,338.2 90.8,335.5 92.3,334.2 93.8,332.8 95.3,331.5 104.2,331.5 105.6,329.2 107.1,327.9 108.6,326.3 110.1,326.3 111.6,325.8 113.1,324.4 114.5,321.9 116.0,319.1 117.5,317.0 119.0,317.0 120.5,316.4 122.0,315.1 123.4,311.1 124.9,309.7 126.4,307.2 127.9,306.5 129.4,305.6 139.8,305.6 141.3,305.5 142.7,305.4 144.2,305.1 145.7,304.8 147.2,303.8 148.7,302.9 150.2,302.5 151.6,302.3 157.6,302.3 159.1,302.3 160.5,302.2 162.0,302.2 163.5,301.6 165.0,301.3 166.5,301.3 168.0,301.2 175.4,301.2 176.9,300.9 178.3,300.8 179.8,300.5 181.3,300.2 182.8,300.0 184.3,299.6 191.7,299.6 193.2,299.6 194.7,299.4 196.1,299.3 209.5,299.3 211.0,299.3 212.5,299.2 213.9,299.1 215.4,298.9 216.9,298.6 218.4,298.3 219.9,298.2 221.4,298.1 222.9,297.9 239.2,297.9 240.7,297.0 242.1,295.7 243.6,295.3 245.1,294.7 280.7,294.7 282.2,294.6 283.7,294.5 347.5,294.5 349.0,294.5 350.4,294.5 351.9,294.5 353.4,294.5 354.9,294.5 392.0,294.5 393.5,294.4 394.9,294.4 396.4,294.4 397.9,294.4 430.6,294.4 432.0,294.3 466.2,294.3 467.6,293.8 469.1,293.3 470.6,292.7 472.1,292.0 500.3,292.0 501.8,291.7 503.3,290.4 504.7,289.3 532.9,289.3 534.4,289.0 535.9,288.8 537.4,288.6 538.9,288.4 540.3,288.4 541.8,287.9 543.3,287.6 544.8,287.4 559.6,287.4 561.1,284.7 562.6,282.8 564.1,282.0 565.6,280.8 567.0,280.0 568.5,279.7 570.0,279.2 571.5,278.4 573.0,278.0 574.5,277.6 579.7,277.6"/><polyline points="37.4,341.0 41.9,341.0 43.3,340.2 44.8,338.4 46.3,336.8 47.8,336.0 49.3,335.8 50.8,335.1 52.2,334.4 55.2,334.4 56.7,333.0 58.2,327.7 59.7,319.6 61.1,313.7 62.6,313.4 64.1,313.2 65.6,312.9 67.1,311.0 68.6,309.8 70.0,307.2 71.5,306.3 73.0,305.1 74.5,304.6 76.0,303.3 77.5,300.9 78.9,299.8 87.8,299.8 89.3,299.8 90.8,299.7 92.3,299.7 93.8,299.6 95.3,299.6 96.7,299.5 98.2,299.5 99.7,299.2 101.2,299.0 102.7,298.8 104.2,298.5 105.6,298.4 107.1,298.4 108.6,298.3 110.1,298.3 111.6,298.2 113.1,298.0 114.5,297.9 116.0,297.8 117.5,297.7 119.0,297.6 120.5,297.6 122.0,297.5 123.4,297.5 126.4,297.5 127.9,297.5 129.4,297.4 130.9,297.4 132.4,297.3 133.8,297.3 135.3,297.3 136.8,297.3 138.3,297.2 139.8,297.2 141.3,297.1 142.7,297.1 144.2,297.0 145.7,297.0 147.2,297.0 162.0,297.0 163.5,296.9 165.0,296.9 168.0,296.9 169.4,296.9 170.9,296.8 172.4,296.8 173.9,296.7 175.4,296.6 176.9,296.6 184.3,296.6 185.8,296.5 187.2,296.5 188.7,296.4 190.2,296.4 191.7,296.3 193.2,296.3 199.1,296.3 200.6,296.2 202.1,296.2 203.6,296.1 205.0,296.0 206.5,296.0 208.0,295.9 213.9,295.9 215.4,295.7 243.6,295.7 245.1,295.6 246.6,295.6 248.1,295.6 249.6,295.5 251.0,295.5 252.5,295.5 254.0,295.4 255.5,295.4 257.0,295.4 258.5,295.4 259.9,295.3 261.4,295.3 262.9,295.3 282.2,295.3 283.7,295.2 285.2,295.2 286.6,295.2 297.0,295.2 298.5,295.1 300.0,295.0 301.5,295.0 303.0,294.8 347.5,294.8 349.0,294.8 357.9,294.8 359.3,294.8 360.8,294.8 362.3,294.8 363.8,294.8 365.3,294.8 366.8,294.8 368.2,294.8 424.6,294.8 426.1,294.8 427.6,294.8 429.1,294.7 430.6,294.7 451.3,294.7 452.8,294.3 454.3,294.1 455.8,293.7 470.6,293.7 472.1,293.5 473.6,293.3 484.0,293.3 485.4,293.3 486.9,293.1 488.4,293.0 489.9,293.0 491.4,291.4 492.9,290.3 494.3,288.6 495.8,288.6 497.3,288.3 504.7,288.3 506.2,286.5 507.7,283.2 509.2,281.2 518.1,281.2 519.6,281.0 521.1,280.9 540.3,280.9 541.8,279.7 543.3,279.0 544.8,278.3 555.2,278.3 556.7,278.3 559.6,278.3 561.1,278.1 562.6,277.6 573.0,277.6 574.5,277.1 575.9,275.3 577.4,274.1 579.7,274.1"/><polyline points="37.4,341.0 53.7,341.0 55.2,340.3 56.7,339.9 58.2,339.2 59.7,337.8 61.1,336.5 62.6,336.1 74.5,336.1 76.0,335.6 77.5,334.5 78.9,333.9 80.4,333.1 81.9,332.9 83.4,332.6 84.9,332.4 86.4,332.3 87.8,332.3 89.3,332.2 90.8,332.2 92.3,331.7 93.8,331.4 95.3,331.3 96.7,331.2 98.2,331.2 99.7,331.2 101.2,331.2 102.7,330.9 107.1,330.9 108.6,330.9 110.1,330.7 111.6,330.2 113.1,330.1 114.5,329.7 116.0,329.5 117.5,329.3 119.0,328.9 120.5,328.6 122.0,328.3 123.4,328.2 124.9,327.9 126.4,327.7 127.9,326.6 129.4,326.0 130.9,325.2 132.4,324.8 133.8,324.8 135.3,324.4 136.8,323.3 138.3,321.8 139.8,320.1 141.3,319.3 142.7,317.5 154.6,317.5 156.1,316.6 157.6,314.8 159.1,313.5 160.5,310.4 162.0,308.5 163.5,306.5 165.0,304.9 166.5,303.8 168.0,302.8 169.4,301.8 170.9,300.4 172.4,299.8 173.9,299.2 176.9,299.2 178.3,298.8 179.8,298.6 181.3,298.5 182.8,298.1 199.1,298.1 200.6,297.7 202.1,297.1 203.6,296.7 205.0,296.4 206.5,296.1 208.0,295.9 209.5,295.8 222.9,295.8 224.3,295.6 225.8,295.5 227.3,295.4 301.5,295.4 303.0,295.4 304.4,295.4 338.6,295.4 340.1,295.4 341.5,295.4 378.6,295.4 380.1,295.0 381.6,294.6 383.1,294.1 384.6,293.2 386.0,292.9 387.5,292.4 389.0,291.6 405.3,291.6 406.8,291.5 408.3,291.4 409.8,291.4 411.3,291.3 412.8,291.2 414.2,291.0 436.5,291.0 438.0,290.8 439.5,290.7 454.3,290.7 455.8,285.8 513.6,285.8 515.1,276.1 535.9,276.1 537.4,275.9 538.9,274.6 540.3,272.6 541.8,271.7 543.3,271.7 544.8,271.5 546.3,271.4 547.8,271.2 549.2,271.2 550.7,270.8 552.2,270.6 567.0,270.6 568.5,270.4 570.0,270.3 571.5,270.1 573.0,269.5 574.5,268.8 575.9,268.6 579.7,268.6"/><polyline points="37.4,341.0 38.9,341.0 40.4,340.8 41.9,340.6 43.3,340.5 44.8,339.7 46.3,338.4 47.8,338.4 49.3,338.3 50.8,338.1 52.2,338.0 53.7,337.9 55.2,337.9 56.7,337.6 58.2,337.0 59.7,335.7 61.1,334.5 62.6,334.2 64.1,334.0 70.0,334.0 71.5,333.9 73.0,333.8 74.5,333.7 76.0,333.6 77.5,333.5 78.9,333.3 80.4,333.0 81.9,332.5 83.4,332.3 84.9,332.1 86.4,332.0 87.8,332.0 89.3,332.0 90.8,331.9 92.3,331.8 93.8,331.7 95.3,331.4 96.7,331.1 98.2,330.7 99.7,330.7 101.2,330.6 111.6,330.6 113.1,330.6 114.5,330.5 116.0,330.3 117.5,330.2 119.0,330.0 120.5,329.8 122.0,329.5 123.4,329.3 124.9,328.8 126.4,328.7 127.9,328.5 129.4,325.1 130.9,320.8 132.4,317.4 133.8,313.8 135.3,311.1 136.8,308.5 138.3,303.9 144.2,303.9 145.7,303.0 147.2,302.8 148.7,302.0 165.0,302.0 166.5,298.2 168.0,298.2 169.4,298.0 170.9,297.8 172.4,297.7 173.9,297.3 175.4,297.1 176.9,296.6 178.3,296.1 179.8,296.1 187.2,296.1 188.7,295.9 190.2,295.8 191.7,295.5 193.2,295.4 194.7,295.3 196.1,295.1 197.6,294.7 199.1,294.6 211.0,294.6 212.5,294.5 213.9,294.4 215.4,294.2 216.9,294.0 218.4,294.0 219.9,293.9 221.4,293.8 222.9,293.7 224.3,293.7 225.8,293.7 227.3,293.6 228.8,293.5 285.2,293.5 286.6,293.5 288.1,293.5 289.6,293.5 291.1,293.5 292.6,293.5 297.0,293.5 298.5,293.5 300.0,293.5 301.5,293.5 303.0,293.5 304.4,293.5 305.9,293.5 323.7,293.5 325.2,293.5 326.7,293.5 328.2,293.5 363.8,293.5 365.3,293.5 366.8,293.5 368.2,293.5 369.7,293.5 371.2,293.5 403.8,293.5 405.3,293.5 406.8,293.5 408.3,293.5 473.6,293.5 475.1,290.2 476.5,288.7 478.0,284.6 479.5,278.6 504.7,278.6 506.2,277.8 509.2,277.8 510.7,277.6 512.2,277.2 513.6,277.0 546.3,277.0 547.8,272.8 564.1,272.8 565.6,267.5 567.0,260.6 568.5,248.4 579.7,248.4"/><polyline points="37.4,341.0 46.3,341.0 47.8,340.7 49.3,340.6 50.8,340.3 52.2,340.0 53.7,340.0 55.2,339.7 56.7,337.3 58.2,335.3 61.1,335.3 62.6,333.7 68.6,333.7 70.0,333.4 71.5,333.2 73.0,332.6 74.5,332.2 76.0,330.4 77.5,328.8 78.9,328.4 80.4,328.2 81.9,327.6 83.4,327.0 84.9,326.6 86.4,326.2 87.8,326.2 89.3,325.4 90.8,323.4 92.3,321.9 95.3,321.9 96.7,321.6 98.2,321.0 99.7,320.3 101.2,319.7 102.7,319.4 104.2,319.4 105.6,319.2 107.1,316.7 108.6,312.1 110.1,309.7 111.6,309.7 113.1,308.7 114.5,308.4 116.0,307.1 117.5,304.6 119.0,303.3 120.5,301.8 122.0,299.3 126.4,299.3 127.9,299.3 129.4,299.3 130.9,299.3 132.4,299.3 133.8,299.3 135.3,299.2 136.8,299.2 138.3,299.2 139.8,299.2 141.3,299.2 142.7,299.2 144.2,299.1 145.7,299.1 147.2,299.1 148.7,299.1 150.2,299.1 151.6,299.1 153.1,299.1 157.6,299.1 159.1,299.1 160.5,299.0 162.0,299.0 163.5,298.9 165.0,298.9 170.9,298.9 172.4,298.9 173.9,298.8 175.4,298.8 176.9,298.8 178.3,298.8 190.2,298.8 191.7,298.6 193.2,298.6 194.7,298.5 254.0,298.5 255.5,298.3 257.0,298.2 258.5,298.1 261.4,298.1 262.9,298.0 264.4,297.7 265.9,297.7 267.4,297.7 268.8,297.6 270.3,297.3 313.3,297.3 314.8,297.3 316.3,297.3 317.8,297.3 319.3,297.3 320.8,297.3 322.3,297.3 323.7,297.3 325.2,297.3 335.6,297.3 337.1,297.3 338.6,297.3 340.1,297.3 341.5,297.3 343.0,297.3 344.5,297.3 387.5,297.3 389.0,297.3 390.5,297.3 392.0,297.3 393.5,297.2 394.9,297.2 396.4,297.2 400.9,297.2 402.4,296.9 403.8,296.7 405.3,296.6 484.0,296.6 485.4,292.3 486.9,290.5 503.3,290.5 504.7,288.6 506.2,283.9 507.7,283.9 509.2,282.8 510.7,281.7 512.2,278.7 513.6,276.4 515.1,276.0 519.6,276.0 521.1,271.8 530.0,271.8 531.4,270.0 532.9,268.1 534.4,265.8 535.9,264.0 558.1,264.0 559.6,252.3 561.1,229.2 562.6,215.3 579.7,215.3"/><polyline points="37.4,341.0 43.3,341.0 44.8,340.5 46.3,339.5 47.8,335.8 49.3,333.6 50.8,330.0 52.2,329.0 53.7,326.9 55.2,326.9 56.7,326.9 58.2,326.9 59.7,326.2 61.1,324.0 62.6,323.3 65.6,323.3 67.1,322.5 68.6,320.7 77.5,320.7 78.9,319.9 80.4,319.3 81.9,317.7 83.4,316.7 84.9,316.6 86.4,316.4 87.8,316.1 90.8,316.1 92.3,315.4 93.8,315.0 95.3,314.7 96.7,314.1 98.2,313.8 99.7,313.7 101.2,313.4 102.7,313.2 104.2,313.1 105.6,313.0 107.1,312.9 108.6,312.9 110.1,312.1 111.6,310.3 113.1,309.8 114.5,309.8 116.0,309.3 117.5,308.3 119.0,307.6 120.5,307.3 123.4,307.3 124.9,306.8 126.4,306.2 129.4,306.2 130.9,305.8 132.4,305.7 147.2,305.7 148.7,305.4 150.2,305.2 151.6,305.0 153.1,305.0 154.6,305.0 156.1,305.0 157.6,305.0 159.1,305.0 160.5,304.8 162.0,304.5 163.5,304.3 166.5,304.3 168.0,304.1 169.4,303.8 170.9,303.6 172.4,303.5 173.9,303.4 175.4,303.4 176.9,303.4 178.3,303.4 190.2,303.4 191.7,302.9 193.2,302.6 194.7,301.8 196.1,301.6 197.6,301.6 199.1,301.5 200.6,301.4 202.1,301.2 203.6,301.0 206.5,301.0 208.0,301.0 209.5,300.9 211.0,300.7 212.5,300.5 213.9,300.3 221.4,300.3 222.9,300.3 224.3,300.1 225.8,300.0 245.1,300.0 246.6,300.0 248.1,299.9 249.6,299.8 251.0,299.8 252.5,299.6 254.0,299.5 255.5,299.5 258.5,299.5 259.9,299.4 261.4,299.3 262.9,299.3 286.6,299.3 288.1,298.4 289.6,298.0 291.1,297.3 325.2,297.3 326.7,297.1 328.2,296.9 393.5,296.9 394.9,296.9 396.4,296.9 397.9,296.9 399.4,296.9 400.9,296.9 402.4,296.9 403.8,296.9 405.3,296.9 406.8,296.9 476.5,296.9 478.0,294.1 479.5,285.6 495.8,285.6 497.3,279.1 504.7,279.1 506.2,275.3 507.7,274.2 509.2,268.8 550.7,268.8 552.2,265.8 561.1,265.8 562.6,262.0 564.1,259.2 565.6,250.6 574.5,250.6 575.9,249.7 577.4,248.2 578.9,245.2 579.7,245.2"/><polyline points="37.4,341.0 41.9,341.0 43.3,340.7 44.8,340.5 46.3,340.5 47.8,340.2 49.3,339.8 50.8,339.5 52.2,339.4 61.1,339.4 62.6,339.4 64.1,339.3 65.6,339.2 67.1,339.2 74.5,339.2 76.0,339.0 77.5,338.8 78.9,338.6 80.4,338.6 81.9,338.6 83.4,338.5 84.9,338.5 86.4,337.3 87.8,336.2 89.3,332.2 101.2,332.2 102.7,331.2 104.2,331.0 105.6,327.5 107.1,323.6 108.6,322.6 110.1,321.6 111.6,321.3 113.1,321.1 114.5,320.8 116.0,320.7 117.5,320.5 119.0,320.4 120.5,320.4 122.0,320.3 123.4,318.0 124.9,316.5 126.4,314.7 127.9,309.7 129.4,309.3 130.9,308.2 132.4,307.6 133.8,307.0 135.3,306.9 136.8,306.4 138.3,306.2 139.8,304.9 157.6,304.9 159.1,304.8 160.5,304.5 162.0,304.4 163.5,303.6 165.0,303.2 166.5,302.5 168.0,301.8 169.4,301.0 170.9,300.0 172.4,299.0 173.9,297.8 188.7,297.8 190.2,297.8 191.7,297.7 193.2,297.7 194.7,297.7 200.6,297.7 202.1,297.4 205.0,297.4 206.5,297.4 208.0,297.4 209.5,297.4 211.0,297.3 212.5,297.3 213.9,297.3 215.4,297.3 216.9,297.3 218.4,297.3 219.9,297.3 221.4,297.3 222.9,297.3 224.3,297.3 225.8,297.3 227.3,297.3 228.8,297.3 236.2,297.3 237.7,297.2 239.2,297.2 240.7,297.2 242.1,297.2 246.6,297.2 248.1,297.1 249.6,297.1 251.0,297.1 252.5,297.1 254.0,297.1 255.5,297.1 257.0,297.0 258.5,297.0 276.3,297.0 277.7,297.0 279.2,297.0 280.7,296.9 282.2,296.9 347.5,296.9 349.0,296.6 350.4,296.5 375.7,296.5 377.1,296.4 378.6,296.4 380.1,296.4 408.3,296.4 409.8,296.4 411.3,296.3 412.8,296.3 414.2,296.2 415.7,296.2 417.2,296.1 432.0,296.1 433.5,296.0 435.0,296.0 436.5,295.9 438.0,295.8 439.5,295.8 484.0,295.8 485.4,289.4 524.0,289.4 525.5,280.9 527.0,276.0 528.5,266.9 530.0,260.9 543.3,260.9 544.8,259.4 546.3,258.5 547.8,258.1 549.2,253.0 550.7,248.0 552.2,248.0 553.7,247.5 555.2,247.2 556.7,247.0 571.5,247.0 573.0,238.6 574.5,235.6 575.9,232.5 577.4,229.5 579.7,229.5"/><polyline points="37.4,341.0 43.3,341.0 44.8,340.9 46.3,340.7 47.8,340.5 49.3,340.3 53.7,340.3 55.2,337.7 56.7,333.0 58.2,327.3 59.7,324.4 61.1,319.1 62.6,317.3 64.1,316.8 65.6,315.7 71.5,315.7 73.0,311.0 74.5,306.4 87.8,306.4 89.3,305.9 90.8,305.5 92.3,305.4 93.8,305.3 95.3,305.0 96.7,304.8 98.2,304.6 99.7,304.2 101.2,304.0 102.7,303.8 104.2,303.7 105.6,303.7 107.1,303.7 108.6,303.7 110.1,303.7 111.6,303.7 113.1,303.7 122.0,303.7 123.4,303.7 124.9,303.6 126.4,303.5 127.9,303.4 129.4,303.2 130.9,303.1 132.4,303.0 133.8,302.8 136.8,302.8 138.3,302.8 139.8,302.8 141.3,302.8 142.7,302.8 144.2,302.8 145.7,302.8 147.2,302.8 148.7,302.7 150.2,302.7 151.6,302.7 153.1,302.7 154.6,302.7 156.1,302.7 157.6,302.7 159.1,302.7 160.5,302.7 162.0,302.7 163.5,302.7 165.0,302.7 166.5,302.7 168.0,302.7 169.4,302.7 170.9,302.7 172.4,302.7 208.0,302.7 209.5,302.4 211.0,302.2 212.5,302.1 213.9,302.0 215.4,302.0 216.9,301.9 218.4,301.8 219.9,301.8 221.4,301.7 222.9,301.7 224.3,301.6 225.8,301.5 242.1,301.5 243.6,301.0 245.1,300.7 246.6,299.3 248.1,298.7 273.3,298.7 274.8,298.5 276.3,298.1 277.7,297.5 279.2,297.4 308.9,297.4 310.4,297.2 311.9,296.7 313.3,296.3 314.8,296.0 389.0,296.0 390.5,296.0 392.0,296.0 393.5,295.9 394.9,295.9 429.1,295.9 430.6,295.2 432.0,294.6 433.5,292.9 486.9,292.9 488.4,289.9 501.8,289.9 503.3,289.7 504.7,289.5 510.7,289.5 512.2,289.0 513.6,287.8 515.1,286.3 525.5,286.3 527.0,286.3 528.5,286.3 530.0,286.2 531.4,286.1 532.9,286.0 537.4,286.0 538.9,285.0 540.3,283.8 541.8,283.3 550.7,283.3 552.2,282.8 553.7,282.1 555.2,282.1 556.7,281.9 558.1,281.2 559.6,280.9 564.1,280.9 565.6,280.9 570.0,280.9 571.5,280.9 573.0,280.8 574.5,280.7 579.7,280.7"/><polyline points="37.4,341.0 44.8,341.0 46.3,339.1 47.8,337.7 49.3,335.8 50.8,334.8 52.2,333.4 53.7,332.3 55.2,331.2 56.7,330.7 58.2,330.5 59.7,330.0 61.1,327.0 62.6,326.2 64.1,326.2 65.6,325.9 67.1,325.6 68.6,325.3 70.0,325.1 83.4,325.1 84.9,324.4 86.4,323.5 87.8,322.7 92.3,322.7 93.8,322.2 95.3,321.7 96.7,321.0 98.2,320.6 99.7,320.6 101.2,319.4 102.7,319.1 104.2,318.6 108.6,318.6 110.1,318.2 111.6,317.6 113.1,317.4 114.5,317.0 116.0,316.0 119.0,316.0 120.5,315.9 122.0,315.6 123.4,314.9 124.9,314.1 126.4,313.7 127.9,313.5 139.8,313.5 141.3,313.2 142.7,311.3 144.2,310.0 145.7,308.0 147.2,307.2 148.7,305.8 150.2,305.7 151.6,305.6 153.1,305.5 169.4,305.5 170.9,305.1 172.4,304.5 173.9,303.3 175.4,302.7 190.2,302.7 191.7,302.6 193.2,302.6 194.7,302.6 196.1,302.5 197.6,302.3 199.1,302.1 200.6,302.0 202.1,301.8 221.4,301.8 222.9,301.8 224.3,301.8 225.8,301.6 227.3,301.5 237.7,301.5 239.2,301.5 240.7,301.4 242.1,301.3 258.5,301.3 259.9,301.3 261.4,301.2 262.9,301.2 264.4,301.2 265.9,301.1 267.4,301.1 268.8,301.0 301.5,301.0 303.0,301.0 304.4,301.0 305.9,301.0 307.4,301.0 308.9,301.0 310.4,301.0 311.9,301.0 313.3,301.0 314.8,301.0 316.3,301.0 368.2,301.0 369.7,301.0 371.2,301.0 372.7,301.0 374.2,301.0 375.7,301.0 377.1,301.0 378.6,301.0 411.3,301.0 412.8,301.0 414.2,301.0 415.7,301.0 417.2,301.0 445.4,301.0 446.9,300.9 455.8,300.9 457.3,300.1 458.7,299.6 460.2,299.2 467.6,299.2 469.1,299.2 470.6,299.1 472.1,299.0 476.5,299.0 478.0,299.0 479.5,298.6 498.8,298.6 500.3,298.4 504.7,298.4 506.2,298.2 507.7,297.9 509.2,297.8 510.7,297.8 512.2,297.7 513.6,297.7 530.0,297.7 531.4,297.6 532.9,297.6 534.4,297.6 535.9,297.2 555.2,297.2 556.7,296.8 558.1,296.6 559.6,296.0 561.1,295.6 562.6,295.2 564.1,295.1 575.9,295.1 577.4,294.7 578.9,294.3 580.4,294.2 579.7,294.2"/><polyline points="37.4,341.0 47.8,341.0 49.3,340.3 50.8,339.4 52.2,339.3 53.7,339.3 56.7,339.3 58.2,338.4 59.7,337.2 61.1,337.1 62.6,336.7 64.1,336.5 65.6,335.8 71.5,335.8 73.0,335.5 74.5,335.2 76.0,335.1 77.5,334.5 78.9,334.2 80.4,333.8 81.9,333.1 83.4,333.0 84.9,332.9 86.4,332.8 87.8,332.5 89.3,332.3 90.8,332.3 92.3,332.2 93.8,331.2 95.3,330.4 96.7,329.7 98.2,328.9 99.7,327.4 101.2,326.5 102.7,326.4 105.6,326.4 107.1,326.3 108.6,326.3 110.1,326.1 111.6,326.0 113.1,325.9 114.5,325.8 116.0,325.8 119.0,325.8 120.5,325.7 122.0,325.7 123.4,325.6 124.9,325.3 126.4,324.9 127.9,324.5 129.4,321.9 130.9,319.9 132.4,317.8 133.8,315.6 135.3,315.3 136.8,314.3 138.3,313.2 139.8,312.0 141.3,311.0 163.5,311.0 165.0,310.2 166.5,309.7 168.0,308.4 169.4,308.2 170.9,307.2 172.4,306.9 173.9,306.1 175.4,305.7 176.9,305.2 178.3,304.5 179.8,304.0 181.3,303.8 203.6,303.8 205.0,303.7 206.5,303.6 213.9,303.6 215.4,303.4 216.9,303.0 218.4,302.6 219.9,302.4 224.3,302.4 225.8,302.2 227.3,302.1 228.8,302.0 230.3,302.0 231.8,301.9 233.2,301.9 234.7,301.8 236.2,301.8 242.1,301.8 243.6,301.8 245.1,301.7 246.6,301.7 248.1,301.7 254.0,301.7 255.5,301.5 257.0,301.4 258.5,301.3 273.3,301.3 274.8,301.3 276.3,301.3 289.6,301.3 291.1,301.3 292.6,301.3 294.1,301.3 295.5,301.3 340.1,301.3 341.5,301.3 343.0,301.3 344.5,301.3 346.0,301.3 381.6,301.3 383.1,300.4 384.6,299.6 386.0,298.9 387.5,298.5 389.0,297.5 390.5,296.8 392.0,296.0 402.4,296.0 403.8,295.8 405.3,295.6 406.8,295.5 426.1,295.5 427.6,295.4 429.1,295.4 430.6,295.3 432.0,295.3 448.4,295.3 449.8,294.4 451.3,294.4 452.8,281.1 500.3,281.1 501.8,278.8 503.3,274.7 504.7,269.5 506.2,267.4 516.6,267.4 518.1,258.7 519.6,254.6 521.1,249.2 532.9,249.2 534.4,244.5 535.9,241.0 537.4,238.0 538.9,236.0 544.8,236.0 546.3,226.0 547.8,226.0 549.2,218.0 555.2,218.0 556.7,216.4 558.1,212.1 579.7,212.1"/><polyline points="37.4,341.0 49.3,341.0 50.8,340.9 52.2,340.7 53.7,340.6 55.2,340.5 56.7,340.4 58.2,340.3 59.7,340.3 61.1,340.3 62.6,340.2 64.1,340.2 65.6,340.0 67.1,339.5 68.6,339.5 70.0,339.5 71.5,339.5 73.0,339.5 74.5,339.4 76.0,339.2 77.5,339.0 78.9,339.0 80.4,338.8 81.9,338.7 83.4,338.7 84.9,337.4 86.4,335.8 87.8,334.9 89.3,334.7 90.8,334.5 92.3,334.1 93.8,334.0 95.3,333.9 96.7,333.2 98.2,333.0 99.7,332.3 101.2,331.7 102.7,331.3 104.2,330.0 105.6,329.4 107.1,327.1 108.6,324.2 110.1,321.9 111.6,321.8 113.1,321.7 114.5,321.6 116.0,320.2 117.5,319.3 119.0,318.2 120.5,316.1 122.0,314.4 123.4,313.1 124.9,310.6 126.4,310.4 127.9,310.2 129.4,310.1 130.9,309.6 132.4,309.4 133.8,309.1 135.3,309.1 144.2,309.1 145.7,309.1 147.2,309.1 148.7,309.0 150.2,309.0 151.6,309.0 157.6,309.0 159.1,308.7 160.5,307.9 162.0,306.7 163.5,306.7 165.0,305.9 166.5,304.5 194.7,304.5 196.1,304.3 197.6,304.2 199.1,304.0 200.6,304.0 202.1,303.5 203.6,302.8 205.0,302.6 206.5,302.5 208.0,302.5 209.5,302.5 213.9,302.5 215.4,302.5 228.8,302.5 230.3,302.4 231.8,302.4 233.2,302.3 234.7,302.3 236.2,302.3 240.7,302.3 242.1,302.2 243.6,302.1 245.1,302.1 246.6,302.0 248.1,301.9 249.6,301.9 251.0,301.8 288.1,301.8 289.6,301.8 291.1,301.8 292.6,301.7 294.1,301.7 295.5,301.7 307.4,301.7 308.9,301.5 310.4,301.4 311.9,301.2 313.3,301.1 314.8,301.0 392.0,301.0 393.5,300.8 394.9,300.7 396.4,300.6 420.2,300.6 421.7,300.3 423.1,300.1 424.6,299.7 426.1,299.0 427.6,298.8 488.4,298.8 489.9,296.2 491.4,295.5 492.9,292.7 501.8,292.7 503.3,292.3 504.7,291.3 506.2,290.5 507.7,289.6 524.0,289.6 525.5,288.0 527.0,287.3 528.5,286.7 537.4,286.7 538.9,283.9 540.3,280.8 570.0,280.8 571.5,267.2 573.0,230.9 574.5,224.1 575.9,205.8 577.4,200.1 578.9,196.1 579.7,196.1"/><polyline points="37.4,341.0 43.3,341.0 44.8,339.8 46.3,338.1 47.8,334.8 49.3,331.4 50.8,330.5 52.2,329.9 53.7,329.1 55.2,328.4 56.7,328.0 58.2,327.1 59.7,326.5 64.1,326.5 65.6,326.3 67.1,325.8 68.6,325.2 70.0,325.0 71.5,321.8 73.0,317.9 74.5,315.6 76.0,314.9 77.5,312.7 78.9,310.4 80.4,309.0 83.4,309.0 84.9,308.8 86.4,308.6 87.8,308.2 89.3,308.1 90.8,308.0 92.3,307.9 93.8,307.9 95.3,307.9 96.7,307.8 98.2,307.8 99.7,307.8 123.4,307.8 124.9,307.7 126.4,307.6 127.9,307.2 129.4,307.1 130.9,307.0 132.4,306.7 133.8,306.5 135.3,306.4 136.8,306.3 138.3,306.3 142.7,306.3 144.2,306.3 145.7,306.1 147.2,306.1 148.7,305.9 150.2,305.8 151.6,305.7 153.1,305.6 162.0,305.6 163.5,305.6 175.4,305.6 176.9,305.5 178.3,305.3 206.5,305.3 208.0,305.1 209.5,304.6 211.0,304.2 212.5,303.8 213.9,303.2 215.4,303.2 216.9,303.2 218.4,303.1 236.2,303.1 237.7,303.1 239.2,303.1 240.7,303.1 242.1,303.1 243.6,303.1 245.1,303.1 249.6,303.1 251.0,303.0 259.9,303.0 261.4,302.8 262.9,302.6 264.4,302.5 265.9,302.2 267.4,302.1 268.8,301.9 270.3,301.8 283.7,301.8 285.2,301.8 286.6,301.8 288.1,301.8 331.2,301.8 332.6,301.7 334.1,301.6 335.6,301.5 337.1,301.4 356.4,301.4 357.9,301.2 359.3,301.1 360.8,300.8 362.3,300.7 400.9,300.7 402.4,300.7 403.8,300.6 405.3,300.5 406.8,300.5 408.3,300.4 460.2,300.4 461.7,300.0 463.2,299.0 500.3,299.0 501.8,297.2 503.3,296.7 515.1,296.7 516.6,295.8 518.1,295.1 525.5,295.1 527.0,293.9 528.5,292.6 534.4,292.6 535.9,284.9 537.4,283.4 544.8,283.4 546.3,283.1 547.8,282.2 549.2,281.8 550.7,280.7 555.2,280.7 556.7,280.1 558.1,278.5 559.6,277.9 562.6,277.9 564.1,262.8 571.5,262.8 573.0,254.5 574.5,239.7 575.9,224.6 579.7,224.6"/><polyline points="37.4,341.0 40.4,341.0 41.9,340.4 43.3,340.1 44.8,339.8 46.3,339.6 47.8,339.5 49.3,339.4 50.8,339.3 52.2,339.1 53.7,338.9 55.2,338.7 56.7,338.4 58.2,338.2 59.7,338.0 61.1,338.0 62.6,337.8 70.0,337.8 71.5,336.9 74.5,336.9 76.0,336.8 77.5,336.7 78.9,336.7 80.4,336.4 81.9,336.2 83.4,334.2 84.9,333.9 86.4,333.0 87.8,332.7 89.3,332.3 90.8,332.0 92.3,332.0 93.8,331.8 95.3,331.7 96.7,331.5 98.2,331.3 99.7,330.8 107.1,330.8 108.6,330.4 110.1,330.0 111.6,329.2 113.1,328.4 114.5,327.9 116.0,327.2 117.5,325.7 119.0,325.3 120.5,324.9 129.4,324.9 130.9,321.8 132.4,318.8 135.3,318.8 136.8,318.3 138.3,317.8 150.2,317.8 151.6,317.0 153.1,316.1 154.6,313.6 166.5,313.6 168.0,312.5 169.4,311.4 172.4,311.4 173.9,311.3 175.4,311.2 194.7,311.2 196.1,311.1 197.6,310.6 199.1,310.0 200.6,309.8 202.1,309.4 203.6,309.1 205.0,308.9 206.5,308.7 212.5,308.7 213.9,308.5 215.4,308.1 216.9,307.9 236.2,307.9 237.7,306.3 239.2,306.0 240.7,305.5 295.5,305.5 297.0,305.3 317.8,305.3 319.3,304.5 360.8,304.5 362.3,304.5 363.8,304.5 365.3,304.5 366.8,304.5 368.2,304.5 369.7,304.5 426.1,304.5 427.6,302.8 429.1,299.1 446.9,299.1 448.4,298.8 449.8,298.5 484.0,298.5 485.4,298.1 486.9,297.9 489.9,297.9 491.4,296.8 492.9,296.1 494.3,295.0 495.8,294.5 503.3,294.5 504.7,293.9 506.2,293.0 507.7,292.0 509.2,289.9 510.7,285.1 522.5,285.1 524.0,285.0 525.5,284.7 527.0,284.4 528.5,283.2 530.0,283.2 531.4,282.8 532.9,282.1 534.4,280.1 535.9,277.0 553.7,277.0 555.2,275.7 556.7,275.1 558.1,274.1 567.0,274.1 568.5,273.4 570.0,271.7 571.5,271.0 573.0,269.6 574.5,269.5 578.9,269.5 580.4,267.7 579.7,267.7"/><polyline points="37.4,341.0 47.8,341.0 49.3,341.0 50.8,340.9 52.2,340.7 53.7,340.6 55.2,340.4 56.7,340.4 58.2,340.3 59.7,340.2 61.1,339.9 62.6,339.8 64.1,339.6 65.6,339.3 67.1,338.9 68.6,338.8 71.5,338.8 73.0,338.6 74.5,338.4 76.0,338.1 77.5,337.9 78.9,337.6 80.4,337.5 81.9,337.5 83.4,337.3 84.9,337.2 86.4,337.2 87.8,337.1 104.2,337.1 105.6,334.9 107.1,332.4 108.6,325.6 110.1,322.7 111.6,320.1 113.1,319.0 114.5,317.6 116.0,317.0 117.5,315.8 119.0,314.3 130.9,314.3 132.4,314.0 133.8,313.9 135.3,313.8 136.8,313.2 138.3,313.0 139.8,312.9 141.3,312.8 142.7,312.8 144.2,312.8 145.7,312.7 147.2,312.6 148.7,312.5 150.2,312.4 151.6,312.3 153.1,312.3 156.1,312.3 157.6,312.0 159.1,311.9 163.5,311.9 165.0,311.6 166.5,311.4 168.0,310.9 169.4,310.7 172.4,310.7 173.9,310.6 175.4,310.5 176.9,310.4 206.5,310.4 208.0,310.2 209.5,310.0 215.4,310.0 216.9,309.9 218.4,309.7 219.9,309.5 221.4,309.5 222.9,309.5 224.3,309.5 225.8,309.4 249.6,309.4 251.0,309.0 252.5,308.6 254.0,308.5 255.5,308.1 257.0,306.8 258.5,305.6 274.8,305.6 276.3,305.6 277.7,305.6 279.2,305.6 303.0,305.6 304.4,305.6 305.9,305.6 307.4,305.6 308.9,305.6 337.1,305.6 338.6,305.6 340.1,305.6 341.5,305.6 343.0,305.6 344.5,305.6 369.7,305.6 371.2,305.6 372.7,305.6 374.2,305.6 375.7,305.6 377.1,305.6 378.6,305.6 442.4,305.6 443.9,305.6 445.4,305.5 446.9,305.5 448.4,305.5 449.8,305.4 451.3,305.3 452.8,305.3 486.9,305.3 488.4,300.4 489.9,291.1 516.6,291.1 518.1,276.8 519.6,271.5 521.1,267.2 522.5,267.2 524.0,262.3 525.5,257.9 565.6,257.9 567.0,257.0 568.5,256.2 570.0,243.0 571.5,235.5 573.0,224.4 579.7,224.4"/><polyline points="37.4,341.0 50.8,341.0 52.2,340.0 53.7,339.2 55.2,336.1 58.2,336.1 59.7,334.4 61.1,333.7 62.6,333.1 64.1,332.5 65.6,331.9 67.1,330.7 68.6,329.0 70.0,328.0 71.5,327.2 73.0,326.6 74.5,326.0 76.0,325.5 77.5,324.2 78.9,322.7 80.4,321.6 81.9,319.7 90.8,319.7 92.3,318.6 93.8,316.8 99.7,316.8 101.2,316.6 102.7,316.5 104.2,316.4 105.6,316.0 107.1,315.1 108.6,314.7 110.1,314.3 113.1,314.3 114.5,313.8 116.0,313.3 117.5,313.0 119.0,312.6 120.5,312.3 122.0,311.9 123.4,311.9 126.4,311.9 127.9,311.9 129.4,311.9 130.9,311.8 132.4,311.8 133.8,311.7 135.3,311.7 136.8,311.7 138.3,311.7 139.8,311.7 141.3,311.7 142.7,311.7 144.2,311.6 145.7,311.6 147.2,311.6 148.7,311.5 150.2,311.5 151.6,311.4 153.1,311.4 154.6,311.4 156.1,311.3 157.6,311.3 159.1,311.3 160.5,311.3 162.0,311.3 165.0,311.3 166.5,311.3 168.0,311.3 169.4,311.3 170.9,311.3 172.4,311.2 173.9,311.0 175.4,310.9 179.8,310.9 181.3,310.8 182.8,310.6 184.3,310.5 185.8,310.4 187.2,310.3 190.2,310.3 191.7,310.3 193.2,310.3 194.7,310.2 196.1,310.2 197.6,309.9 199.1,309.8 200.6,309.8 202.1,309.8 203.6,309.6 205.0,309.5 206.5,309.4 208.0,309.3 221.4,309.3 222.9,308.6 224.3,307.9 225.8,307.1 227.3,306.5 228.8,306.1 237.7,306.1 239.2,306.1 240.7,306.1 251.0,306.1 252.5,306.1 254.0,306.0 255.5,305.8 257.0,305.6 258.5,305.4 259.9,305.1 261.4,304.9 262.9,304.8 264.4,304.8 265.9,304.7 286.6,304.7 288.1,304.7 289.6,304.7 291.1,304.7 292.6,304.7 329.7,304.7 331.2,304.6 332.6,304.6 397.9,304.6 399.4,304.6 406.8,304.6 408.3,304.6 409.8,304.6 411.3,304.6 412.8,304.6 414.2,304.6 415.7,304.6 426.1,304.6 427.6,304.6 429.1,304.6 430.6,304.6 432.0,304.6 433.5,304.6 435.0,304.6 461.7,304.6 463.2,299.8 472.1,299.8 473.6,298.5 475.1,297.2 476.5,295.8 489.9,295.8 491.4,295.4 492.9,294.6 494.3,291.3 495.8,284.8 497.3,281.7 498.8,278.0 500.3,267.0 501.8,260.8 503.3,253.0 504.7,251.4 506.2,251.4 507.7,246.9 509.2,244.8 510.7,242.2 538.9,242.2 540.3,240.2 541.8,240.2 543.3,234.2 544.8,232.0 546.3,230.1 561.1,230.1 562.6,225.7 564.1,220.9 565.6,219.7 567.0,219.7 568.5,219.5 570.0,219.3 571.5,219.2 579.7,219.2"/><polyline points="37.4,341.0 38.9,341.0 40.4,340.9 41.9,340.7 43.3,340.6 44.8,339.6 46.3,337.9 47.8,335.4 49.3,335.1 50.8,334.7 52.2,334.6 53.7,334.3 55.2,333.9 56.7,333.9 58.2,333.6 59.7,333.3 61.1,332.5 62.6,332.4 64.1,331.5 65.6,330.8 67.1,330.2 68.6,326.9 70.0,326.6 71.5,326.5 73.0,326.4 74.5,326.1 76.0,325.7 81.9,325.7 83.4,324.2 84.9,322.0 86.4,322.0 87.8,321.9 89.3,321.9 90.8,321.9 92.3,321.5 93.8,321.1 95.3,320.7 98.2,320.7 99.7,320.6 101.2,320.4 102.7,320.1 104.2,319.8 105.6,319.7 107.1,319.6 108.6,319.4 110.1,319.3 111.6,319.1 113.1,318.5 114.5,318.1 116.0,317.8 117.5,317.4 119.0,317.1 120.5,317.0 122.0,316.8 132.4,316.8 133.8,316.6 135.3,315.9 136.8,315.5 138.3,315.2 139.8,314.9 141.3,314.4 144.2,314.4 145.7,314.3 147.2,314.1 148.7,314.0 150.2,313.9 151.6,313.7 153.1,313.6 154.6,313.5 168.0,313.5 169.4,312.8 170.9,312.7 172.4,312.5 173.9,312.2 175.4,312.0 176.9,311.6 178.3,311.2 179.8,311.1 181.3,311.0 182.8,310.9 184.3,310.8 191.7,310.8 193.2,310.8 194.7,310.8 196.1,310.8 202.1,310.8 203.6,310.7 205.0,310.4 206.5,310.1 208.0,309.8 209.5,309.5 211.0,309.4 212.5,309.2 213.9,309.2 233.2,309.2 234.7,308.7 236.2,308.4 237.7,308.1 243.6,308.1 245.1,307.8 246.6,307.5 248.1,307.2 249.6,306.8 251.0,306.5 252.5,306.3 270.3,306.3 271.8,306.2 273.3,305.7 310.4,305.7 311.9,305.5 381.6,305.5 383.1,305.4 384.6,305.4 386.0,305.3 387.5,305.1 389.0,304.9 390.5,304.8 392.0,304.7 412.8,304.7 414.2,304.4 415.7,304.0 469.1,304.0 470.6,303.4 472.1,302.5 481.0,302.5 482.5,302.5 484.0,302.5 485.4,302.4 486.9,302.3 506.2,302.3 507.7,298.2 509.2,293.8 510.7,284.8 521.1,284.8 522.5,284.1 524.0,283.6 525.5,283.2 538.9,283.2 540.3,283.0 541.8,282.7 543.3,282.7 544.8,281.0 546.3,275.4 547.8,275.2 549.2,275.1 550.7,275.0 562.6,275.0 564.1,272.2 565.6,270.1 567.0,264.8 568.5,262.7 570.0,262.6 571.5,261.5 573.0,261.0 574.5,260.7 575.9,260.7 577.4,258.4 579.7,258.4"/><polyline points="37.4,341.0 46.3,341.0 47.8,340.6 49.3,339.5 50.8,337.6 52.2,335.9 53.7,335.4 58.2,335.4 59.7,335.2 61.1,333.6 62.6,333.4 64.1,332.6 65.6,331.6 67.1,329.6 68.6,327.6 70.0,326.1 71.5,324.8 73.0,323.0 81.9,323.0 83.4,322.8 84.9,322.6 86.4,322.2 87.8,321.8 89.3,321.5 90.8,321.3 92.3,321.3 93.8,321.1 95.3,321.0 102.7,321.0 104.2,320.7 105.6,320.5 107.1,320.1 108.6,319.6 110.1,319.6 111.6,319.5 113.1,319.4 114.5,319.3 116.0,319.2 117.5,319.1 119.0,318.9 120.5,318.9 122.0,318.5 123.4,317.7 124.9,317.7 126.4,317.7 127.9,317.4 129.4,317.1 130.9,316.7 132.4,316.2 133.8,315.8 135.3,315.5 136.8,315.2 138.3,315.0 139.8,314.9 141.3,314.8 142.7,314.6 144.2,314.5 145.7,314.3 147.2,314.3 148.7,314.2 150.2,314.0 178.3,314.0 179.8,313.4 181.3,313.2 197.6,313.2 199.1,313.0 200.6,312.9 202.1,312.8 203.6,312.8 205.0,312.7 206.5,312.6 209.5,312.6 211.0,312.4 212.5,312.4 213.9,311.6 215.4,311.2 216.9,310.5 218.4,310.5 219.9,310.4 221.4,310.2 222.9,310.1 227.3,310.1 228.8,310.1 230.3,310.1 231.8,310.0 233.2,310.0 255.5,310.0 257.0,310.0 258.5,310.0 259.9,310.0 261.4,309.9 262.9,309.9 264.4,309.9 274.8,309.9 276.3,309.9 277.7,309.9 279.2,309.9 280.7,309.9 282.2,309.9 283.7,309.9 285.2,309.9 286.6,309.9 288.1,309.9 303.0,309.9 304.4,309.9 305.9,309.9 307.4,309.9 308.9,309.9 310.4,309.9 329.7,309.9 331.2,309.9 332.6,309.7 381.6,309.7 383.1,309.7 384.6,309.7 386.0,309.7 387.5,309.7 389.0,309.6 390.5,309.6 402.4,309.6 403.8,309.5 405.3,309.5 406.8,309.5 408.3,309.5 409.8,309.4 412.8,309.4 414.2,309.4 415.7,309.4 417.2,309.4 418.7,309.4 420.2,309.4 421.7,309.4 423.1,309.4 478.0,309.4 479.5,309.2 481.0,308.7 485.4,308.7 486.9,307.3 488.4,304.1 489.9,301.9 491.4,301.9 492.9,297.8 494.3,294.0 495.8,289.9 507.7,289.9 509.2,283.6 510.7,276.3 537.4,276.3 538.9,271.9 540.3,271.9 541.8,271.5 543.3,271.5 544.8,263.7 549.2,263.7 550.7,262.9 552.2,260.2 553.7,258.5 555.2,255.9 564.1,255.9 565.6,250.6 579.7,250.6"/><polyline points="37.4,341.0 41.9,341.0 43.3,338.4 44.8,335.8 46.3,333.9 47.8,331.8 49.3,331.3 52.2,331.3 53.7,330.6 55.2,329.7 56.7,328.7 58.2,327.7 59.7,327.7 61.1,326.6 62.6,324.4 64.1,322.2 65.6,321.7 67.1,321.3 68.6,320.8 70.0,319.9 71.5,319.4 78.9,319.4 80.4,319.4 81.9,319.3 83.4,319.3 89.3,319.3 90.8,319.3 92.3,319.3 93.8,319.2 95.3,319.1 96.7,319.1 98.2,319.0 99.7,318.9 101.2,318.9 102.7,318.9 104.2,318.8 105.6,318.8 107.1,318.7 108.6,318.6 110.1,318.5 111.6,318.4 113.1,318.2 114.5,318.1 116.0,318.1 122.0,318.1 123.4,318.1 124.9,318.0 126.4,317.9 127.9,317.5 129.4,317.2 130.9,317.1 132.4,317.0 133.8,316.9 139.8,316.9 141.3,316.7 142.7,316.6 144.2,316.5 145.7,316.4 147.2,316.1 148.7,315.8 150.2,315.3 151.6,314.8 153.1,314.5 154.6,314.2 156.1,314.1 157.6,313.6 159.1,313.4 160.5,313.0 162.0,313.0 163.5,312.9 187.2,312.9 188.7,312.7 190.2,312.2 191.7,312.0 193.2,311.7 194.7,311.1 209.5,311.1 211.0,311.1 212.5,311.0 213.9,310.9 215.4,310.4 216.9,310.4 218.4,310.3 219.9,310.3 221.4,310.3 222.9,310.3 224.3,310.3 225.8,310.3 227.3,310.3 240.7,310.3 242.1,310.3 243.6,310.3 245.1,310.3 246.6,310.3 298.5,310.3 300.0,309.9 307.4,309.9 308.9,309.9 310.4,309.9 311.9,309.9 313.3,309.9 314.8,309.9 316.3,309.9 371.2,309.9 372.7,309.8 399.4,309.8 400.9,309.0 457.3,309.0 458.7,308.9 460.2,308.8 461.7,308.7 488.4,308.7 489.9,308.7 491.4,303.8 492.9,299.1 494.3,294.7 495.8,291.7 497.3,291.2 498.8,289.8 500.3,289.1 559.6,289.1 561.1,288.6 562.6,288.3 564.1,287.9 565.6,287.8 573.0,287.8 574.5,286.3 575.9,286.3 577.4,284.8 578.9,283.4 580.4,281.6 579.7,281.6"/><polyline points="37.4,341.0 44.8,341.0 46.3,340.5 47.8,340.2 49.3,339.6 50.8,338.2 52.2,337.0 53.7,336.5 55.2,336.0 62.6,336.0 64.1,334.6 65.6,333.2 68.6,333.2 70.0,331.0 71.5,331.0 73.0,329.4 74.5,327.9 76.0,326.9 77.5,326.1 78.9,325.1 80.4,324.5 81.9,324.5 83.4,323.8 84.9,323.4 86.4,322.8 87.8,322.2 89.3,321.6 90.8,321.1 92.3,320.6 93.8,320.2 95.3,320.1 96.7,320.1 98.2,319.6 99.7,319.2 101.2,318.3 102.7,317.8 104.2,317.4 105.6,317.0 107.1,316.9 108.6,316.6 111.6,316.6 113.1,316.3 114.5,315.3 116.0,315.0 117.5,314.2 119.0,314.2 120.5,314.1 122.0,314.0 123.4,313.9 124.9,313.6 126.4,313.1 127.9,312.2 129.4,312.1 130.9,312.0 132.4,312.0 133.8,312.0 135.3,311.9 136.8,311.9 138.3,311.9 139.8,311.9 141.3,311.9 142.7,311.9 144.2,311.9 145.7,311.9 147.2,311.9 148.7,311.9 150.2,311.9 151.6,311.8 153.1,311.8 154.6,311.8 156.1,311.8 157.6,311.8 159.1,311.7 160.5,311.7 162.0,311.7 165.0,311.7 166.5,311.7 168.0,311.7 169.4,311.7 170.9,311.7 172.4,311.7 173.9,311.7 175.4,311.6 176.9,311.6 178.3,311.6 179.8,311.6 181.3,311.6 182.8,311.5 184.3,311.5 185.8,311.5 200.6,311.5 202.1,311.4 203.6,311.3 205.0,311.2 206.5,311.1 249.6,311.1 251.0,310.7 252.5,310.3 254.0,310.2 265.9,310.2 267.4,310.1 268.8,310.1 270.3,310.1 271.8,310.1 273.3,310.0 274.8,310.0 276.3,310.0 307.4,310.0 308.9,309.9 310.4,309.7 384.6,309.7 386.0,309.7 387.5,309.7 389.0,309.7 390.5,309.6 392.0,309.6 423.1,309.6 424.6,309.4 426.1,309.4 427.6,309.3 429.1,309.1 430.6,308.9 445.4,308.9 446.9,304.1 448.4,297.8 455.8,297.8 457.3,289.1 458.7,280.7 503.3,280.7 504.7,279.0 506.2,277.3 507.7,276.7 510.7,276.7 512.2,276.3 513.6,275.4 515.1,275.2 516.6,273.6 518.1,273.6 519.6,271.7 521.1,267.6 522.5,265.4 546.3,265.4 547.8,264.4 549.2,263.5 550.7,263.4 552.2,263.4 553.7,263.3 558.1,263.3 559.6,263.0 561.1,262.8 562.6,262.7 564.1,262.4 565.6,262.4 567.0,262.4 568.5,262.4 570.0,260.9 571.5,260.1 577.4,260.1 578.9,260.0 580.4,259.8 579.7,259.8"/><polyline points="37.4,341.0 40.4,341.0 41.9,340.6 43.3,340.3 44.8,339.9 46.3,339.9 47.8,339.8 49.3,339.1 50.8,338.2 52.2,337.5 53.7,337.0 55.2,336.6 56.7,336.2 58.2,335.2 59.7,334.8 68.6,334.8 70.0,334.3 71.5,333.6 73.0,330.8 74.5,329.8 76.0,328.0 77.5,327.4 78.9,326.5 80.4,325.3 81.9,323.0 83.4,322.5 84.9,321.2 86.4,319.9 87.8,319.2 89.3,319.1 90.8,319.1 92.3,319.1 93.8,319.0 95.3,319.0 96.7,318.9 98.2,318.7 99.7,318.6 101.2,318.6 102.7,318.5 104.2,318.3 105.6,318.1 107.1,317.8 108.6,317.6 110.1,317.4 111.6,317.4 113.1,317.4 114.5,317.4 116.0,317.2 117.5,317.1 119.0,317.0 120.5,316.9 122.0,316.8 123.4,316.7 124.9,316.6 126.4,316.6 127.9,316.5 133.8,316.5 135.3,316.5 136.8,316.5 138.3,316.4 139.8,316.4 141.3,316.4 142.7,316.4 144.2,316.4 145.7,316.3 147.2,316.3 151.6,316.3 153.1,316.3 154.6,316.3 156.1,316.2 157.6,316.1 159.1,316.1 160.5,316.1 162.0,316.1 166.5,316.1 168.0,316.1 169.4,316.1 170.9,316.1 172.4,316.1 173.9,316.1 175.4,316.1 176.9,316.1 191.7,316.1 193.2,315.9 194.7,315.8 196.1,315.7 197.6,315.5 199.1,315.5 200.6,314.9 202.1,313.2 203.6,312.6 212.5,312.6 213.9,312.5 215.4,312.3 216.9,312.1 218.4,311.8 219.9,311.5 221.4,311.5 222.9,311.4 224.3,311.4 225.8,311.4 227.3,311.4 240.7,311.4 242.1,311.4 243.6,311.4 245.1,311.4 246.6,311.4 248.1,311.3 249.6,311.3 254.0,311.3 255.5,311.3 257.0,311.3 259.9,311.3 261.4,311.3 271.8,311.3 273.3,311.3 274.8,311.3 319.3,311.3 320.8,311.1 322.3,311.0 323.7,310.9 325.2,310.7 326.7,310.6 360.8,310.6 362.3,310.6 363.8,310.6 365.3,310.6 366.8,310.5 408.3,310.5 409.8,309.6 411.3,309.6 412.8,309.1 476.5,309.1 478.0,297.6 518.1,297.6 519.6,296.7 521.1,296.7 522.5,285.3 524.0,283.8 562.6,283.8 564.1,279.5 565.6,277.9 567.0,274.2 579.7,274.2"/><polyline points="37.4,341.0 43.3,341.0 44.8,340.4 46.3,340.1 53.7,340.1 55.2,338.8 56.7,335.6 58.2,333.5 59.7,333.2 65.6,333.2 67.1,333.1 68.6,332.5 70.0,332.1 71.5,331.9 73.0,331.6 74.5,329.4 76.0,326.7 77.5,325.7 78.9,325.5 80.4,324.8 81.9,324.0 83.4,323.2 84.9,322.8 89.3,322.8 90.8,322.6 92.3,322.5 96.7,322.5 98.2,322.3 99.7,322.0 101.2,321.5 102.7,321.1 104.2,320.6 105.6,320.3 107.1,319.8 108.6,319.6 110.1,319.4 111.6,318.8 113.1,317.2 114.5,316.8 116.0,316.2 117.5,316.1 119.0,315.8 120.5,315.6 122.0,315.4 123.4,315.2 124.9,315.1 126.4,314.9 127.9,314.9 129.4,314.8 130.9,314.8 132.4,314.7 133.8,314.7 135.3,314.7 136.8,314.7 138.3,314.5 139.8,314.4 141.3,314.2 142.7,314.2 144.2,314.0 145.7,313.9 165.0,313.9 166.5,313.9 168.0,313.9 169.4,313.9 170.9,313.8 172.4,313.8 173.9,313.8 175.4,313.8 176.9,313.7 178.3,313.7 190.2,313.7 191.7,313.7 193.2,313.6 194.7,313.5 196.1,313.4 197.6,313.3 199.1,313.3 200.6,313.3 203.6,313.3 205.0,313.2 206.5,313.2 208.0,313.1 209.5,313.1 211.0,313.1 212.5,313.0 213.9,313.0 215.4,313.0 218.4,313.0 219.9,310.6 282.2,310.6 283.7,310.6 285.2,310.6 286.6,310.6 288.1,310.6 289.6,310.6 291.1,310.6 337.1,310.6 338.6,310.6 340.1,310.6 341.5,310.5 343.0,310.5 344.5,310.5 346.0,310.5 383.1,310.5 384.6,310.4 386.0,310.4 387.5,310.4 389.0,310.3 408.3,310.3 409.8,310.1 411.3,309.9 412.8,309.5 414.2,309.0 415.7,308.7 417.2,308.5 418.7,308.4 461.7,308.4 463.2,305.2 464.7,303.6 466.2,301.6 467.6,298.3 491.4,298.3 492.9,296.5 494.3,294.8 495.8,292.9 497.3,292.4 513.6,292.4 515.1,287.9 519.6,287.9 521.1,283.6 522.5,281.0 524.0,272.9 553.7,272.9 555.2,267.2 556.7,263.1 568.5,263.1 570.0,260.4 571.5,258.4 573.0,257.4 575.9,257.4 577.4,237.0 578.9,226.2 580.4,211.2 579.7,211.2"/><polyline points="37.4,341.0 40.4,341.0 41.9,340.8 43.3,340.4 44.8,338.9 46.3,338.5 47.8,338.1 49.3,337.9 50.8,337.9 52.2,335.9 53.7,334.5 55.2,331.8 56.7,331.5 58.2,331.1 59.7,330.7 62.6,330.7 64.1,329.4 65.6,328.8 67.1,328.4 68.6,327.1 73.0,327.1 74.5,326.4 76.0,325.0 77.5,322.2 78.9,319.4 80.4,315.9 83.4,315.9 84.9,315.2 95.3,315.2 96.7,314.2 98.2,313.7 99.7,313.0 101.2,311.9 102.7,311.1 104.2,311.0 105.6,311.0 107.1,306.1 108.6,302.9 110.1,300.2 111.6,296.0 113.1,294.3 114.5,291.1 116.0,289.0 117.5,286.7 119.0,284.9 120.5,283.2 122.0,281.3 123.4,280.1 133.8,280.1 135.3,269.3 136.8,263.0 142.7,263.0 144.2,262.3 145.7,256.0 147.2,251.2 148.7,244.2 151.6,244.2 153.1,241.1 154.6,239.6 156.1,237.0 157.6,233.8 160.5,233.8 162.0,232.4 163.5,230.8 165.0,228.7 166.5,226.4 168.0,223.5 169.4,220.1 170.9,220.1 172.4,219.5 173.9,217.5 175.4,217.3 176.9,217.1 181.3,217.1 182.8,217.1 184.3,217.0 185.8,216.7 187.2,216.4 188.7,216.2 190.2,216.1 191.7,216.0 193.2,215.7 196.1,215.7 197.6,215.4 199.1,214.8 200.6,214.0 218.4,214.0 219.9,213.7 224.3,213.7 225.8,213.5 227.3,213.3 228.8,213.1 230.3,212.9 231.8,212.8 233.2,212.7 249.6,212.7 251.0,212.0 252.5,211.3 254.0,210.9 255.5,210.7 257.0,210.6 258.5,210.6 273.3,210.6 274.8,210.6 276.3,210.6 277.7,210.6 350.4,210.6 351.9,210.6 353.4,210.6 354.9,210.5 356.4,210.5 357.9,210.5 359.3,210.5 360.8,210.5 442.4,210.5 443.9,210.5 445.4,210.5 446.9,210.5 448.4,210.4 472.1,210.4 473.6,208.7 475.1,208.7 476.5,208.1 478.0,207.4 479.5,207.0 494.3,207.0 495.8,204.8 497.3,204.2 498.8,200.1 515.1,200.1 516.6,199.9 518.1,199.5 519.6,199.1 546.3,199.1 547.8,198.7 549.2,198.5 550.7,198.1 552.2,198.0 553.7,197.8 555.2,197.5 556.7,197.5 558.1,196.9 559.6,195.4 562.6,195.4 564.1,194.0 579.7,194.0"/><polyline points="37.4,341.0 49.3,341.0 50.8,341.0 52.2,340.9 53.7,340.9 55.2,340.9 56.7,340.7 58.2,340.4 59.7,340.0 61.1,340.0 62.6,339.2 64.1,338.6 65.6,338.6 67.1,338.2 68.6,337.9 70.0,337.6 71.5,337.3 73.0,337.0 74.5,336.9 76.0,336.9 77.5,336.8 78.9,336.7 80.4,336.7 81.9,336.7 83.4,336.4 84.9,335.6 86.4,335.0 87.8,334.7 89.3,333.7 90.8,333.7 92.3,333.2 93.8,332.9 95.3,326.7 96.7,322.2 98.2,317.2 99.7,314.0 101.2,311.1 102.7,308.9 104.2,308.9 105.6,305.4 107.1,302.7 108.6,298.4 110.1,295.3 111.6,291.4 113.1,286.1 114.5,275.3 116.0,268.2 117.5,260.4 119.0,257.2 120.5,250.8 123.4,250.8 124.9,249.5 126.4,244.3 127.9,240.5 129.4,240.2 130.9,239.7 132.4,239.2 133.8,238.9 135.3,238.6 144.2,238.6 145.7,238.2 147.2,238.0 154.6,238.0 156.1,237.5 157.6,236.7 159.1,233.7 160.5,230.9 162.0,230.9 163.5,229.8 165.0,228.3 166.5,226.9 168.0,224.9 169.4,224.0 170.9,222.1 181.3,222.1 182.8,221.9 184.3,221.7 185.8,221.4 187.2,221.1 188.7,220.9 191.7,220.9 193.2,220.8 194.7,220.8 196.1,220.7 197.6,220.6 199.1,220.6 200.6,219.2 202.1,218.0 215.4,218.0 216.9,216.0 218.4,215.7 219.9,214.7 221.4,212.9 222.9,211.8 237.7,211.8 239.2,211.6 240.7,211.4 242.1,210.5 251.0,210.5 252.5,210.3 254.0,209.8 255.5,208.9 257.0,208.1 258.5,207.7 259.9,207.3 261.4,206.9 297.0,206.9 298.5,206.8 300.0,206.8 301.5,206.7 303.0,206.7 304.4,206.6 305.9,206.6 307.4,206.6 469.1,206.6 470.6,206.2 472.1,205.0 492.9,205.0 494.3,204.9 495.8,204.0 497.3,203.2 498.8,201.8 522.5,201.8 524.0,201.0 525.5,201.0 527.0,197.8 530.0,197.8 531.4,194.9 532.9,193.2 541.8,193.2 543.3,183.1 573.0,183.1 574.5,181.9 579.7,181.9"/><polyline points="37.4,341.0 40.4,341.0 41.9,337.9 43.3,336.4 44.8,332.6 46.3,330.9 47.8,329.9 49.3,329.1 50.8,328.2 52.2,328.0 53.7,327.7 55.2,326.5 56.7,325.4 58.2,323.5 59.7,314.1 61.1,306.1 62.6,302.8 64.1,297.4 65.6,295.2 67.1,294.3 68.6,293.5 70.0,293.2 71.5,292.2 73.0,291.9 74.5,291.0 76.0,290.6 83.4,290.6 84.9,288.3 86.4,287.3 87.8,286.5 89.3,286.5 90.8,285.5 92.3,284.8 93.8,283.6 98.2,283.6 99.7,283.3 101.2,283.0 102.7,282.2 104.2,281.8 107.1,281.8 108.6,281.2 110.1,280.0 111.6,277.9 113.1,275.4 114.5,272.5 116.0,269.4 117.5,267.3 119.0,266.9 120.5,266.9 126.4,266.9 127.9,265.8 129.4,264.6 130.9,263.2 132.4,262.6 133.8,261.6 135.3,260.1 136.8,259.1 138.3,258.9 139.8,258.5 141.3,258.1 142.7,257.9 145.7,257.9 147.2,257.2 148.7,256.5 150.2,255.4 151.6,255.0 153.1,254.7 154.6,254.3 156.1,254.2 157.6,254.1 159.1,253.7 160.5,253.3 162.0,253.2 163.5,253.0 165.0,252.5 166.5,252.4 168.0,251.8 169.4,251.6 170.9,251.3 172.4,251.1 173.9,251.1 175.4,251.1 176.9,251.1 178.3,251.1 179.8,251.1 181.3,251.0 182.8,251.0 200.6,251.0 202.1,250.9 203.6,250.5 205.0,250.3 206.5,250.3 208.0,250.2 209.5,250.1 211.0,250.1 212.5,250.0 213.9,249.8 215.4,249.7 216.9,249.7 225.8,249.7 227.3,249.7 228.8,249.7 230.3,249.7 231.8,249.6 233.2,249.4 234.7,249.2 236.2,249.2 237.7,249.1 245.1,249.1 246.6,249.1 248.1,249.1 249.6,249.0 251.0,249.0 252.5,249.0 264.4,249.0 265.9,249.0 267.4,249.0 268.8,249.0 270.3,248.9 271.8,248.9 273.3,248.9 274.8,248.9 454.3,248.9 455.8,246.9 457.3,245.8 458.7,242.6 464.7,242.6 466.2,242.0 467.6,240.1 469.1,238.3 500.3,238.3 501.8,234.4 503.3,233.3 509.2,233.3 510.7,233.1 512.2,232.9 516.6,232.9 518.1,228.0 519.6,225.0 521.1,217.8 522.5,216.3 541.8,216.3 543.3,210.5 544.8,205.4 546.3,200.3 547.8,196.2 549.2,190.6 553.7,190.6 555.2,187.0 556.7,185.6 558.1,182.9 559.6,179.7 565.6,179.7 567.0,178.3 568.5,172.6 575.9,172.6 577.4,171.3 578.9,169.9 580.4,164.3 579.7,164.3"/><polyline points="37.4,341.0 43.3,341.0 44.8,340.9 46.3,339.6 47.8,338.7 49.3,337.8 50.8,337.3 52.2,336.9 53.7,336.8 55.2,336.8 56.7,336.7 58.2,336.6 59.7,336.4 61.1,336.4 62.6,336.3 71.5,336.3 73.0,335.9 74.5,335.5 76.0,335.3 77.5,335.1 78.9,334.9 80.4,334.8 81.9,334.7 83.4,334.6 84.9,331.9 86.4,329.6 87.8,325.4 89.3,322.0 90.8,318.1 92.3,315.4 93.8,312.6 95.3,311.3 96.7,311.0 98.2,301.9 99.7,295.6 101.2,287.1 102.7,281.4 104.2,277.4 105.6,275.4 107.1,268.6 108.6,266.1 110.1,257.9 111.6,254.3 116.0,254.3 117.5,251.3 119.0,244.7 120.5,236.3 122.0,229.5 126.4,229.5 127.9,229.4 129.4,229.4 130.9,229.4 132.4,229.3 133.8,229.3 135.3,229.3 136.8,229.3 138.3,229.3 139.8,229.3 141.3,229.3 142.7,229.3 144.2,229.2 156.1,229.2 157.6,229.2 159.1,229.1 160.5,229.1 162.0,229.0 165.0,229.0 166.5,229.0 168.0,228.9 169.4,228.9 170.9,228.9 172.4,228.8 173.9,228.8 175.4,228.8 182.8,228.8 184.3,228.6 185.8,228.4 187.2,228.1 188.7,228.0 194.7,228.0 196.1,227.7 197.6,226.5 199.1,226.3 200.6,226.1 202.1,225.9 206.5,225.9 208.0,225.7 209.5,225.5 211.0,225.2 212.5,225.0 248.1,225.0 249.6,224.9 251.0,224.6 252.5,224.2 254.0,224.0 255.5,223.8 257.0,223.5 258.5,223.2 279.2,223.2 280.7,222.9 452.8,222.9 454.3,221.1 455.8,221.1 457.3,220.9 458.7,220.7 475.1,220.7 476.5,220.2 478.0,219.3 479.5,217.7 500.3,217.7 501.8,215.1 524.0,215.1 525.5,212.3 527.0,209.1 528.5,204.9 530.0,203.3 531.4,202.8 532.9,196.4 534.4,192.9 535.9,189.1 537.4,186.6 538.9,181.8 567.0,181.8 568.5,179.5 570.0,178.7 571.5,174.4 573.0,172.0 579.7,172.0"/><polyline points="37.4,341.0 47.8,341.0 49.3,339.4 50.8,334.1 52.2,331.0 53.7,327.7 74.5,327.7 76.0,319.8 77.5,314.5 78.9,304.5 80.4,302.6 81.9,301.2 90.8,301.2 92.3,301.1 93.8,300.1 95.3,298.4 96.7,296.3 101.2,296.3 102.7,295.2 104.2,294.9 105.6,293.7 107.1,292.9 108.6,289.2 110.1,281.7 111.6,277.2 113.1,275.0 114.5,272.9 116.0,272.5 117.5,270.5 119.0,269.1 120.5,268.1 122.0,267.3 123.4,267.1 124.9,256.7 126.4,256.3 135.3,256.3 136.8,254.1 150.2,254.1 151.6,253.5 153.1,248.8 154.6,247.7 156.1,245.5 157.6,243.5 159.1,242.0 160.5,240.2 162.0,237.0 163.5,235.3 165.0,231.1 166.5,225.4 168.0,224.1 169.4,222.5 170.9,222.3 172.4,221.5 173.9,221.0 193.2,221.0 194.7,220.4 203.6,220.4 205.0,220.0 206.5,219.6 208.0,219.4 230.3,219.4 231.8,219.3 233.2,219.1 234.7,219.1 236.2,219.1 237.7,219.0 239.2,219.0 240.7,218.9 242.1,218.9 243.6,218.7 245.1,218.5 246.6,218.5 248.1,218.4 249.6,218.4 251.0,218.4 252.5,218.3 254.0,218.3 255.5,218.3 257.0,218.2 258.5,218.1 285.2,218.1 286.6,218.1 288.1,218.1 289.6,218.1 291.1,218.1 292.6,218.1 310.4,218.1 311.9,218.1 313.3,218.1 314.8,218.0 316.3,218.0 384.6,218.0 386.0,217.9 387.5,217.9 389.0,217.9 415.7,217.9 417.2,217.6 418.7,217.3 420.2,217.0 435.0,217.0 436.5,216.8 438.0,216.5 439.5,216.4 440.9,216.2 488.4,216.2 489.9,215.2 491.4,213.6 492.9,212.2 495.8,212.2 497.3,211.8 498.8,211.4 509.2,211.4 510.7,210.1 512.2,208.7 534.4,208.7 535.9,207.4 565.6,207.4 567.0,206.5 568.5,204.7 570.0,204.6 571.5,204.5 579.7,204.5"/><polyline points="37.4,341.0 43.3,341.0 44.8,338.7 46.3,337.9 52.2,337.9 53.7,336.9 55.2,335.1 56.7,331.5 58.2,329.7 59.7,327.9 61.1,323.6 62.6,321.9 64.1,321.7 65.6,321.3 67.1,320.8 68.6,319.7 70.0,318.6 71.5,317.2 73.0,317.0 74.5,314.4 76.0,312.2 77.5,311.2 78.9,311.2 80.4,310.8 81.9,309.5 83.4,308.4 84.9,307.0 86.4,305.7 87.8,303.7 89.3,303.1 90.8,301.8 92.3,301.8 93.8,301.0 95.3,299.6 96.7,297.7 98.2,296.6 99.7,294.7 101.2,293.2 102.7,291.8 104.2,291.4 105.6,291.3 116.0,291.3 117.5,289.7 119.0,288.4 120.5,287.1 122.0,283.3 123.4,281.9 124.9,280.8 130.9,280.8 132.4,279.1 133.8,278.6 135.3,278.5 136.8,278.3 138.3,275.4 139.8,271.6 141.3,268.8 142.7,268.5 144.2,267.6 145.7,264.6 147.2,262.5 148.7,260.6 160.5,260.6 162.0,260.3 163.5,260.1 165.0,259.8 166.5,258.2 168.0,257.8 169.4,257.4 170.9,256.8 172.4,256.4 173.9,256.4 175.4,256.4 176.9,256.4 178.3,255.3 179.8,252.9 181.3,250.9 182.8,250.2 184.3,249.0 185.8,248.1 187.2,247.0 199.1,247.0 200.6,246.9 202.1,246.8 203.6,246.8 205.0,246.8 206.5,246.7 208.0,246.5 209.5,245.5 211.0,244.5 212.5,243.5 213.9,242.3 215.4,241.1 216.9,240.6 218.4,238.5 219.9,238.5 231.8,238.5 233.2,237.3 234.7,236.0 291.1,236.0 292.6,235.9 294.1,235.9 295.5,235.9 347.5,235.9 349.0,235.9 350.4,235.9 351.9,235.9 353.4,235.9 394.9,235.9 396.4,235.8 397.9,235.8 399.4,235.7 400.9,235.6 417.2,235.6 418.7,235.4 420.2,235.2 421.7,235.0 454.3,235.0 455.8,227.4 494.3,227.4 495.8,227.4 500.3,227.4 501.8,226.8 503.3,226.6 504.7,226.3 506.2,226.3 507.7,226.0 518.1,226.0 519.6,225.9 521.1,225.8 528.5,225.8 530.0,225.3 538.9,225.3 540.3,224.9 541.8,224.7 562.6,224.7 564.1,224.3 571.5,224.3 573.0,223.4 578.9,223.4 580.4,220.8 579.7,220.8"/><polyline points="37.4,341.0 53.7,341.0 55.2,337.3 56.7,334.1 58.2,330.3 59.7,328.7 74.5,328.7 76.0,323.3 77.5,314.2 83.4,314.2 84.9,312.5 89.3,312.5 90.8,310.5 92.3,306.4 93.8,302.5 95.3,299.8 96.7,299.8 98.2,296.6 99.7,295.6 101.2,293.0 102.7,289.8 104.2,287.9 105.6,287.5 107.1,286.7 108.6,286.0 110.1,285.6 114.5,285.6 116.0,284.9 117.5,282.1 120.5,282.1 122.0,277.2 123.4,270.7 124.9,265.5 126.4,264.8 127.9,263.8 129.4,263.2 130.9,263.1 132.4,263.1 133.8,263.0 135.3,262.9 136.8,262.9 138.3,262.9 139.8,262.8 141.3,262.6 142.7,262.5 144.2,262.5 145.7,262.3 147.2,262.3 148.7,262.3 150.2,262.2 151.6,262.2 153.1,262.1 154.6,262.1 156.1,262.0 157.6,261.9 182.8,261.9 184.3,261.3 185.8,260.4 187.2,259.5 188.7,259.3 190.2,259.1 191.7,259.0 193.2,258.8 194.7,258.8 196.1,258.7 212.5,258.7 213.9,258.5 215.4,258.5 216.9,258.4 218.4,258.3 219.9,258.3 221.4,258.2 222.9,258.2 224.3,258.1 225.8,258.0 227.3,258.0 243.6,258.0 245.1,258.0 255.5,258.0 257.0,258.0 258.5,258.0 259.9,257.9 261.4,257.9 262.9,257.9 264.4,257.8 276.3,257.8 277.7,257.8 279.2,257.8 280.7,257.8 282.2,257.8 283.7,257.8 285.2,257.8 286.6,257.8 341.5,257.8 343.0,257.8 344.5,257.8 346.0,257.8 347.5,257.8 356.4,257.8 357.9,257.8 403.8,257.8 405.3,257.7 406.8,257.7 408.3,257.7 484.0,257.7 485.4,246.9 486.9,241.2 488.4,229.8 489.9,223.2 506.2,223.2 507.7,222.4 509.2,221.4 524.0,221.4 525.5,220.3 527.0,219.5 528.5,218.9 537.4,218.9 538.9,217.6 540.3,216.5 541.8,215.2 543.3,215.2 544.8,210.6 546.3,208.5 552.2,208.5 553.7,203.1 555.2,197.7 556.7,188.8 558.1,188.2 559.6,187.7 561.1,187.2 562.6,185.4 564.1,184.7 565.6,184.7 567.0,183.1 568.5,181.6 579.7,181.6"/></g>
<g fill="none" stroke="#4aa8c0" stroke-width="1.05" stroke-linejoin="round"><polyline points="37.4,341.0 40.4,341.0 41.9,327.3 43.3,316.8 44.8,312.0 49.3,312.0 50.8,297.2 61.1,297.2 62.6,296.1 64.1,294.1 65.6,288.6 67.1,280.3 87.8,280.3 89.3,277.4 90.8,274.4 92.3,270.4 98.2,270.4 99.7,265.4 101.2,260.1 107.1,260.1 108.6,259.1 110.1,256.6 111.6,255.3 113.1,253.4 114.5,249.4 124.9,249.4 126.4,245.9 127.9,241.7 129.4,236.5 148.7,236.5 150.2,236.2 151.6,235.8 153.1,235.5 154.6,235.3 159.1,235.3 160.5,235.2 162.0,235.0 163.5,234.8 165.0,233.1 166.5,232.3 168.0,230.8 170.9,230.8 172.4,230.6 173.9,230.4 175.4,230.2 176.9,230.0 178.3,229.7 184.3,229.7 185.8,229.3 187.2,229.1 191.7,229.1 193.2,228.7 194.7,228.1 196.1,227.9 200.6,227.9 202.1,227.7 215.4,227.7 216.9,226.9 221.4,226.9 222.9,226.9 224.3,226.9 225.8,226.9 239.2,226.9 240.7,226.4 242.1,225.7 243.6,224.7 245.1,223.7 246.6,222.9 248.1,222.6 249.6,222.5 251.0,222.5 252.5,222.4 254.0,222.2 255.5,222.1 257.0,221.9 258.5,221.9 259.9,221.8 301.5,221.8 303.0,221.8 304.4,221.1 305.9,220.6 307.4,220.2 308.9,219.6 311.9,219.6 313.3,219.4 331.2,219.4 332.6,219.4 337.1,219.4 338.6,219.3 340.1,219.3 341.5,219.2 343.0,219.1 344.5,218.9 346.0,218.8 347.5,218.8 349.0,218.7 350.4,218.7 351.9,218.7 353.4,218.6 354.9,218.6 356.4,218.6 357.9,218.6 369.7,218.6 371.2,218.6 372.7,218.6 374.2,218.5 375.7,218.5 377.1,218.4 378.6,218.4 380.1,218.4 381.6,218.4 383.1,218.3 384.6,218.2 386.0,218.2 387.5,218.2 389.0,218.2 390.5,218.1 392.0,218.1 396.4,218.1 397.9,218.1 399.4,218.1 400.9,218.1 402.4,218.0 403.8,218.0 405.3,218.0 406.8,218.0 408.3,217.8 409.8,217.8 430.6,217.8 432.0,217.7 433.5,217.6 445.4,217.6 446.9,217.4 448.4,217.3 449.8,217.3 460.2,217.3 461.7,216.7 463.2,216.3 464.7,215.4 466.2,213.3 467.6,211.5 469.1,210.9 470.6,210.1 479.5,210.1 481.0,209.5 482.5,208.2 484.0,207.7 485.4,207.3 486.9,203.3 488.4,200.2 495.8,200.2 497.3,198.8 498.8,198.8 500.3,197.9 501.8,196.3 503.3,195.5 504.7,195.3 506.2,195.0 507.7,194.6 509.2,194.1 510.7,193.9 519.6,193.9 521.1,193.1 522.5,192.0 524.0,191.6 530.0,191.6 531.4,189.9 532.9,187.8 534.4,186.0 540.3,186.0 541.8,185.4 543.3,183.7 544.8,182.9 546.3,181.7 547.8,181.5 571.5,181.5 573.0,180.3 574.5,179.7 575.9,179.2 579.7,179.2" stroke-opacity="0.50"/><polyline points="37.4,341.0 43.3,341.0 44.8,335.1 46.3,331.1 47.8,324.1 56.7,324.1 58.2,321.0 59.7,316.1 61.1,311.8 62.6,308.4 64.1,303.9 70.0,303.9 71.5,287.1 93.8,287.1 95.3,287.0 96.7,286.9 98.2,286.9 99.7,270.2 120.5,270.2 122.0,265.8 123.4,257.1 124.9,253.3 132.4,253.3 133.8,251.5 135.3,251.5 136.8,248.9 139.8,248.9 141.3,248.6 142.7,248.4 144.2,247.7 145.7,247.4 147.2,246.9 148.7,246.9 150.2,246.8 151.6,246.7 156.1,246.7 157.6,245.7 159.1,241.4 160.5,241.2 162.0,240.7 163.5,239.9 194.7,239.9 196.1,239.3 197.6,238.3 200.6,238.3 202.1,238.0 203.6,237.8 224.3,237.8 225.8,236.4 227.3,236.4 228.8,236.3 230.3,236.1 231.8,235.7 233.2,233.9 234.7,233.8 236.2,233.8 252.5,233.8 254.0,231.5 264.4,231.5 265.9,231.1 267.4,231.0 268.8,230.7 271.8,230.7 273.3,230.5 274.8,230.4 276.3,230.3 283.7,230.3 285.2,229.7 310.4,229.7 311.9,229.7 313.3,229.7 314.8,229.7 316.3,229.6 317.8,229.6 323.7,229.6 325.2,229.6 326.7,229.5 338.6,229.5 340.1,229.5 341.5,229.5 343.0,229.5 344.5,229.5 346.0,229.5 347.5,229.5 349.0,229.4 351.9,229.4 353.4,229.3 354.9,229.3 356.4,229.3 383.1,229.3 384.6,229.3 386.0,229.3 387.5,229.2 389.0,229.2 390.5,229.2 392.0,229.2 393.5,229.1 394.9,229.1 396.4,229.1 397.9,229.1 399.4,229.0 400.9,229.0 402.4,228.9 403.8,228.7 405.3,228.7 406.8,228.7 408.3,228.6 409.8,228.6 411.3,228.6 412.8,228.6 436.5,228.6 438.0,228.5 439.5,228.5 440.9,228.4 442.4,228.4 470.6,228.4 472.1,226.6 473.6,223.2 475.1,220.3 486.9,220.3 488.4,219.2 489.9,217.2 491.4,215.8 498.8,215.8 500.3,211.9 503.3,211.9 504.7,211.3 506.2,210.4 507.7,209.7 509.2,208.8 510.7,208.4 513.6,208.4 515.1,202.7 516.6,201.3 518.1,199.0 519.6,194.7 522.5,194.7 524.0,194.4 525.5,194.0 527.0,193.7 528.5,193.3 530.0,193.2 537.4,193.2 538.9,190.0 540.3,186.9 567.0,186.9 568.5,181.4 570.0,177.3 571.5,173.5 573.0,169.1 579.7,169.1" stroke-opacity="0.50"/><polyline points="37.4,341.0 50.8,341.0 52.2,331.0 53.7,328.9 55.2,320.8 58.2,320.8 59.7,313.5 61.1,308.0 62.6,300.5 71.5,300.5 73.0,283.0 95.3,283.0 96.7,281.4 98.2,276.2 99.7,273.5 101.2,272.1 102.7,268.5 104.2,266.8 111.6,266.8 113.1,264.5 114.5,262.4 116.0,260.1 129.4,260.1 130.9,259.4 132.4,258.8 147.2,258.8 148.7,257.3 150.2,253.9 151.6,252.7 153.1,251.9 159.1,251.9 160.5,250.9 162.0,250.4 163.5,246.6 172.4,246.6 173.9,245.8 175.4,245.7 176.9,245.6 178.3,245.4 179.8,245.4 181.3,244.7 182.8,244.3 200.6,244.3 202.1,244.2 203.6,244.0 205.0,244.0 206.5,243.8 208.0,243.7 209.5,243.6 211.0,243.6 212.5,243.5 213.9,243.4 215.4,243.4 216.9,243.3 218.4,243.2 219.9,243.1 237.7,243.1 239.2,243.1 240.7,243.0 246.6,243.0 248.1,243.0 249.6,242.9 251.0,241.4 252.5,241.4 254.0,241.4 259.9,241.4 261.4,241.2 271.8,241.2 273.3,240.7 274.8,240.4 289.6,240.4 291.1,240.2 292.6,240.0 294.1,239.9 344.5,239.9 346.0,239.8 347.5,239.8 349.0,239.8 353.4,239.8 354.9,239.6 356.4,239.4 357.9,239.3 359.3,239.0 360.8,238.7 365.3,238.7 366.8,238.6 368.2,238.6 369.7,238.6 371.2,238.5 372.7,238.5 380.1,238.5 381.6,238.0 383.1,237.8 384.6,237.5 386.0,237.5 396.4,237.5 397.9,237.3 399.4,237.1 400.9,237.1 402.4,237.1 405.3,237.1 406.8,237.0 408.3,236.9 435.0,236.9 436.5,236.5 455.8,236.5 457.3,234.0 458.7,232.7 460.2,231.1 461.7,229.3 464.7,229.3 466.2,229.1 467.6,229.0 469.1,228.9 470.6,228.8 479.5,228.8 481.0,228.0 482.5,227.7 485.4,227.7 486.9,216.6 488.4,216.6 489.9,215.6 491.4,215.0 492.9,213.1 494.3,212.1 504.7,212.1 506.2,211.8 507.7,211.3 509.2,210.9 519.6,210.9 521.1,208.8 522.5,205.7 530.0,205.7 531.4,204.8 532.9,204.0 534.4,204.0 535.9,201.1 537.4,199.4 579.7,199.4" stroke-opacity="0.50"/><polyline points="37.4,341.0 44.8,341.0 46.3,317.4 53.7,317.4 55.2,301.9 59.7,301.9 61.1,300.1 62.6,298.8 64.1,296.3 65.6,293.8 104.2,293.8 105.6,293.0 111.6,293.0 113.1,291.2 114.5,284.2 116.0,276.5 117.5,275.4 119.0,273.6 126.4,273.6 127.9,273.3 129.4,271.8 130.9,270.5 132.4,269.5 133.8,268.9 135.3,268.0 136.8,267.1 138.3,265.6 139.8,262.0 150.2,262.0 151.6,261.3 153.1,260.4 154.6,259.9 156.1,258.7 157.6,256.7 178.3,256.7 179.8,256.0 181.3,255.9 182.8,255.7 184.3,255.4 185.8,255.1 187.2,254.9 209.5,254.9 211.0,254.2 212.5,253.4 213.9,253.0 215.4,252.8 221.4,252.8 222.9,252.7 224.3,252.5 225.8,252.4 237.7,252.4 239.2,252.3 240.7,252.3 245.1,252.3 246.6,251.9 248.1,251.9 249.6,251.7 254.0,251.7 255.5,251.6 257.0,251.5 258.5,251.2 259.9,251.1 261.4,250.9 262.9,250.9 264.4,250.8 271.8,250.8 273.3,250.7 274.8,250.7 276.3,250.7 277.7,250.6 279.2,250.6 280.7,250.5 282.2,250.5 291.1,250.5 292.6,250.5 294.1,250.4 295.5,250.3 297.0,250.1 298.5,250.0 323.7,250.0 325.2,250.0 326.7,249.9 328.2,249.9 329.7,249.8 331.2,249.8 332.6,249.8 334.1,249.8 337.1,249.8 338.6,249.8 340.1,249.8 350.4,249.8 351.9,249.7 353.4,249.7 354.9,249.7 356.4,249.7 357.9,249.6 359.3,249.6 360.8,249.6 362.3,249.6 363.8,249.6 365.3,249.6 366.8,249.6 368.2,249.6 369.7,249.6 371.2,249.5 372.7,249.5 389.0,249.5 390.5,249.5 392.0,249.5 393.5,249.5 394.9,249.5 396.4,249.4 397.9,249.3 399.4,249.3 400.9,249.2 402.4,249.2 403.8,249.2 405.3,249.2 406.8,249.0 408.3,249.0 409.8,249.0 411.3,249.0 412.8,249.0 414.2,249.0 415.7,248.9 421.7,248.9 423.1,248.9 424.6,248.9 426.1,248.9 427.6,248.9 429.1,248.8 439.5,248.8 440.9,248.7 442.4,248.6 443.9,248.6 445.4,248.6 446.9,248.6 455.8,248.6 457.3,248.4 458.7,247.2 460.2,245.7 461.7,244.3 463.2,244.1 464.7,243.7 466.2,242.9 485.4,242.9 486.9,241.7 488.4,241.4 489.9,241.4 491.4,241.1 492.9,241.0 494.3,240.7 495.8,240.5 497.3,240.2 521.1,240.2 522.5,239.9 524.0,238.1 525.5,236.2 527.0,235.0 528.5,234.3 530.0,233.8 531.4,232.4 532.9,232.4 534.4,230.8 535.9,229.6 537.4,228.4 543.3,228.4 544.8,226.8 546.3,226.4 579.7,226.4" stroke-opacity="0.50"/><polyline points="37.4,341.0 49.3,341.0 50.8,334.5 52.2,330.0 53.7,322.5 55.2,317.3 56.7,314.0 58.2,314.0 59.7,313.2 61.1,311.4 62.6,309.3 73.0,309.3 74.5,305.7 76.0,300.5 102.7,300.5 104.2,300.0 105.6,299.2 107.1,298.2 108.6,297.8 110.1,297.1 111.6,296.6 113.1,296.1 114.5,285.9 120.5,285.9 122.0,280.8 124.9,280.8 126.4,280.6 127.9,280.3 138.3,280.3 139.8,278.7 141.3,275.5 142.7,269.3 144.2,268.5 148.7,268.5 150.2,264.8 165.0,264.8 166.5,262.6 168.0,262.1 169.4,260.1 173.9,260.1 175.4,260.1 176.9,260.1 178.3,260.1 181.3,260.1 182.8,259.5 184.3,259.2 185.8,258.9 194.7,258.9 196.1,258.1 197.6,257.6 199.1,257.2 205.0,257.2 206.5,255.6 208.0,255.5 209.5,254.9 211.0,254.4 212.5,254.4 213.9,252.8 230.3,252.8 231.8,252.0 233.2,251.2 234.7,251.0 236.2,250.9 251.0,250.9 252.5,250.2 257.0,250.2 258.5,250.1 261.4,250.1 262.9,249.6 283.7,249.6 285.2,249.5 286.6,249.3 288.1,249.1 289.6,248.4 291.1,247.8 292.6,247.5 294.1,247.5 295.5,247.3 297.0,247.2 298.5,244.5 304.4,244.5 305.9,244.2 307.4,243.9 308.9,243.8 310.4,243.4 311.9,243.2 314.8,243.2 316.3,243.1 317.8,243.0 319.3,242.9 350.4,242.9 351.9,242.8 353.4,242.8 354.9,242.7 378.6,242.7 380.1,242.5 381.6,242.4 387.5,242.4 389.0,242.3 390.5,242.2 408.3,242.2 409.8,242.1 411.3,242.1 412.8,242.0 414.2,242.0 415.7,241.9 417.2,241.7 418.7,241.7 421.7,241.7 423.1,241.6 424.6,241.6 426.1,241.6 427.6,241.6 429.1,241.5 430.6,241.5 432.0,241.4 433.5,241.4 435.0,241.3 436.5,241.3 438.0,241.2 449.8,241.2 451.3,238.7 452.8,235.2 460.2,235.2 461.7,234.2 463.2,233.4 464.7,231.4 466.2,230.9 467.6,228.9 473.6,228.9 475.1,228.2 476.5,227.8 478.0,225.9 479.5,222.0 481.0,220.7 482.5,218.6 492.9,218.6 494.3,217.8 495.8,216.6 497.3,213.5 518.1,213.5 519.6,209.9 530.0,209.9 531.4,209.6 532.9,209.4 534.4,209.0 547.8,209.0 549.2,193.3 555.2,193.3 556.7,193.1 558.1,192.9 559.6,192.8 561.1,192.7 579.7,192.7" stroke-opacity="0.50"/><polyline points="37.4,341.0 43.3,341.0 44.8,339.9 46.3,337.2 47.8,333.2 49.3,330.7 50.8,330.2 52.2,329.7 53.7,329.5 55.2,329.2 56.7,329.0 58.2,327.8 59.7,326.5 61.1,325.0 62.6,323.5 78.9,323.5 80.4,323.3 81.9,320.7 89.3,320.7 90.8,319.6 92.3,318.6 93.8,317.2 95.3,316.4 102.7,316.4 104.2,314.4 105.6,312.3 107.1,310.0 108.6,309.2 110.1,308.0 111.6,304.0 113.1,302.0 114.5,299.4 116.0,295.7 117.5,292.5 119.0,290.0 120.5,289.3 122.0,288.8 123.4,287.5 124.9,284.5 126.4,282.3 127.9,278.8 129.4,276.4 130.9,274.6 132.4,272.3 133.8,270.8 135.3,269.6 142.7,269.6 144.2,269.6 145.7,269.5 147.2,269.5 148.7,269.4 150.2,269.4 151.6,269.3 153.1,269.3 163.5,269.3 165.0,268.9 176.9,268.9 178.3,268.8 179.8,268.7 181.3,268.0 182.8,267.9 185.8,267.9 187.2,267.3 188.7,267.0 190.2,266.5 191.7,266.1 197.6,266.1 199.1,266.1 200.6,265.9 202.1,265.8 203.6,265.6 252.5,265.6 254.0,265.6 255.5,265.5 298.5,265.5 300.0,265.5 301.5,265.5 303.0,265.5 304.4,265.5 313.3,265.5 314.8,265.5 316.3,265.5 317.8,265.5 319.3,265.5 320.8,265.5 322.3,265.5 323.7,265.5 392.0,265.5 393.5,265.3 394.9,265.1 418.7,265.1 420.2,265.1 421.7,265.0 463.2,265.0 464.7,261.2 466.2,259.1 495.8,259.1 497.3,257.5 498.8,256.3 506.2,256.3 507.7,250.5 518.1,250.5 519.6,242.9 527.0,242.9 528.5,239.9 530.0,238.2 531.4,236.5 532.9,234.9 534.4,234.9 535.9,234.4 537.4,234.0 541.8,234.0 543.3,233.9 544.8,233.8 546.3,233.7 547.8,233.6 549.2,233.1 558.1,233.1 559.6,232.9 561.1,232.9 562.6,232.8 564.1,232.6 579.7,232.6" stroke-opacity="0.32"/><polyline points="37.4,341.0 38.9,341.0 40.4,340.0 41.9,339.2 46.3,339.2 47.8,338.8 49.3,338.5 50.8,338.4 52.2,338.1 53.7,338.0 55.2,337.4 56.7,336.8 58.2,336.1 59.7,335.5 61.1,334.5 62.6,333.8 64.1,333.6 65.6,333.3 67.1,333.2 68.6,331.0 70.0,330.3 71.5,330.1 73.0,329.4 74.5,329.0 76.0,328.7 77.5,328.0 78.9,327.7 89.3,327.7 90.8,326.3 92.3,323.9 93.8,322.2 96.7,322.2 98.2,318.8 104.2,318.8 105.6,315.1 107.1,310.6 108.6,309.6 110.1,308.2 111.6,308.2 113.1,300.6 114.5,295.4 116.0,290.7 117.5,281.1 119.0,273.8 120.5,273.2 122.0,273.0 123.4,272.7 138.3,272.7 139.8,272.5 141.3,272.4 142.7,272.1 144.2,271.9 145.7,271.5 147.2,270.7 148.7,270.3 150.2,270.2 151.6,270.1 153.1,269.9 154.6,269.6 156.1,269.5 157.6,269.3 159.1,269.2 160.5,269.1 162.0,269.0 163.5,269.0 165.0,269.0 166.5,268.7 168.0,268.6 169.4,268.3 170.9,268.2 172.4,268.2 173.9,268.2 175.4,268.0 176.9,267.9 178.3,267.6 182.8,267.6 184.3,267.4 185.8,267.2 187.2,267.1 188.7,266.9 190.2,266.9 212.5,266.9 213.9,266.8 215.4,266.7 216.9,266.6 218.4,266.5 219.9,266.5 221.4,266.5 222.9,266.4 234.7,266.4 236.2,266.3 237.7,266.3 239.2,266.2 240.7,266.1 242.1,266.1 243.6,266.0 245.1,266.0 248.1,266.0 249.6,266.0 283.7,266.0 285.2,265.7 286.6,265.5 288.1,265.3 470.6,265.3 472.1,260.3 473.6,258.0 507.7,258.0 509.2,257.2 510.7,257.1 512.2,255.3 513.6,255.3 515.1,253.7 516.6,252.6 534.4,252.6 535.9,252.4 537.4,252.3 538.9,251.6 540.3,251.1 541.8,250.8 543.3,250.4 544.8,250.4 546.3,250.3 547.8,250.1 549.2,249.9 550.7,249.9 552.2,249.9 553.7,249.8 555.2,249.0 556.7,249.0 574.5,249.0 575.9,248.9 577.4,248.9 578.9,248.9 579.7,248.9" stroke-opacity="0.72"/><polyline points="37.4,341.0 38.9,341.0 40.4,338.8 41.9,338.0 43.3,336.0 44.8,334.4 46.3,333.4 47.8,332.9 49.3,332.6 50.8,331.9 59.7,331.9 61.1,325.0 62.6,312.9 64.1,307.4 65.6,304.5 67.1,304.4 68.6,304.1 70.0,303.8 71.5,303.6 73.0,301.7 74.5,301.0 76.0,299.9 77.5,298.5 78.9,297.1 80.4,291.6 81.9,288.8 83.4,285.7 84.9,283.7 86.4,282.8 87.8,282.5 89.3,282.3 90.8,282.0 92.3,281.5 98.2,281.5 99.7,281.4 101.2,281.4 102.7,281.3 104.2,281.2 105.6,281.1 107.1,281.0 117.5,281.0 119.0,280.8 120.5,280.3 122.0,280.1 123.4,279.8 124.9,279.5 136.8,279.5 138.3,279.5 139.8,279.5 145.7,279.5 147.2,279.5 148.7,279.5 150.2,279.5 151.6,279.4 153.1,279.3 154.6,279.3 156.1,279.2 157.6,279.2 159.1,279.1 160.5,279.1 162.0,279.0 163.5,278.8 178.3,278.8 179.8,278.5 181.3,278.1 182.8,278.0 184.3,277.9 185.8,277.8 190.2,277.8 191.7,277.6 193.2,277.6 194.7,277.3 196.1,276.9 197.6,276.2 199.1,275.5 200.6,275.1 202.1,274.6 215.4,274.6 216.9,273.9 218.4,273.6 219.9,273.1 224.3,273.1 225.8,272.9 227.3,272.7 228.8,272.0 230.3,271.6 231.8,271.4 233.2,271.2 234.7,270.8 236.2,270.1 254.0,270.1 255.5,269.3 257.0,268.3 258.5,268.0 259.9,267.4 261.4,267.0 262.9,266.6 298.5,266.6 300.0,266.0 301.5,265.7 303.0,265.3 310.4,265.3 311.9,265.3 313.3,265.3 314.8,265.3 316.3,265.3 317.8,265.3 319.3,265.3 387.5,265.3 389.0,265.3 390.5,265.3 439.5,265.3 440.9,265.0 442.4,264.9 443.9,264.8 445.4,264.5 446.9,263.2 448.4,262.5 452.8,262.5 454.3,258.4 455.8,257.4 497.3,257.4 498.8,254.5 501.8,254.5 503.3,253.9 504.7,253.2 506.2,251.6 509.2,251.6 510.7,245.0 512.2,240.3 550.7,240.3 552.2,230.5 553.7,216.4 555.2,208.3 575.9,208.3 577.4,205.8 578.9,203.3 580.4,200.6 579.7,200.6" stroke-opacity="0.56"/><polyline points="37.4,341.0 46.3,341.0 47.8,340.4 49.3,338.1 50.8,336.9 52.2,334.6 53.7,334.0 55.2,333.6 56.7,333.4 58.2,333.4 59.7,333.4 61.1,333.2 62.6,333.1 64.1,333.1 65.6,332.8 67.1,332.4 68.6,332.2 70.0,332.0 71.5,330.7 73.0,329.9 74.5,328.6 76.0,325.3 77.5,322.6 78.9,321.2 80.4,320.1 81.9,319.5 93.8,319.5 95.3,319.3 96.7,317.9 98.2,317.3 99.7,316.6 101.2,315.1 102.7,312.9 104.2,310.7 105.6,309.8 110.1,309.8 111.6,305.8 113.1,301.9 114.5,299.6 116.0,297.9 117.5,295.3 119.0,293.0 120.5,290.6 132.4,290.6 133.8,289.8 135.3,289.2 136.8,288.8 138.3,288.1 147.2,288.1 148.7,287.4 150.2,285.8 151.6,284.8 153.1,283.2 154.6,282.3 156.1,280.0 157.6,279.7 160.5,279.7 162.0,279.0 163.5,278.2 165.0,277.9 166.5,277.3 168.0,275.7 169.4,272.2 172.4,272.2 173.9,271.7 175.4,270.8 176.9,270.4 178.3,270.1 179.8,269.8 193.2,269.8 194.7,269.5 196.1,269.2 213.9,269.2 215.4,268.9 216.9,268.6 218.4,268.4 219.9,268.3 221.4,268.1 222.9,268.0 231.8,268.0 233.2,267.7 234.7,267.2 254.0,267.2 255.5,267.0 257.0,266.9 258.5,266.4 259.9,266.0 282.2,266.0 283.7,266.0 285.2,265.9 286.6,265.9 338.6,265.9 340.1,265.9 341.5,265.9 343.0,265.9 344.5,265.9 356.4,265.9 357.9,265.9 359.3,265.9 360.8,265.9 362.3,265.9 363.8,265.9 365.3,265.9 366.8,265.9 399.4,265.9 400.9,265.5 402.4,265.3 458.7,265.3 460.2,263.1 461.7,261.8 513.6,261.8 515.1,259.6 516.6,258.1 518.1,255.7 538.9,255.7 540.3,255.3 541.8,255.1 543.3,254.9 550.7,254.9 552.2,254.6 553.7,254.3 555.2,254.3 559.6,254.3 561.1,254.2 562.6,254.0 564.1,253.9 579.7,253.9" stroke-opacity="0.32"/><polyline points="37.4,341.0 40.4,341.0 41.9,339.6 43.3,336.4 44.8,330.2 46.3,326.1 47.8,324.1 50.8,324.1 52.2,322.9 53.7,321.5 55.2,319.3 56.7,316.8 58.2,314.3 59.7,311.7 61.1,308.9 67.1,308.9 68.6,307.8 70.0,306.7 71.5,305.0 73.0,303.3 74.5,302.2 76.0,300.1 77.5,299.8 78.9,298.9 80.4,297.9 81.9,296.1 83.4,295.2 84.9,294.5 86.4,293.8 87.8,293.0 89.3,292.2 90.8,291.3 92.3,291.3 93.8,291.3 95.3,290.9 96.7,290.5 98.2,290.1 99.7,289.9 101.2,289.6 102.7,289.4 104.2,289.2 105.6,289.1 110.1,289.1 111.6,288.6 113.1,288.6 114.5,288.2 116.0,287.8 117.5,287.4 119.0,286.2 120.5,285.3 122.0,283.9 123.4,283.6 124.9,283.5 126.4,283.1 127.9,282.7 129.4,282.4 130.9,282.4 132.4,281.7 133.8,281.3 135.3,280.4 136.8,279.6 138.3,278.5 139.8,278.2 141.3,278.1 142.7,277.9 144.2,277.3 145.7,277.1 147.2,276.9 148.7,276.9 154.6,276.9 156.1,276.7 157.6,276.6 163.5,276.6 165.0,276.5 166.5,276.4 168.0,276.4 169.4,276.3 176.9,276.3 178.3,276.1 193.2,276.1 194.7,276.1 196.1,276.1 197.6,276.0 199.1,276.0 200.6,276.0 205.0,276.0 206.5,275.8 208.0,275.5 209.5,275.2 211.0,275.2 215.4,275.2 216.9,275.1 218.4,274.9 219.9,274.9 221.4,274.8 222.9,274.8 236.2,274.8 237.7,274.8 239.2,274.8 240.7,274.8 243.6,274.8 245.1,274.3 246.6,274.0 248.1,273.8 249.6,273.5 251.0,273.2 252.5,273.1 254.0,273.1 255.5,273.0 257.0,273.0 258.5,272.9 282.2,272.9 283.7,272.9 285.2,272.9 286.6,272.9 344.5,272.9 346.0,272.9 347.5,272.9 349.0,272.9 350.4,272.9 353.4,272.9 354.9,272.9 356.4,272.9 357.9,272.9 359.3,272.8 360.8,272.8 362.3,272.8 363.8,272.8 442.4,272.8 443.9,272.8 445.4,272.7 446.9,272.7 448.4,272.7 449.8,272.6 478.0,272.6 479.5,271.4 481.0,268.3 482.5,265.6 500.3,265.6 501.8,262.9 509.2,262.9 510.7,258.5 515.1,258.5 516.6,257.0 518.1,256.2 530.0,256.2 531.4,255.1 532.9,254.6 534.4,253.2 535.9,252.4 537.4,251.5 546.3,251.5 547.8,248.3 549.2,246.5 561.1,246.5 562.6,244.8 564.1,243.1 565.6,242.5 579.7,242.5" stroke-opacity="0.48"/><polyline points="37.4,341.0 46.3,341.0 47.8,339.7 49.3,338.4 50.8,334.5 52.2,331.4 53.7,327.1 55.2,326.0 56.7,322.4 58.2,320.5 59.7,319.1 61.1,317.5 62.6,316.7 64.1,316.4 65.6,316.2 67.1,315.1 68.6,314.5 70.0,314.3 71.5,314.2 73.0,314.2 80.4,314.2 81.9,314.1 83.4,311.0 84.9,309.9 86.4,306.2 87.8,304.3 89.3,303.3 90.8,303.2 92.3,302.4 93.8,302.2 95.3,301.9 96.7,301.3 98.2,297.1 99.7,296.0 101.2,294.1 102.7,290.3 104.2,288.8 105.6,288.8 107.1,287.9 108.6,285.0 110.1,284.8 111.6,284.7 113.1,284.1 114.5,282.8 116.0,282.6 117.5,281.4 119.0,280.5 124.9,280.5 126.4,277.4 127.9,277.4 129.4,277.4 130.9,277.4 132.4,277.4 133.8,277.4 135.3,277.4 136.8,277.3 138.3,277.3 139.8,277.3 141.3,277.3 142.7,277.2 144.2,277.2 145.7,277.2 147.2,277.2 148.7,277.1 150.2,277.1 151.6,277.1 153.1,277.1 154.6,277.1 156.1,277.1 157.6,277.1 159.1,277.1 160.5,277.1 162.0,277.1 163.5,277.0 165.0,277.0 166.5,277.0 168.0,277.0 169.4,277.0 170.9,277.0 172.4,277.0 173.9,276.8 175.4,276.8 176.9,276.7 178.3,276.6 179.8,276.5 181.3,276.3 182.8,276.2 203.6,276.2 205.0,275.4 206.5,274.5 211.0,274.5 212.5,273.8 213.9,273.3 215.4,272.7 216.9,272.7 218.4,272.7 219.9,272.6 221.4,272.6 222.9,272.6 224.3,272.6 257.0,272.6 258.5,272.6 259.9,272.5 261.4,272.5 262.9,272.5 264.4,272.5 265.9,272.5 267.4,272.5 268.8,272.5 270.3,272.5 303.0,272.5 304.4,272.5 305.9,272.5 331.2,272.5 332.6,272.4 334.1,272.4 335.6,272.3 368.2,272.3 369.7,272.3 371.2,272.3 372.7,272.3 374.2,272.3 375.7,272.3 377.1,272.3 423.1,272.3 424.6,272.2 426.1,272.0 427.6,271.9 429.1,271.8 430.6,271.7 432.0,271.6 433.5,271.3 435.0,271.2 454.3,271.2 455.8,269.6 500.3,269.6 501.8,268.4 503.3,267.6 504.7,266.4 506.2,265.3 507.7,262.8 509.2,259.7 521.1,259.7 522.5,259.0 524.0,258.5 528.5,258.5 530.0,255.6 531.4,255.6 532.9,248.8 534.4,246.4 540.3,246.4 541.8,244.5 543.3,242.9 544.8,241.0 561.1,241.0 562.6,240.0 564.1,239.7 565.6,238.6 573.0,238.6 574.5,236.2 578.9,236.2 580.4,236.1 579.7,236.1" stroke-opacity="0.64"/><polyline points="37.4,341.0 41.9,341.0 43.3,338.3 44.8,336.0 47.8,336.0 49.3,334.7 50.8,333.4 52.2,332.3 53.7,331.8 55.2,331.8 56.7,329.1 58.2,328.1 59.7,326.7 61.1,325.4 62.6,325.4 64.1,324.6 65.6,323.5 67.1,322.8 68.6,321.8 70.0,320.1 71.5,317.9 73.0,316.2 74.5,314.5 76.0,314.2 77.5,313.9 78.9,313.7 80.4,313.3 81.9,313.1 83.4,312.9 84.9,312.8 101.2,312.8 102.7,311.4 104.2,309.3 105.6,307.1 107.1,306.2 108.6,303.7 110.1,301.5 111.6,299.4 113.1,297.3 114.5,296.4 116.0,292.5 117.5,290.6 119.0,290.6 120.5,290.2 122.0,289.8 123.4,287.3 124.9,282.4 126.4,278.7 127.9,277.9 130.9,277.9 132.4,277.7 133.8,277.5 135.3,277.3 136.8,277.3 138.3,277.2 139.8,277.2 141.3,277.2 144.2,277.2 145.7,277.1 150.2,277.1 151.6,277.1 153.1,277.0 154.6,277.0 159.1,277.0 160.5,276.9 162.0,276.8 163.5,276.5 165.0,276.4 166.5,276.2 168.0,276.0 169.4,275.9 170.9,275.9 191.7,275.9 193.2,275.9 194.7,275.8 196.1,275.8 197.6,275.7 199.1,275.7 200.6,275.7 202.1,275.7 203.6,275.7 205.0,275.7 206.5,275.7 208.0,275.7 209.5,275.7 211.0,275.7 212.5,275.7 213.9,275.6 215.4,275.6 216.9,275.6 234.7,275.6 236.2,275.4 237.7,275.1 239.2,274.5 240.7,274.4 242.1,274.2 243.6,274.0 245.1,273.9 246.6,273.8 267.4,273.8 268.8,273.8 270.3,273.7 288.1,273.7 289.6,273.6 291.1,273.5 292.6,273.5 294.1,273.4 343.0,273.4 344.5,273.4 346.0,273.4 347.5,273.4 349.0,273.4 366.8,273.4 368.2,273.4 369.7,273.4 371.2,273.4 372.7,273.4 374.2,273.4 426.1,273.4 427.6,273.4 429.1,273.4 430.6,273.4 432.0,273.4 443.9,273.4 445.4,267.7 446.9,261.6 449.8,261.6 451.3,259.0 452.8,258.0 454.3,257.2 455.8,257.2 457.3,254.5 458.7,252.1 479.5,252.1 481.0,251.1 482.5,250.4 484.0,249.9 491.4,249.9 492.9,249.6 494.3,249.3 495.8,248.9 498.8,248.9 500.3,248.9 501.8,247.8 503.3,247.6 504.7,247.3 506.2,246.4 516.6,246.4 518.1,245.6 519.6,244.2 546.3,244.2 547.8,236.3 549.2,235.6 552.2,235.6 553.7,235.3 570.0,235.3 571.5,234.3 573.0,232.6 574.5,230.5 579.7,230.5" stroke-opacity="0.40"/><polyline points="37.4,341.0 47.8,341.0 49.3,339.7 50.8,338.1 52.2,337.8 53.7,336.2 55.2,335.4 61.1,335.4 62.6,330.9 64.1,328.3 65.6,327.9 67.1,327.5 68.6,327.3 70.0,327.0 80.4,327.0 81.9,326.7 83.4,326.0 84.9,325.4 86.4,325.0 89.3,325.0 90.8,319.7 92.3,316.3 99.7,316.3 101.2,310.3 102.7,301.2 104.2,297.4 139.8,297.4 141.3,297.1 142.7,296.9 144.2,296.6 145.7,296.5 147.2,296.5 148.7,296.2 150.2,296.2 153.1,296.2 154.6,296.0 156.1,295.8 157.6,295.8 159.1,294.9 160.5,293.3 162.0,291.3 163.5,288.9 165.0,287.2 166.5,285.1 168.0,283.2 172.4,283.2 173.9,282.4 175.4,282.0 176.9,281.9 178.3,281.9 179.8,281.8 181.3,281.7 182.8,281.7 203.6,281.7 205.0,281.6 206.5,281.5 208.0,281.4 209.5,281.4 211.0,281.3 245.1,281.3 246.6,280.8 248.1,280.5 249.6,280.3 251.0,279.7 252.5,279.5 254.0,279.3 255.5,278.6 258.5,278.6 259.9,278.2 261.4,277.4 262.9,276.2 264.4,275.7 265.9,274.2 267.4,272.9 286.6,272.9 288.1,272.9 289.6,272.9 291.1,272.9 292.6,272.9 294.1,272.8 295.5,272.8 461.7,272.8 463.2,243.6 464.7,216.6 504.7,216.6 506.2,207.6 507.7,205.0 509.2,198.9 510.7,195.8 519.6,195.8 521.1,195.2 522.5,195.0 524.0,194.8 534.4,194.8 535.9,192.8 537.4,188.9 538.9,187.9 544.8,187.9 546.3,185.5 547.8,183.9 549.2,183.0 550.7,182.2 553.7,182.2 555.2,181.7 556.7,181.2 568.5,181.2 570.0,178.0 571.5,175.0 573.0,172.2 574.5,172.2 575.9,169.3 577.4,168.8 579.7,168.8" stroke-opacity="0.48"/><polyline points="37.4,341.0 40.4,341.0 41.9,337.0 43.3,334.6 44.8,330.6 46.3,330.5 47.8,330.3 49.3,330.2 50.8,326.2 52.2,321.9 53.7,320.2 55.2,320.1 56.7,318.4 58.2,317.9 59.7,317.3 61.1,316.7 62.6,316.4 64.1,316.2 65.6,315.6 87.8,315.6 89.3,315.3 90.8,314.0 92.3,307.1 93.8,305.2 95.3,303.9 96.7,300.2 98.2,298.3 99.7,296.3 101.2,296.3 102.7,295.4 104.2,293.9 105.6,292.9 107.1,292.6 108.6,291.5 110.1,290.1 111.6,290.1 113.1,289.7 114.5,289.5 116.0,289.3 117.5,289.2 119.0,287.4 130.9,287.4 132.4,287.3 133.8,287.1 135.3,286.8 136.8,286.5 138.3,286.2 147.2,286.2 148.7,285.7 150.2,285.2 151.6,284.8 153.1,284.7 156.1,284.7 157.6,284.3 159.1,284.1 160.5,283.5 162.0,283.3 163.5,283.0 165.0,282.8 196.1,282.8 197.6,282.4 199.1,282.3 200.6,281.9 202.1,281.5 203.6,281.1 205.0,280.9 206.5,280.6 208.0,280.5 209.5,280.4 211.0,280.4 212.5,280.3 213.9,280.1 215.4,279.9 216.9,279.9 218.4,279.8 219.9,279.7 221.4,279.6 222.9,279.6 224.3,279.4 225.8,279.4 227.3,279.3 228.8,279.3 230.3,279.2 248.1,279.2 249.6,279.1 251.0,278.9 270.3,278.9 271.8,278.7 273.3,278.6 449.8,278.6 451.3,278.0 452.8,277.3 454.3,277.0 488.4,277.0 489.9,274.7 491.4,272.8 492.9,271.7 494.3,271.7 495.8,267.1 497.3,265.2 498.8,259.0 515.1,259.0 516.6,255.9 521.1,255.9 522.5,252.0 527.0,252.0 528.5,250.8 530.0,249.8 531.4,247.0 532.9,244.8 534.4,242.4 535.9,239.4 537.4,234.9 541.8,234.9 543.3,232.5 553.7,232.5 555.2,230.6 556.7,229.6 558.1,227.1 559.6,227.1 561.1,227.0 562.6,227.0 565.6,227.0 567.0,223.7 579.7,223.7" stroke-opacity="0.40"/><polyline points="37.4,341.0 38.9,341.0 40.4,335.5 41.9,334.9 43.3,334.7 58.2,334.7 59.7,333.8 61.1,332.7 62.6,331.3 64.1,330.1 67.1,330.1 68.6,326.9 70.0,324.1 71.5,321.4 73.0,318.7 74.5,315.8 76.0,314.0 77.5,311.8 86.4,311.8 87.8,310.4 95.3,310.4 96.7,309.4 98.2,309.4 99.7,308.9 101.2,308.5 102.7,307.0 104.2,305.4 105.6,304.5 107.1,304.1 108.6,304.1 110.1,303.8 111.6,303.7 113.1,303.1 114.5,301.9 116.0,299.6 117.5,297.8 119.0,296.8 120.5,295.9 122.0,294.6 123.4,293.1 124.9,291.8 126.4,291.8 127.9,291.5 129.4,291.5 130.9,291.3 132.4,291.2 133.8,291.1 135.3,290.9 153.1,290.9 154.6,290.9 156.1,290.8 157.6,290.7 159.1,290.6 160.5,290.4 162.0,290.3 163.5,290.3 165.0,290.2 166.5,290.2 168.0,290.2 178.3,290.2 179.8,289.3 185.8,289.3 187.2,288.0 188.7,287.3 190.2,286.6 191.7,286.2 193.2,286.2 194.7,286.2 196.1,286.2 197.6,285.5 199.1,285.0 200.6,284.1 202.1,283.6 203.6,282.8 243.6,282.8 245.1,282.3 246.6,281.6 248.1,281.2 261.4,281.2 262.9,280.9 264.4,280.4 265.9,279.9 267.4,279.4 274.8,279.4 276.3,279.2 277.7,279.2 280.7,279.2 282.2,279.1 283.7,279.1 285.2,279.1 286.6,279.1 288.1,279.1 289.6,279.1 291.1,279.1 305.9,279.1 307.4,279.1 308.9,279.0 310.4,279.0 351.9,279.0 353.4,279.0 354.9,279.0 356.4,279.0 357.9,279.0 394.9,279.0 396.4,278.9 397.9,278.8 399.4,278.8 400.9,278.7 435.0,278.7 436.5,278.4 438.0,278.0 439.5,277.6 478.0,277.6 479.5,274.1 481.0,272.4 498.8,272.4 500.3,266.6 501.8,262.5 503.3,259.8 504.7,255.6 512.2,255.6 513.6,255.5 515.1,255.4 537.4,255.4 538.9,252.2 540.3,252.2 541.8,252.1 543.3,248.9 544.8,244.0 546.3,241.8 550.7,241.8 552.2,241.7 553.7,241.6 555.2,241.4 556.7,241.4 561.1,241.4 562.6,235.9 571.5,235.9 573.0,234.6 575.9,234.6 577.4,231.6 578.9,230.2 579.7,230.2" stroke-opacity="0.56"/><polyline points="37.4,341.0 40.4,341.0 41.9,339.2 43.3,338.4 44.8,337.7 46.3,337.1 47.8,336.3 49.3,335.2 50.8,334.3 52.2,332.1 53.7,329.4 55.2,328.4 56.7,326.3 58.2,324.2 59.7,321.8 61.1,318.9 62.6,316.7 64.1,314.5 65.6,311.3 67.1,310.8 74.5,310.8 76.0,310.8 77.5,310.5 78.9,310.3 80.4,309.6 81.9,306.1 83.4,304.4 84.9,300.7 86.4,298.9 87.8,297.1 89.3,294.6 90.8,294.6 92.3,294.4 93.8,294.2 95.3,294.1 96.7,293.8 98.2,293.7 99.7,293.5 101.2,293.0 102.7,293.0 104.2,292.6 105.6,292.5 107.1,292.2 108.6,292.0 110.1,291.3 111.6,290.6 113.1,290.5 114.5,290.2 116.0,289.1 117.5,288.3 119.0,288.0 120.5,287.6 124.9,287.6 126.4,287.4 127.9,286.6 129.4,286.3 130.9,286.0 132.4,285.6 133.8,285.0 136.8,285.0 138.3,284.9 139.8,284.9 141.3,284.9 142.7,284.9 144.2,284.9 147.2,284.9 148.7,284.9 150.2,284.8 151.6,284.8 153.1,284.8 154.6,284.8 156.1,284.8 157.6,284.8 159.1,284.8 160.5,284.8 162.0,284.8 163.5,284.8 173.9,284.8 175.4,284.7 176.9,284.6 178.3,284.6 179.8,284.5 181.3,284.4 182.8,284.3 184.3,284.3 194.7,284.3 196.1,284.2 197.6,284.2 199.1,284.1 200.6,284.1 202.1,284.1 203.6,284.1 209.5,284.1 211.0,284.0 212.5,283.6 213.9,283.0 215.4,282.7 216.9,282.4 218.4,282.2 219.9,282.1 221.4,282.0 227.3,282.0 228.8,281.6 240.7,281.6 242.1,281.5 243.6,281.2 245.1,281.1 291.1,281.1 292.6,280.9 294.1,280.4 295.5,279.2 297.0,278.9 298.5,278.7 300.0,278.6 301.5,278.6 303.0,278.6 304.4,278.5 305.9,278.5 307.4,278.5 323.7,278.5 325.2,278.4 326.7,278.4 371.2,278.4 372.7,278.4 374.2,278.4 408.3,278.4 409.8,278.4 411.3,278.2 412.8,278.2 458.7,278.2 460.2,277.1 461.7,274.7 463.2,273.0 470.6,273.0 472.1,272.5 473.6,271.5 475.1,270.4 476.5,269.9 489.9,269.9 491.4,266.3 492.9,261.4 494.3,261.4 495.8,255.5 497.3,247.6 498.8,247.0 519.6,247.0 521.1,238.4 543.3,238.4 544.8,237.8 546.3,236.0 547.8,235.6 549.2,233.7 550.7,232.1 552.2,231.1 553.7,230.1 555.2,229.7 556.7,229.7 558.1,229.6 559.6,229.6 561.1,229.6 579.7,229.6" stroke-opacity="0.32"/><polyline points="37.4,341.0 41.9,341.0 43.3,340.9 44.8,340.7 46.3,340.5 52.2,340.5 53.7,339.4 55.2,338.6 56.7,337.8 58.2,336.6 59.7,335.2 61.1,334.7 62.6,333.5 64.1,332.2 65.6,331.1 80.4,331.1 81.9,331.0 83.4,329.7 84.9,328.9 86.4,328.8 96.7,328.8 98.2,326.0 99.7,323.9 105.6,323.9 107.1,323.0 108.6,319.6 110.1,308.3 111.6,303.3 113.1,299.3 114.5,298.8 116.0,298.6 117.5,298.2 124.9,298.2 126.4,297.2 127.9,295.6 129.4,294.7 130.9,293.9 132.4,293.2 133.8,292.4 139.8,292.4 141.3,290.8 142.7,288.1 144.2,288.0 145.7,287.9 147.2,287.9 148.7,287.7 150.2,286.6 151.6,284.5 153.1,284.4 157.6,284.4 159.1,284.3 160.5,284.0 162.0,283.8 163.5,283.5 165.0,283.2 166.5,282.6 168.0,281.9 169.4,281.2 175.4,281.2 176.9,281.1 178.3,281.0 179.8,280.9 181.3,280.7 182.8,280.6 184.3,280.5 185.8,280.4 188.7,280.4 190.2,280.3 191.7,280.2 193.2,280.2 194.7,280.1 196.1,280.1 211.0,280.1 212.5,279.9 213.9,279.8 215.4,279.6 216.9,279.5 218.4,279.3 252.5,279.3 254.0,279.2 255.5,278.9 257.0,278.5 258.5,278.3 259.9,278.0 270.3,278.0 271.8,278.0 273.3,278.0 274.8,278.0 276.3,278.0 295.5,278.0 297.0,278.0 298.5,278.0 300.0,278.0 301.5,278.0 303.0,278.0 304.4,278.0 305.9,278.0 307.4,278.0 346.0,278.0 347.5,277.8 349.0,277.7 380.1,277.7 381.6,277.7 383.1,277.6 384.6,277.6 411.3,277.6 412.8,277.2 414.2,276.7 415.7,276.0 449.8,276.0 451.3,268.8 452.8,256.7 454.3,252.3 512.2,252.3 513.6,250.9 515.1,249.1 525.5,249.1 527.0,248.7 528.5,248.1 530.0,248.1 531.4,245.2 532.9,243.6 534.4,240.7 535.9,235.6 537.4,235.6 538.9,229.6 540.3,222.0 541.8,218.4 543.3,213.8 564.1,213.8 565.6,212.3 567.0,210.1 568.5,209.1 570.0,207.8 571.5,207.8 573.0,205.3 578.9,205.3 580.4,188.7 579.7,188.7" stroke-opacity="0.56"/><polyline points="37.4,341.0 38.9,341.0 40.4,340.1 41.9,338.7 43.3,338.3 44.8,337.7 46.3,336.6 47.8,336.1 49.3,335.2 50.8,335.1 52.2,335.0 53.7,334.9 55.2,334.1 56.7,333.5 58.2,332.0 64.1,332.0 65.6,331.8 67.1,331.3 68.6,330.3 70.0,330.3 71.5,329.6 73.0,329.2 74.5,328.0 76.0,326.6 77.5,324.7 78.9,321.6 80.4,319.9 81.9,318.9 83.4,318.4 87.8,318.4 89.3,317.8 90.8,317.3 92.3,316.9 98.2,316.9 99.7,315.3 101.2,311.3 102.7,308.6 104.2,303.5 105.6,301.9 107.1,301.5 108.6,301.2 110.1,300.9 111.6,300.1 113.1,299.4 114.5,298.8 116.0,298.2 117.5,297.8 119.0,297.6 120.5,297.2 124.9,297.2 126.4,296.7 127.9,296.2 129.4,295.6 130.9,295.4 136.8,295.4 138.3,294.8 139.8,293.9 141.3,293.0 142.7,292.7 144.2,292.0 151.6,292.0 153.1,291.4 154.6,291.3 156.1,290.6 157.6,290.2 159.1,289.8 160.5,289.2 162.0,288.3 163.5,288.3 165.0,288.3 166.5,288.3 168.0,288.1 169.4,287.8 170.9,287.8 172.4,287.6 173.9,287.3 175.4,287.0 176.9,286.6 178.3,285.9 179.8,285.5 181.3,285.0 182.8,284.6 187.2,284.6 188.7,284.2 190.2,284.0 191.7,283.6 193.2,283.6 194.7,283.4 196.1,283.3 197.6,282.9 199.1,282.6 200.6,282.3 202.1,281.9 203.6,281.6 205.0,281.5 206.5,281.4 211.0,281.4 212.5,281.3 213.9,281.2 239.2,281.2 240.7,280.8 242.1,280.7 243.6,280.3 245.1,280.0 246.6,279.6 248.1,279.3 249.6,279.0 251.0,278.9 252.5,278.8 254.0,278.8 255.5,278.7 257.0,278.6 258.5,278.5 259.9,278.5 264.4,278.5 265.9,278.5 267.4,278.5 268.8,278.5 270.3,278.5 271.8,278.5 446.9,278.5 448.4,278.2 455.8,278.2 457.3,277.7 458.7,277.1 470.6,277.1 472.1,277.1 485.4,277.1 486.9,276.8 488.4,276.6 506.2,276.6 507.7,244.7 522.5,244.7 524.0,243.8 525.5,242.4 527.0,240.7 528.5,238.6 547.8,238.6 549.2,234.2 550.7,227.9 571.5,227.9 573.0,227.0 574.5,226.6 575.9,225.5 578.9,225.5 580.4,220.2 579.7,220.2" stroke-opacity="0.40"/><polyline points="37.4,341.0 40.4,341.0 41.9,340.5 43.3,340.3 44.8,336.5 46.3,334.0 47.8,331.5 49.3,331.0 50.8,325.4 52.2,323.3 53.7,322.8 55.2,322.2 56.7,322.2 58.2,321.5 59.7,321.0 61.1,320.7 71.5,320.7 73.0,320.6 74.5,320.5 76.0,320.4 77.5,320.3 90.8,320.3 92.3,319.4 93.8,318.7 95.3,317.1 96.7,316.2 98.2,315.5 99.7,311.5 101.2,311.3 105.6,311.3 107.1,304.8 108.6,296.9 110.1,291.5 111.6,288.5 113.1,287.2 114.5,285.5 116.0,284.6 117.5,283.4 127.9,283.4 129.4,283.4 130.9,283.4 132.4,283.4 133.8,283.4 135.3,283.4 136.8,283.4 138.3,283.4 139.8,283.4 141.3,283.4 142.7,283.4 144.2,283.4 145.7,283.4 147.2,283.4 148.7,283.4 150.2,283.4 151.6,283.4 153.1,283.4 154.6,283.4 156.1,283.4 157.6,283.4 160.5,283.4 162.0,283.4 163.5,283.4 165.0,283.4 166.5,283.4 168.0,283.4 169.4,283.4 170.9,283.4 172.4,283.4 197.6,283.4 199.1,282.4 202.1,282.4 203.6,282.0 205.0,281.6 206.5,281.5 208.0,281.2 258.5,281.2 259.9,280.9 261.4,280.0 267.4,280.0 268.8,280.0 270.3,280.0 271.8,280.0 273.3,280.0 274.8,280.0 289.6,280.0 291.1,280.0 451.3,280.0 452.8,276.2 454.3,273.3 455.8,268.3 457.3,268.3 458.7,267.2 460.2,265.1 461.7,263.3 467.6,263.3 469.1,261.1 516.6,261.1 518.1,256.9 519.6,250.9 528.5,250.9 530.0,249.6 531.4,248.0 538.9,248.0 540.3,241.6 541.8,234.1 547.8,234.1 549.2,232.2 550.7,231.0 552.2,227.8 553.7,222.6 565.6,222.6 567.0,216.7 568.5,211.2 577.4,211.2 578.9,209.2 580.4,204.8 579.7,204.8" stroke-opacity="0.48"/><polyline points="37.4,341.0 41.9,341.0 43.3,340.7 44.8,340.1 46.3,338.6 47.8,337.0 49.3,336.5 50.8,333.8 52.2,332.3 53.7,330.2 55.2,328.1 62.6,328.1 64.1,327.3 65.6,326.5 67.1,325.9 68.6,325.3 70.0,323.3 71.5,320.8 73.0,317.6 74.5,316.9 76.0,315.8 77.5,315.1 78.9,313.1 80.4,311.3 81.9,310.3 83.4,308.8 84.9,307.2 86.4,306.1 87.8,306.1 89.3,305.6 90.8,305.0 92.3,304.0 93.8,303.4 95.3,302.8 96.7,302.5 98.2,301.8 99.7,301.3 101.2,301.1 102.7,301.0 104.2,300.2 105.6,298.6 107.1,298.0 108.6,297.4 110.1,296.5 111.6,296.5 113.1,296.2 114.5,295.9 117.5,295.9 119.0,295.5 120.5,294.6 122.0,294.2 123.4,293.7 124.9,293.2 126.4,292.5 127.9,291.5 129.4,290.1 130.9,289.3 132.4,288.9 133.8,288.9 135.3,288.8 136.8,288.3 138.3,288.1 139.8,287.9 141.3,287.7 142.7,287.6 145.7,287.6 147.2,287.5 148.7,287.4 150.2,287.3 151.6,287.1 162.0,287.1 163.5,286.8 165.0,286.2 166.5,285.4 168.0,285.0 169.4,284.0 170.9,283.8 172.4,283.6 173.9,283.6 175.4,283.6 176.9,283.6 178.3,283.6 190.2,283.6 191.7,283.6 193.2,283.5 194.7,283.5 196.1,283.4 197.6,283.4 199.1,283.4 200.6,283.2 202.1,283.1 203.6,282.9 205.0,282.8 206.5,282.7 208.0,282.7 209.5,282.7 211.0,282.6 212.5,282.6 213.9,282.6 215.4,282.5 216.9,282.5 218.4,282.5 219.9,282.4 221.4,282.4 222.9,282.4 258.5,282.4 259.9,281.9 261.4,281.8 262.9,281.1 265.9,281.1 267.4,281.0 268.8,280.8 270.3,280.7 285.2,280.7 286.6,280.7 288.1,280.6 289.6,280.4 291.1,280.3 292.6,280.3 319.3,280.3 320.8,280.3 362.3,280.3 363.8,280.2 365.3,280.2 366.8,280.2 368.2,280.2 369.7,280.2 371.2,280.2 432.0,280.2 433.5,280.2 435.0,280.1 436.5,280.0 438.0,279.9 439.5,279.9 449.8,279.9 451.3,279.3 452.8,278.0 454.3,276.3 455.8,275.5 457.3,274.4 458.7,273.5 486.9,273.5 488.4,272.0 489.9,271.0 501.8,271.0 503.3,267.9 504.7,262.4 506.2,255.0 507.7,247.1 509.2,239.0 510.7,236.7 513.6,236.7 515.1,233.5 516.6,230.5 518.1,221.0 519.6,220.1 521.1,219.5 522.5,218.8 528.5,218.8 530.0,214.1 531.4,209.2 547.8,209.2 549.2,202.9 550.7,202.9 552.2,199.6 553.7,196.2 555.2,194.2 568.5,194.2 570.0,192.2 571.5,189.5 573.0,184.4 575.9,184.4 577.4,184.3 578.9,184.1 579.7,184.1" stroke-opacity="0.56"/><polyline points="37.4,341.0 38.9,341.0 40.4,340.3 41.9,339.6 44.8,339.6 46.3,339.5 47.8,339.3 49.3,339.0 50.8,339.0 52.2,338.6 53.7,338.4 55.2,337.7 56.7,336.8 58.2,335.5 59.7,335.1 61.1,335.0 62.6,334.8 64.1,334.8 65.6,334.7 67.1,333.9 68.6,333.5 70.0,332.6 71.5,331.7 73.0,331.2 74.5,330.6 76.0,330.4 77.5,330.1 78.9,329.9 80.4,329.9 81.9,329.8 83.4,329.7 86.4,329.7 87.8,328.0 89.3,325.6 90.8,323.1 92.3,321.4 93.8,321.2 95.3,320.8 96.7,320.0 98.2,318.9 99.7,316.0 101.2,314.2 102.7,313.8 104.2,313.3 105.6,313.3 107.1,312.4 108.6,311.6 110.1,310.8 111.6,310.1 113.1,309.6 114.5,307.3 116.0,306.3 117.5,305.3 119.0,303.4 120.5,297.9 122.0,293.5 123.4,292.8 124.9,292.4 126.4,291.7 127.9,290.5 129.4,289.6 130.9,288.9 132.4,288.9 133.8,288.9 135.3,288.9 136.8,288.9 138.3,288.9 139.8,288.9 141.3,288.9 142.7,288.9 147.2,288.9 148.7,288.9 150.2,288.9 151.6,288.9 153.1,288.9 160.5,288.9 162.0,288.9 163.5,288.9 165.0,288.9 166.5,288.9 168.0,288.9 169.4,288.9 170.9,288.9 172.4,288.8 173.9,288.8 175.4,288.8 176.9,288.8 178.3,288.8 179.8,288.8 181.3,288.8 182.8,288.8 184.3,288.8 185.8,288.6 187.2,288.6 188.7,288.4 196.1,288.4 197.6,287.6 199.1,287.2 200.6,286.4 202.1,284.8 206.5,284.8 208.0,284.4 209.5,284.0 211.0,283.9 243.6,283.9 245.1,283.8 246.6,283.5 248.1,283.3 249.6,282.9 282.2,282.9 283.7,282.5 285.2,282.0 286.6,281.3 288.1,281.0 289.6,280.9 467.6,280.9 469.1,280.2 470.6,279.1 498.8,279.1 500.3,277.4 507.7,277.4 509.2,273.8 549.2,273.8 550.7,273.7 552.2,273.4 553.7,273.3 555.2,273.2 559.6,273.2 561.1,266.2 562.6,259.8 567.0,259.8 568.5,253.8 570.0,244.7 579.7,244.7" stroke-opacity="0.40"/><polyline points="37.4,341.0 38.9,341.0 40.4,338.2 41.9,334.3 43.3,333.2 46.3,333.2 47.8,330.2 49.3,327.3 50.8,325.0 52.2,312.0 53.7,306.2 55.2,305.1 59.7,305.1 61.1,303.3 62.6,301.8 64.1,301.3 65.6,301.3 67.1,297.7 68.6,295.1 70.0,295.1 71.5,293.3 73.0,291.8 84.9,291.8 86.4,291.7 87.8,291.5 95.3,291.5 96.7,291.4 98.2,291.3 99.7,291.2 101.2,291.1 104.2,291.1 105.6,290.7 107.1,290.6 108.6,290.6 110.1,290.4 120.5,290.4 122.0,290.4 123.4,290.3 124.9,290.1 126.4,289.9 127.9,289.7 133.8,289.7 135.3,289.7 136.8,289.7 138.3,289.7 139.8,289.7 141.3,289.7 142.7,289.7 144.2,289.7 145.7,289.7 147.2,289.7 148.7,289.7 150.2,289.7 151.6,289.7 153.1,289.7 162.0,289.7 163.5,289.7 165.0,289.7 170.9,289.7 172.4,289.7 173.9,289.7 175.4,289.7 176.9,289.7 178.3,289.7 179.8,289.7 181.3,289.7 184.3,289.7 185.8,289.1 187.2,289.0 188.7,288.8 191.7,288.8 193.2,288.8 194.7,288.7 196.1,288.7 197.6,288.4 199.1,287.9 200.6,287.6 206.5,287.6 208.0,287.3 209.5,286.9 211.0,286.7 212.5,285.9 213.9,285.9 215.4,285.4 234.7,285.4 236.2,285.2 237.7,284.9 239.2,284.6 240.7,284.3 283.7,284.3 285.2,284.3 286.6,284.3 288.1,284.3 289.6,284.2 291.1,284.2 292.6,284.2 294.1,284.2 317.8,284.2 319.3,284.2 320.8,284.2 322.3,284.2 323.7,284.2 387.5,284.2 389.0,284.2 390.5,284.2 392.0,284.2 435.0,284.2 436.5,284.2 438.0,284.2 439.5,284.2 440.9,284.2 442.4,284.2 443.9,284.2 445.4,284.2 452.8,284.2 454.3,284.1 455.8,284.1 457.3,284.0 458.7,284.0 460.2,284.0 461.7,284.0 463.2,284.0 464.7,284.0 466.2,283.9 495.8,283.9 497.3,282.5 510.7,282.5 512.2,281.9 513.6,281.4 524.0,281.4 525.5,278.5 527.0,277.7 528.5,277.4 558.1,277.4 559.6,277.4 561.1,277.4 562.6,277.1 564.1,277.0 565.6,277.0 570.0,277.0 571.5,276.9 573.0,276.7 574.5,276.5 575.9,276.4 577.4,276.2 578.9,275.9 579.7,275.9" stroke-opacity="0.40"/><polyline points="37.4,341.0 43.3,341.0 44.8,339.5 46.3,337.3 47.8,335.8 49.3,335.0 50.8,334.7 52.2,334.7 53.7,334.5 55.2,334.3 56.7,334.2 58.2,334.0 59.7,334.0 61.1,329.7 62.6,326.3 64.1,323.8 65.6,322.1 67.1,320.8 68.6,320.3 70.0,318.4 71.5,317.8 73.0,317.8 74.5,315.9 76.0,312.6 77.5,311.9 78.9,308.8 80.4,306.1 81.9,303.0 83.4,300.2 84.9,300.1 86.4,299.9 87.8,299.8 90.8,299.8 92.3,299.0 93.8,298.0 95.3,296.8 96.7,296.1 98.2,295.5 99.7,295.2 101.2,294.6 111.6,294.6 113.1,294.6 114.5,294.5 116.0,294.5 117.5,293.8 119.0,293.7 120.5,293.6 123.4,293.6 124.9,292.2 126.4,290.9 127.9,290.7 129.4,290.6 130.9,290.4 132.4,290.1 133.8,289.9 135.3,289.9 136.8,289.9 138.3,289.9 139.8,289.9 141.3,289.9 142.7,289.9 144.2,289.9 145.7,289.9 147.2,289.9 148.7,289.9 150.2,289.9 151.6,289.9 153.1,289.9 154.6,289.9 156.1,289.9 157.6,289.8 159.1,289.8 160.5,289.8 162.0,289.8 163.5,289.8 165.0,289.8 166.5,289.8 168.0,289.8 197.6,289.8 199.1,289.6 200.6,289.3 202.1,289.3 203.6,289.3 205.0,289.3 206.5,289.2 208.0,289.1 209.5,289.0 211.0,288.9 212.5,288.9 213.9,288.8 251.0,288.8 252.5,287.4 254.0,285.9 255.5,285.0 257.0,284.4 277.7,284.4 279.2,284.3 280.7,284.2 282.2,284.2 283.7,284.0 285.2,283.9 286.6,283.8 334.1,283.8 335.6,283.8 337.1,283.8 338.6,283.8 340.1,283.8 341.5,283.8 371.2,283.8 372.7,283.6 374.2,282.8 421.7,282.8 423.1,282.5 464.7,282.5 466.2,254.2 497.3,254.2 498.8,246.6 500.3,244.0 501.8,237.8 527.0,237.8 528.5,231.9 530.0,214.9 531.4,207.5 535.9,207.5 537.4,204.0 538.9,202.7 549.2,202.7 550.7,202.2 561.1,202.2 562.6,200.2 564.1,198.5 565.6,196.8 567.0,181.7 575.9,181.7 577.4,180.4 579.7,180.4" stroke-opacity="0.56"/><polyline points="37.4,341.0 38.9,341.0 40.4,340.7 41.9,340.5 43.3,340.3 44.8,340.2 46.3,340.0 47.8,339.8 49.3,339.8 50.8,339.8 52.2,339.8 53.7,339.6 55.2,339.4 56.7,339.3 58.2,339.1 62.6,339.1 64.1,339.0 65.6,338.9 67.1,338.7 68.6,338.7 76.0,338.7 77.5,338.1 78.9,338.1 80.4,337.8 81.9,337.3 83.4,336.5 84.9,336.2 86.4,335.6 87.8,334.0 89.3,333.3 104.2,333.3 105.6,332.2 107.1,330.8 108.6,329.1 110.1,328.4 111.6,326.6 113.1,322.8 114.5,319.3 116.0,314.9 117.5,310.5 123.4,310.5 124.9,306.6 126.4,302.3 127.9,300.4 129.4,299.2 142.7,299.2 144.2,298.7 145.7,297.1 153.1,297.1 154.6,295.8 156.1,293.3 157.6,291.7 159.1,288.7 166.5,288.7 168.0,288.6 169.4,288.3 170.9,287.8 172.4,287.4 173.9,287.0 175.4,286.7 176.9,286.6 178.3,286.6 179.8,286.6 181.3,286.5 182.8,286.5 184.3,286.5 185.8,286.5 187.2,286.5 188.7,286.5 190.2,286.5 191.7,286.4 193.2,286.4 194.7,286.4 196.1,286.3 197.6,286.3 199.1,286.2 200.6,286.2 215.4,286.2 216.9,286.2 218.4,286.2 219.9,286.2 221.4,286.1 222.9,286.0 224.3,285.9 225.8,285.8 234.7,285.8 236.2,285.8 249.6,285.8 251.0,285.8 252.5,285.7 254.0,285.6 288.1,285.6 289.6,285.1 291.1,284.6 292.6,284.3 337.1,284.3 338.6,284.3 340.1,284.3 356.4,284.3 357.9,284.3 359.3,284.0 360.8,283.9 362.3,283.8 363.8,283.7 365.3,283.6 366.8,283.4 427.6,283.4 429.1,282.8 430.6,282.1 432.0,281.3 433.5,280.7 435.0,280.2 436.5,279.4 488.4,279.4 489.9,271.5 491.4,262.7 515.1,262.7 516.6,252.0 528.5,252.0 530.0,244.1 532.9,244.1 534.4,239.3 535.9,236.1 537.4,232.7 549.2,232.7 550.7,226.2 552.2,223.0 553.7,218.3 555.2,206.6 561.1,206.6 562.6,203.1 564.1,201.6 567.0,201.6 568.5,192.6 570.0,185.5 571.5,179.2 575.9,179.2 577.4,173.5 578.9,171.8 579.7,171.8" stroke-opacity="0.64"/><polyline points="37.4,341.0 38.9,341.0 40.4,340.9 41.9,340.7 43.3,338.2 44.8,338.1 46.3,338.1 47.8,337.9 52.2,337.9 53.7,337.4 55.2,336.9 56.7,336.9 58.2,336.4 59.7,335.9 61.1,335.3 65.6,335.3 67.1,334.2 74.5,334.2 76.0,333.6 77.5,333.6 78.9,332.2 80.4,330.8 81.9,330.4 83.4,329.9 84.9,329.3 86.4,329.0 87.8,327.6 89.3,326.7 90.8,325.8 92.3,325.3 93.8,324.9 95.3,323.6 98.2,323.6 99.7,322.9 101.2,322.1 102.7,321.2 104.2,321.1 105.6,320.9 107.1,320.9 108.6,320.4 110.1,319.7 111.6,318.6 113.1,317.7 114.5,316.7 116.0,315.7 117.5,314.3 119.0,313.8 120.5,312.6 122.0,311.5 123.4,310.9 124.9,310.6 126.4,310.3 133.8,310.3 135.3,308.9 136.8,307.0 138.3,306.2 150.2,306.2 151.6,306.2 153.1,305.9 154.6,305.7 156.1,305.7 157.6,303.9 159.1,302.5 160.5,302.5 162.0,299.9 163.5,299.9 165.0,295.6 166.5,294.4 168.0,292.7 169.4,290.2 185.8,290.2 187.2,290.2 188.7,290.2 199.1,290.2 200.6,289.6 208.0,289.6 209.5,289.6 211.0,289.5 212.5,289.5 213.9,289.4 215.4,289.4 216.9,289.3 219.9,289.3 221.4,289.1 222.9,288.6 224.3,288.5 225.8,288.0 227.3,287.5 228.8,286.8 230.3,286.1 231.8,285.2 233.2,284.2 234.7,283.8 267.4,283.8 268.8,283.8 270.3,283.8 271.8,283.8 350.4,283.8 351.9,283.7 353.4,283.7 354.9,283.7 356.4,283.7 366.8,283.7 368.2,283.7 369.7,283.6 371.2,283.6 372.7,283.6 374.2,283.6 442.4,283.6 443.9,283.5 445.4,283.4 446.9,283.3 448.4,283.3 449.8,283.2 451.3,282.1 452.8,279.1 454.3,278.5 481.0,278.5 482.5,275.8 484.0,272.7 492.9,272.7 494.3,267.0 495.8,266.3 497.3,257.4 498.8,250.2 500.3,248.2 531.4,248.2 532.9,244.4 534.4,240.4 535.9,235.7 537.4,232.6 538.9,230.2 540.3,230.2 541.8,221.4 543.3,218.8 544.8,217.4 573.0,217.4 574.5,217.3 575.9,217.0 578.9,217.0 580.4,209.4 579.7,209.4" stroke-opacity="0.56"/><polyline points="37.4,341.0 40.4,341.0 41.9,338.5 43.3,335.7 44.8,334.2 46.3,330.4 47.8,323.5 49.3,319.8 50.8,318.8 52.2,318.2 53.7,316.8 55.2,315.6 58.2,315.6 59.7,314.8 61.1,313.6 62.6,313.6 64.1,313.2 65.6,309.1 67.1,307.2 68.6,306.0 76.0,306.0 77.5,304.0 78.9,301.6 80.4,300.3 81.9,298.8 83.4,297.1 84.9,296.0 86.4,296.0 87.8,296.0 89.3,295.9 90.8,295.9 93.8,295.9 95.3,295.9 96.7,295.9 98.2,295.8 99.7,295.7 101.2,295.7 102.7,295.7 105.6,295.7 107.1,295.7 108.6,295.7 110.1,295.6 111.6,295.6 113.1,295.6 114.5,295.6 116.0,295.5 117.5,295.5 119.0,295.5 120.5,295.5 122.0,295.4 123.4,295.3 124.9,295.2 126.4,295.2 132.4,295.2 133.8,295.1 135.3,294.9 136.8,294.6 138.3,294.3 139.8,293.5 141.3,292.9 142.7,292.9 144.2,292.7 145.7,292.5 147.2,291.6 150.2,291.6 151.6,291.5 153.1,291.4 154.6,291.4 157.6,291.4 159.1,291.2 160.5,291.1 162.0,291.0 163.5,290.5 165.0,289.2 166.5,288.7 168.0,288.3 169.4,287.8 170.9,287.5 172.4,287.4 173.9,287.4 175.4,287.2 176.9,286.8 178.3,286.5 179.8,286.2 181.3,286.1 182.8,285.6 184.3,285.3 185.8,285.2 187.2,285.2 188.7,285.2 208.0,285.2 209.5,285.1 211.0,285.0 212.5,284.9 213.9,284.8 215.4,284.7 216.9,284.6 218.4,284.4 224.3,284.4 225.8,284.3 227.3,284.3 228.8,284.2 230.3,284.1 291.1,284.1 292.6,283.6 316.3,283.6 317.8,282.5 319.3,282.3 329.7,282.3 331.2,281.7 332.6,280.4 359.3,280.4 360.8,280.4 417.2,280.4 418.7,280.4 420.2,280.3 421.7,280.3 423.1,280.3 424.6,280.2 426.1,280.1 427.6,280.0 429.1,280.0 457.3,280.0 458.7,279.5 460.2,279.1 461.7,278.8 507.7,278.8 509.2,266.9 519.6,266.9 521.1,263.4 522.5,256.5 524.0,250.6 525.5,247.7 527.0,243.7 528.5,239.8 541.8,239.8 543.3,237.0 544.8,234.8 546.3,233.4 547.8,222.1 549.2,217.6 559.6,217.6 561.1,213.0 564.1,213.0 565.6,189.8 579.7,189.8" stroke-opacity="0.40"/><polyline points="37.4,341.0 53.7,341.0 55.2,332.5 56.7,325.4 58.2,323.4 59.7,319.7 73.0,319.7 74.5,313.8 76.0,308.4 78.9,308.4 80.4,306.4 81.9,303.1 83.4,298.5 84.9,298.4 86.4,298.1 87.8,297.8 89.3,297.7 90.8,297.4 92.3,297.3 98.2,297.3 99.7,297.2 101.2,297.0 102.7,296.6 110.1,296.6 111.6,296.0 113.1,295.7 114.5,295.2 116.0,295.0 117.5,295.0 119.0,294.7 120.5,294.3 122.0,293.9 127.9,293.9 129.4,293.9 130.9,293.9 132.4,293.9 135.3,293.9 136.8,293.9 138.3,293.9 139.8,293.8 141.3,293.8 142.7,293.7 144.2,293.7 148.7,293.7 150.2,293.7 151.6,293.7 153.1,293.6 154.6,293.6 156.1,293.6 163.5,293.6 165.0,293.6 166.5,293.6 168.0,293.6 169.4,293.6 172.4,293.6 173.9,293.3 175.4,293.2 176.9,292.8 178.3,292.7 179.8,292.7 181.3,292.6 182.8,292.4 184.3,292.2 185.8,292.1 187.2,292.0 188.7,291.9 190.2,291.4 191.7,290.7 193.2,290.5 205.0,290.5 206.5,290.4 208.0,290.3 209.5,290.2 211.0,290.2 212.5,289.9 213.9,289.9 215.4,289.2 216.9,289.1 218.4,288.8 219.9,288.6 222.9,288.6 224.3,287.4 225.8,286.3 227.3,285.7 255.5,285.7 257.0,285.6 258.5,285.5 259.9,285.4 262.9,285.4 264.4,285.4 297.0,285.4 298.5,285.4 300.0,285.4 301.5,285.3 303.0,285.3 304.4,285.3 305.9,285.3 307.4,285.3 326.7,285.3 328.2,285.3 360.8,285.3 362.3,285.3 363.8,285.3 365.3,285.3 366.8,285.3 412.8,285.3 414.2,285.0 415.7,284.9 470.6,284.9 472.1,282.6 473.6,280.4 485.4,280.4 486.9,279.8 488.4,278.0 489.9,275.9 532.9,275.9 534.4,251.8 535.9,222.8 537.4,220.4 543.3,220.4 544.8,219.6 546.3,215.7 574.5,215.7 575.9,215.3 577.4,215.1 578.9,215.0 579.7,215.0" stroke-opacity="0.56"/><polyline points="37.4,341.0 44.8,341.0 46.3,339.9 47.8,338.1 49.3,335.5 50.8,329.5 52.2,329.0 53.7,321.5 55.2,319.4 56.7,317.0 58.2,317.0 59.7,316.7 61.1,316.1 62.6,315.4 64.1,311.0 65.6,309.3 67.1,307.2 89.3,307.2 90.8,306.4 92.3,304.7 93.8,302.7 95.3,301.4 96.7,301.2 98.2,301.0 99.7,300.2 101.2,299.6 102.7,299.2 104.2,298.7 105.6,298.1 111.6,298.1 113.1,297.6 114.5,296.8 116.0,295.1 117.5,294.9 119.0,294.6 127.9,294.6 129.4,294.6 130.9,294.6 132.4,294.5 133.8,294.5 135.3,294.5 136.8,294.4 138.3,294.3 142.7,294.3 144.2,294.3 145.7,294.3 147.2,294.2 148.7,294.2 153.1,294.2 154.6,294.1 156.1,294.1 157.6,294.0 159.1,293.9 160.5,293.9 162.0,293.9 163.5,293.9 165.0,293.9 166.5,293.9 168.0,293.8 169.4,293.8 172.4,293.8 173.9,293.6 175.4,293.3 176.9,293.3 178.3,293.2 179.8,293.2 181.3,293.2 182.8,293.0 184.3,292.9 185.8,292.8 187.2,292.8 188.7,292.8 190.2,292.8 191.7,292.3 193.2,291.8 194.7,291.5 196.1,291.4 197.6,291.4 199.1,291.1 200.6,290.8 202.1,290.7 203.6,290.5 205.0,290.4 206.5,290.3 209.5,290.3 211.0,289.9 236.2,289.9 237.7,288.6 300.0,288.6 301.5,288.3 303.0,287.6 304.4,287.4 305.9,286.9 307.4,286.1 308.9,285.8 310.4,285.4 316.3,285.4 317.8,285.4 371.2,285.4 372.7,285.4 374.2,285.3 375.7,285.3 377.1,285.3 411.3,285.3 412.8,285.2 414.2,285.2 415.7,285.2 417.2,285.1 446.9,285.1 448.4,279.7 449.8,277.5 451.3,272.3 452.8,270.9 488.4,270.9 489.9,266.8 491.4,265.8 492.9,265.4 495.8,265.4 497.3,264.7 498.8,263.4 500.3,262.3 501.8,261.6 516.6,261.6 518.1,259.7 519.6,257.1 521.1,252.3 522.5,249.2 524.0,246.5 525.5,245.5 527.0,245.5 528.5,243.5 530.0,242.3 531.4,241.5 543.3,241.5 544.8,240.4 546.3,239.6 547.8,238.9 549.2,238.3 550.7,236.7 552.2,236.3 553.7,235.0 556.7,235.0 558.1,234.0 559.6,232.9 561.1,230.9 562.6,230.9 564.1,229.9 571.5,229.9 573.0,229.4 574.5,228.7 575.9,227.8 579.7,227.8" stroke-opacity="0.72"/><polyline points="37.4,341.0 40.4,341.0 41.9,340.7 43.3,339.8 44.8,337.4 46.3,335.5 47.8,331.8 49.3,329.2 50.8,325.1 52.2,323.2 53.7,322.8 55.2,322.0 56.7,321.2 58.2,320.9 59.7,320.4 61.1,318.6 62.6,318.1 64.1,316.7 71.5,316.7 73.0,314.2 78.9,314.2 80.4,313.6 81.9,312.9 83.4,311.6 84.9,310.7 86.4,310.0 87.8,309.5 89.3,309.0 90.8,309.0 92.3,308.6 93.8,308.1 95.3,307.6 96.7,307.2 98.2,306.8 99.7,306.6 101.2,306.4 107.1,306.4 108.6,306.2 110.1,306.0 111.6,305.7 113.1,305.4 114.5,305.2 116.0,304.6 117.5,303.9 119.0,301.8 120.5,301.4 122.0,301.3 123.4,300.9 124.9,300.6 126.4,300.4 127.9,300.0 129.4,299.9 130.9,299.9 133.8,299.9 135.3,299.6 138.3,299.6 139.8,299.5 141.3,299.3 142.7,298.9 144.2,298.8 145.7,298.7 147.2,298.3 148.7,297.8 150.2,297.6 151.6,297.5 153.1,297.2 156.1,297.2 157.6,296.2 159.1,296.0 160.5,296.0 163.5,296.0 165.0,294.9 166.5,293.3 168.0,292.7 169.4,292.2 190.2,292.2 191.7,292.2 193.2,292.1 194.7,292.0 196.1,291.9 197.6,291.8 199.1,291.7 200.6,291.6 202.1,291.5 203.6,291.5 205.0,291.4 206.5,291.1 208.0,291.0 209.5,290.9 211.0,290.7 212.5,290.7 213.9,290.6 215.4,290.5 231.8,290.5 233.2,289.9 234.7,289.6 236.2,289.3 237.7,288.6 239.2,287.8 240.7,287.1 242.1,286.5 298.5,286.5 300.0,286.5 301.5,286.4 303.0,286.3 304.4,286.2 305.9,286.1 460.2,286.1 461.7,279.5 463.2,276.2 491.4,276.2 492.9,276.1 494.3,276.0 495.8,275.9 497.3,275.1 498.8,274.4 507.7,274.4 509.2,273.8 510.7,272.1 512.2,270.6 532.9,270.6 534.4,270.3 535.9,269.8 537.4,269.6 538.9,269.3 540.3,269.3 541.8,264.5 564.1,264.5 565.6,255.1 567.0,246.5 568.5,246.5 570.0,246.1 579.7,246.1" stroke-opacity="0.72"/><polyline points="37.4,341.0 50.8,341.0 52.2,337.7 56.7,337.7 58.2,335.2 59.7,333.9 61.1,328.6 62.6,323.9 64.1,321.3 65.6,305.2 76.0,305.2 77.5,304.2 78.9,302.7 80.4,301.4 81.9,297.3 83.4,296.1 84.9,296.0 86.4,295.7 87.8,295.5 89.3,295.1 90.8,295.1 92.3,295.1 93.8,295.1 95.3,295.1 96.7,295.0 98.2,295.0 99.7,295.0 101.2,295.0 102.7,295.0 104.2,295.0 105.6,295.0 107.1,295.0 108.6,294.9 110.1,294.9 111.6,294.9 113.1,294.9 114.5,294.9 116.0,294.9 117.5,294.9 119.0,294.8 120.5,294.8 122.0,294.8 123.4,294.8 124.9,294.8 126.4,294.7 130.9,294.7 132.4,294.5 133.8,294.1 135.3,294.1 136.8,294.0 138.3,293.9 139.8,293.9 141.3,293.7 142.7,293.7 144.2,293.6 145.7,293.5 147.2,293.4 148.7,293.3 150.2,293.2 153.1,293.2 154.6,293.1 156.1,293.0 157.6,293.0 166.5,293.0 168.0,292.9 175.4,292.9 176.9,292.8 182.8,292.8 184.3,292.7 185.8,292.6 187.2,292.5 188.7,292.4 190.2,292.2 193.2,292.2 194.7,292.1 196.1,292.0 197.6,291.9 199.1,291.7 200.6,291.7 202.1,291.7 203.6,291.6 205.0,291.6 206.5,291.5 213.9,291.5 215.4,291.4 216.9,291.4 230.3,291.4 231.8,291.2 233.2,291.1 234.7,290.7 236.2,290.4 237.7,290.3 282.2,290.3 283.7,290.3 285.2,290.3 286.6,290.3 288.1,290.2 332.6,290.2 334.1,289.7 335.6,289.4 337.1,289.0 338.6,288.7 369.7,288.7 371.2,288.6 372.7,288.6 374.2,288.4 375.7,288.3 377.1,288.2 405.3,288.2 406.8,288.0 408.3,287.8 409.8,287.4 411.3,287.1 412.8,287.0 414.2,286.8 443.9,286.8 445.4,286.8 446.9,286.6 448.4,286.6 449.8,286.5 460.2,286.5 461.7,286.2 463.2,286.2 464.7,286.1 466.2,285.9 467.6,285.8 486.9,285.8 488.4,285.8 489.9,285.7 491.4,285.6 492.9,285.6 494.3,281.4 495.8,273.0 497.3,263.3 498.8,258.4 515.1,258.4 516.6,250.4 531.4,250.4 532.9,245.2 534.4,241.5 541.8,241.5 543.3,239.3 544.8,237.1 553.7,237.1 555.2,232.9 556.7,228.1 558.1,227.4 559.6,226.3 570.0,226.3 571.5,223.9 573.0,219.5 574.5,214.8 575.9,213.4 579.7,213.4" stroke-opacity="0.32"/><polyline points="37.4,341.0 38.9,341.0 40.4,339.4 41.9,338.8 43.3,337.7 44.8,336.8 46.3,335.8 47.8,335.2 49.3,335.1 50.8,333.4 52.2,332.9 53.7,332.9 70.0,332.9 71.5,332.4 73.0,331.8 74.5,330.8 76.0,329.9 77.5,329.0 78.9,327.8 80.4,324.5 81.9,323.1 83.4,322.5 84.9,321.9 86.4,320.8 87.8,319.3 89.3,319.1 90.8,318.6 92.3,317.9 93.8,317.1 95.3,316.5 96.7,315.9 98.2,315.1 99.7,314.4 101.2,313.2 102.7,310.8 104.2,308.0 105.6,305.3 107.1,305.3 108.6,305.1 110.1,303.8 111.6,303.4 113.1,300.2 114.5,299.3 116.0,298.8 117.5,297.7 119.0,297.4 120.5,297.3 122.0,297.3 123.4,297.0 124.9,296.4 126.4,294.9 127.9,294.0 129.4,294.0 130.9,293.9 132.4,293.9 133.8,293.9 135.3,293.9 142.7,293.9 144.2,293.9 145.7,293.8 147.2,293.7 148.7,293.7 151.6,293.7 153.1,293.7 154.6,293.7 156.1,293.7 157.6,293.6 159.1,293.6 160.5,293.6 162.0,293.6 163.5,293.6 175.4,293.6 176.9,293.4 178.3,293.4 194.7,293.4 196.1,293.3 197.6,293.2 199.1,293.1 200.6,293.1 202.1,292.9 203.6,292.6 205.0,292.4 211.0,292.4 212.5,292.3 213.9,292.3 224.3,292.3 225.8,292.2 227.3,292.2 228.8,292.1 230.3,292.1 231.8,292.0 233.2,291.9 234.7,291.9 243.6,291.9 245.1,291.7 246.6,291.6 249.6,291.6 251.0,291.6 252.5,291.5 254.0,291.5 255.5,291.4 257.0,291.4 258.5,291.3 259.9,291.2 261.4,291.1 262.9,290.9 276.3,290.9 277.7,290.9 279.2,290.9 316.3,290.9 317.8,290.9 319.3,290.9 320.8,290.8 322.3,290.8 323.7,290.8 371.2,290.8 372.7,290.8 374.2,290.8 399.4,290.8 400.9,290.0 464.7,290.0 466.2,289.7 467.6,289.3 469.1,288.9 510.7,288.9 512.2,288.8 513.6,288.7 515.1,288.6 522.5,288.6 524.0,288.1 528.5,288.1 530.0,287.4 531.4,287.2 532.9,287.0 534.4,286.7 535.9,286.7 537.4,286.5 538.9,286.3 540.3,285.9 541.8,285.6 549.2,285.6 550.7,285.5 552.2,284.8 553.7,283.9 555.2,283.1 558.1,283.1 559.6,282.9 561.1,282.7 562.6,281.6 564.1,281.2 565.6,281.0 570.0,281.0 571.5,281.0 573.0,280.5 574.5,280.4 579.7,280.4" stroke-opacity="0.64"/><polyline points="37.4,341.0 40.4,341.0 41.9,340.2 43.3,338.4 44.8,336.8 46.3,335.4 47.8,333.3 55.2,333.3 56.7,332.1 58.2,331.7 59.7,330.4 61.1,328.5 62.6,327.7 67.1,327.7 68.6,327.4 70.0,324.7 71.5,322.9 73.0,319.9 74.5,318.2 76.0,315.3 77.5,314.9 78.9,314.4 80.4,313.5 81.9,312.8 83.4,312.4 99.7,312.4 101.2,308.1 102.7,308.1 104.2,307.5 105.6,306.9 107.1,306.1 113.1,306.1 114.5,305.9 116.0,305.6 117.5,305.3 119.0,303.1 120.5,302.7 122.0,302.3 123.4,301.8 127.9,301.8 129.4,301.8 130.9,301.8 132.4,301.8 133.8,301.8 135.3,301.8 136.8,301.6 138.3,301.5 139.8,301.5 141.3,301.5 142.7,301.4 144.2,301.3 145.7,301.1 147.2,300.9 148.7,300.7 153.1,300.7 154.6,300.6 156.1,300.5 159.1,300.5 160.5,300.4 162.0,300.4 163.5,300.4 166.5,300.4 168.0,300.3 169.4,300.3 170.9,300.3 172.4,300.3 179.8,300.3 181.3,297.6 182.8,294.9 184.3,293.9 185.8,293.4 187.2,293.0 188.7,291.6 190.2,291.1 228.8,291.1 230.3,291.1 231.8,291.0 233.2,290.9 234.7,290.9 243.6,290.9 245.1,290.8 246.6,290.7 248.1,290.7 285.2,290.7 286.6,290.7 288.1,290.7 289.6,290.7 291.1,290.7 292.6,290.6 294.1,290.6 347.5,290.6 349.0,290.6 350.4,290.6 351.9,290.6 353.4,290.5 354.9,290.5 356.4,290.5 365.3,290.5 366.8,290.5 368.2,290.5 369.7,290.4 400.9,290.4 402.4,290.4 403.8,290.4 405.3,290.4 406.8,290.4 408.3,290.4 409.8,290.4 411.3,290.4 414.2,290.4 415.7,290.4 417.2,290.4 418.7,290.4 420.2,290.4 440.9,290.4 442.4,290.4 460.2,290.4 461.7,279.7 494.3,279.7 495.8,278.3 497.3,276.4 498.8,274.6 503.3,274.6 504.7,264.7 512.2,264.7 513.6,263.2 540.3,263.2 541.8,263.1 543.3,263.0 544.8,262.7 546.3,262.5 547.8,261.9 549.2,261.9 550.7,261.8 552.2,261.6 553.7,261.5 561.1,261.5 562.6,261.3 564.1,261.2 565.6,260.9 571.5,260.9 573.0,260.9 574.5,260.7 575.9,259.5 579.7,259.5" stroke-opacity="0.48"/><polyline points="37.4,341.0 38.9,341.0 40.4,340.0 41.9,339.5 43.3,338.7 44.8,338.3 46.3,337.3 47.8,335.8 49.3,334.8 50.8,328.7 52.2,326.8 56.7,326.8 58.2,325.2 59.7,324.8 61.1,323.1 62.6,322.0 64.1,321.9 65.6,321.0 67.1,320.3 68.6,319.4 70.0,318.6 71.5,317.1 73.0,314.8 74.5,314.0 76.0,313.6 77.5,313.2 84.9,313.2 86.4,313.0 87.8,312.9 89.3,312.2 90.8,311.7 92.3,311.3 93.8,310.7 101.2,310.7 102.7,309.6 104.2,308.8 105.6,307.5 107.1,306.8 108.6,306.3 110.1,305.9 111.6,305.8 114.5,305.8 116.0,305.5 117.5,305.2 119.0,304.8 120.5,302.3 122.0,299.6 123.4,299.0 124.9,298.7 126.4,298.4 127.9,298.1 129.4,297.8 148.7,297.8 150.2,297.8 151.6,297.7 153.1,297.7 154.6,297.7 156.1,297.7 157.6,297.6 162.0,297.6 163.5,297.6 165.0,297.6 168.0,297.6 169.4,297.5 170.9,297.5 172.4,297.4 173.9,297.3 175.4,297.2 176.9,297.2 178.3,297.1 179.8,297.0 181.3,296.8 208.0,296.8 209.5,296.1 211.0,295.6 212.5,294.9 237.7,294.9 239.2,294.8 240.7,294.8 242.1,294.7 243.6,294.7 248.1,294.7 249.6,294.7 251.0,294.6 252.5,294.5 268.8,294.5 270.3,294.5 271.8,294.5 273.3,294.4 274.8,294.3 276.3,294.2 335.6,294.2 337.1,294.2 338.6,294.2 340.1,294.1 341.5,294.1 343.0,294.1 344.5,294.0 346.0,294.0 374.2,294.0 375.7,293.9 377.1,293.9 399.4,293.9 400.9,293.8 403.8,293.8 405.3,293.8 406.8,293.7 408.3,293.7 409.8,293.7 418.7,293.7 420.2,293.6 421.7,293.6 432.0,293.6 433.5,293.6 435.0,293.5 436.5,293.5 438.0,293.5 461.7,293.5 463.2,292.0 464.7,287.3 500.3,287.3 501.8,286.7 521.1,286.7 522.5,285.0 524.0,284.3 525.5,282.8 527.0,281.1 532.9,281.1 534.4,273.9 535.9,266.5 562.6,266.5 564.1,265.0 565.6,262.1 567.0,262.0 568.5,257.8 570.0,254.3 571.5,252.8 579.7,252.8" stroke-opacity="0.56"/><polyline points="37.4,341.0 40.4,341.0 41.9,341.0 43.3,341.0 44.8,340.9 46.3,340.8 47.8,340.7 49.3,340.6 50.8,340.6 53.7,340.6 55.2,340.5 56.7,340.4 58.2,340.3 59.7,340.3 61.1,340.3 62.6,340.3 64.1,340.3 65.6,340.2 67.1,340.2 68.6,340.0 70.0,340.0 81.9,340.0 83.4,340.0 84.9,340.0 86.4,339.9 87.8,339.9 89.3,338.2 90.8,335.5 92.3,334.2 93.8,332.8 95.3,331.5 104.2,331.5 105.6,329.2 107.1,327.9 108.6,326.3 110.1,326.3 111.6,325.8 113.1,324.4 114.5,321.9 116.0,319.1 117.5,317.0 119.0,317.0 120.5,316.4 122.0,315.1 123.4,311.1 124.9,309.7 126.4,307.2 127.9,306.5 129.4,305.6 139.8,305.6 141.3,305.5 142.7,305.4 144.2,305.1 145.7,304.8 147.2,303.8 148.7,302.9 150.2,302.5 151.6,302.3 157.6,302.3 159.1,302.3 160.5,302.2 162.0,302.2 163.5,301.6 165.0,301.3 166.5,301.3 168.0,301.2 175.4,301.2 176.9,300.9 178.3,300.8 179.8,300.5 181.3,300.2 182.8,300.0 184.3,299.6 191.7,299.6 193.2,299.6 194.7,299.4 196.1,299.3 209.5,299.3 211.0,299.3 212.5,299.2 213.9,299.1 215.4,298.9 216.9,298.6 218.4,298.3 219.9,298.2 221.4,298.1 222.9,297.9 239.2,297.9 240.7,297.0 242.1,295.7 243.6,295.3 245.1,294.7 280.7,294.7 282.2,294.6 283.7,294.5 347.5,294.5 349.0,294.5 350.4,294.5 351.9,294.5 353.4,294.5 354.9,294.5 392.0,294.5 393.5,294.4 394.9,294.4 396.4,294.4 397.9,294.4 430.6,294.4 432.0,294.3 466.2,294.3 467.6,293.8 469.1,293.3 470.6,292.7 472.1,292.0 500.3,292.0 501.8,291.7 503.3,290.4 504.7,289.3 532.9,289.3 534.4,289.0 535.9,288.8 537.4,288.6 538.9,288.4 540.3,288.4 541.8,287.9 543.3,287.6 544.8,287.4 559.6,287.4 561.1,284.7 562.6,282.8 564.1,282.0 565.6,280.8 567.0,280.0 568.5,279.7 570.0,279.2 571.5,278.4 573.0,278.0 574.5,277.6 579.7,277.6" stroke-opacity="0.48"/><polyline points="37.4,341.0 41.9,341.0 43.3,340.2 44.8,338.4 46.3,336.8 47.8,336.0 49.3,335.8 50.8,335.1 52.2,334.4 55.2,334.4 56.7,333.0 58.2,327.7 59.7,319.6 61.1,313.7 62.6,313.4 64.1,313.2 65.6,312.9 67.1,311.0 68.6,309.8 70.0,307.2 71.5,306.3 73.0,305.1 74.5,304.6 76.0,303.3 77.5,300.9 78.9,299.8 87.8,299.8 89.3,299.8 90.8,299.7 92.3,299.7 93.8,299.6 95.3,299.6 96.7,299.5 98.2,299.5 99.7,299.2 101.2,299.0 102.7,298.8 104.2,298.5 105.6,298.4 107.1,298.4 108.6,298.3 110.1,298.3 111.6,298.2 113.1,298.0 114.5,297.9 116.0,297.8 117.5,297.7 119.0,297.6 120.5,297.6 122.0,297.5 123.4,297.5 126.4,297.5 127.9,297.5 129.4,297.4 130.9,297.4 132.4,297.3 133.8,297.3 135.3,297.3 136.8,297.3 138.3,297.2 139.8,297.2 141.3,297.1 142.7,297.1 144.2,297.0 145.7,297.0 147.2,297.0 162.0,297.0 163.5,296.9 165.0,296.9 168.0,296.9 169.4,296.9 170.9,296.8 172.4,296.8 173.9,296.7 175.4,296.6 176.9,296.6 184.3,296.6 185.8,296.5 187.2,296.5 188.7,296.4 190.2,296.4 191.7,296.3 193.2,296.3 199.1,296.3 200.6,296.2 202.1,296.2 203.6,296.1 205.0,296.0 206.5,296.0 208.0,295.9 213.9,295.9 215.4,295.7 243.6,295.7 245.1,295.6 246.6,295.6 248.1,295.6 249.6,295.5 251.0,295.5 252.5,295.5 254.0,295.4 255.5,295.4 257.0,295.4 258.5,295.4 259.9,295.3 261.4,295.3 262.9,295.3 282.2,295.3 283.7,295.2 285.2,295.2 286.6,295.2 297.0,295.2 298.5,295.1 300.0,295.0 301.5,295.0 303.0,294.8 347.5,294.8 349.0,294.8 357.9,294.8 359.3,294.8 360.8,294.8 362.3,294.8 363.8,294.8 365.3,294.8 366.8,294.8 368.2,294.8 424.6,294.8 426.1,294.8 427.6,294.8 429.1,294.7 430.6,294.7 451.3,294.7 452.8,294.3 454.3,294.1 455.8,293.7 470.6,293.7 472.1,293.5 473.6,293.3 484.0,293.3 485.4,293.3 486.9,293.1 488.4,293.0 489.9,293.0 491.4,291.4 492.9,290.3 494.3,288.6 495.8,288.6 497.3,288.3 504.7,288.3 506.2,286.5 507.7,283.2 509.2,281.2 518.1,281.2 519.6,281.0 521.1,280.9 540.3,280.9 541.8,279.7 543.3,279.0 544.8,278.3 555.2,278.3 556.7,278.3 559.6,278.3 561.1,278.1 562.6,277.6 573.0,277.6 574.5,277.1 575.9,275.3 577.4,274.1 579.7,274.1" stroke-opacity="0.40"/><polyline points="37.4,341.0 53.7,341.0 55.2,340.3 56.7,339.9 58.2,339.2 59.7,337.8 61.1,336.5 62.6,336.1 74.5,336.1 76.0,335.6 77.5,334.5 78.9,333.9 80.4,333.1 81.9,332.9 83.4,332.6 84.9,332.4 86.4,332.3 87.8,332.3 89.3,332.2 90.8,332.2 92.3,331.7 93.8,331.4 95.3,331.3 96.7,331.2 98.2,331.2 99.7,331.2 101.2,331.2 102.7,330.9 107.1,330.9 108.6,330.9 110.1,330.7 111.6,330.2 113.1,330.1 114.5,329.7 116.0,329.5 117.5,329.3 119.0,328.9 120.5,328.6 122.0,328.3 123.4,328.2 124.9,327.9 126.4,327.7 127.9,326.6 129.4,326.0 130.9,325.2 132.4,324.8 133.8,324.8 135.3,324.4 136.8,323.3 138.3,321.8 139.8,320.1 141.3,319.3 142.7,317.5 154.6,317.5 156.1,316.6 157.6,314.8 159.1,313.5 160.5,310.4 162.0,308.5 163.5,306.5 165.0,304.9 166.5,303.8 168.0,302.8 169.4,301.8 170.9,300.4 172.4,299.8 173.9,299.2 176.9,299.2 178.3,298.8 179.8,298.6 181.3,298.5 182.8,298.1 199.1,298.1 200.6,297.7 202.1,297.1 203.6,296.7 205.0,296.4 206.5,296.1 208.0,295.9 209.5,295.8 222.9,295.8 224.3,295.6 225.8,295.5 227.3,295.4 301.5,295.4 303.0,295.4 304.4,295.4 338.6,295.4 340.1,295.4 341.5,295.4 378.6,295.4 380.1,295.0 381.6,294.6 383.1,294.1 384.6,293.2 386.0,292.9 387.5,292.4 389.0,291.6 405.3,291.6 406.8,291.5 408.3,291.4 409.8,291.4 411.3,291.3 412.8,291.2 414.2,291.0 436.5,291.0 438.0,290.8 439.5,290.7 454.3,290.7 455.8,285.8 513.6,285.8 515.1,276.1 535.9,276.1 537.4,275.9 538.9,274.6 540.3,272.6 541.8,271.7 543.3,271.7 544.8,271.5 546.3,271.4 547.8,271.2 549.2,271.2 550.7,270.8 552.2,270.6 567.0,270.6 568.5,270.4 570.0,270.3 571.5,270.1 573.0,269.5 574.5,268.8 575.9,268.6 579.7,268.6" stroke-opacity="0.32"/><polyline points="37.4,341.0 38.9,341.0 40.4,340.8 41.9,340.6 43.3,340.5 44.8,339.7 46.3,338.4 47.8,338.4 49.3,338.3 50.8,338.1 52.2,338.0 53.7,337.9 55.2,337.9 56.7,337.6 58.2,337.0 59.7,335.7 61.1,334.5 62.6,334.2 64.1,334.0 70.0,334.0 71.5,333.9 73.0,333.8 74.5,333.7 76.0,333.6 77.5,333.5 78.9,333.3 80.4,333.0 81.9,332.5 83.4,332.3 84.9,332.1 86.4,332.0 87.8,332.0 89.3,332.0 90.8,331.9 92.3,331.8 93.8,331.7 95.3,331.4 96.7,331.1 98.2,330.7 99.7,330.7 101.2,330.6 111.6,330.6 113.1,330.6 114.5,330.5 116.0,330.3 117.5,330.2 119.0,330.0 120.5,329.8 122.0,329.5 123.4,329.3 124.9,328.8 126.4,328.7 127.9,328.5 129.4,325.1 130.9,320.8 132.4,317.4 133.8,313.8 135.3,311.1 136.8,308.5 138.3,303.9 144.2,303.9 145.7,303.0 147.2,302.8 148.7,302.0 165.0,302.0 166.5,298.2 168.0,298.2 169.4,298.0 170.9,297.8 172.4,297.7 173.9,297.3 175.4,297.1 176.9,296.6 178.3,296.1 179.8,296.1 187.2,296.1 188.7,295.9 190.2,295.8 191.7,295.5 193.2,295.4 194.7,295.3 196.1,295.1 197.6,294.7 199.1,294.6 211.0,294.6 212.5,294.5 213.9,294.4 215.4,294.2 216.9,294.0 218.4,294.0 219.9,293.9 221.4,293.8 222.9,293.7 224.3,293.7 225.8,293.7 227.3,293.6 228.8,293.5 285.2,293.5 286.6,293.5 288.1,293.5 289.6,293.5 291.1,293.5 292.6,293.5 297.0,293.5 298.5,293.5 300.0,293.5 301.5,293.5 303.0,293.5 304.4,293.5 305.9,293.5 323.7,293.5 325.2,293.5 326.7,293.5 328.2,293.5 363.8,293.5 365.3,293.5 366.8,293.5 368.2,293.5 369.7,293.5 371.2,293.5 403.8,293.5 405.3,293.5 406.8,293.5 408.3,293.5 473.6,293.5 475.1,290.2 476.5,288.7 478.0,284.6 479.5,278.6 504.7,278.6 506.2,277.8 509.2,277.8 510.7,277.6 512.2,277.2 513.6,277.0 546.3,277.0 547.8,272.8 564.1,272.8 565.6,267.5 567.0,260.6 568.5,248.4 579.7,248.4" stroke-opacity="0.40"/><polyline points="37.4,341.0 46.3,341.0 47.8,340.7 49.3,340.6 50.8,340.3 52.2,340.0 53.7,340.0 55.2,339.7 56.7,337.3 58.2,335.3 61.1,335.3 62.6,333.7 68.6,333.7 70.0,333.4 71.5,333.2 73.0,332.6 74.5,332.2 76.0,330.4 77.5,328.8 78.9,328.4 80.4,328.2 81.9,327.6 83.4,327.0 84.9,326.6 86.4,326.2 87.8,326.2 89.3,325.4 90.8,323.4 92.3,321.9 95.3,321.9 96.7,321.6 98.2,321.0 99.7,320.3 101.2,319.7 102.7,319.4 104.2,319.4 105.6,319.2 107.1,316.7 108.6,312.1 110.1,309.7 111.6,309.7 113.1,308.7 114.5,308.4 116.0,307.1 117.5,304.6 119.0,303.3 120.5,301.8 122.0,299.3 126.4,299.3 127.9,299.3 129.4,299.3 130.9,299.3 132.4,299.3 133.8,299.3 135.3,299.2 136.8,299.2 138.3,299.2 139.8,299.2 141.3,299.2 142.7,299.2 144.2,299.1 145.7,299.1 147.2,299.1 148.7,299.1 150.2,299.1 151.6,299.1 153.1,299.1 157.6,299.1 159.1,299.1 160.5,299.0 162.0,299.0 163.5,298.9 165.0,298.9 170.9,298.9 172.4,298.9 173.9,298.8 175.4,298.8 176.9,298.8 178.3,298.8 190.2,298.8 191.7,298.6 193.2,298.6 194.7,298.5 254.0,298.5 255.5,298.3 257.0,298.2 258.5,298.1 261.4,298.1 262.9,298.0 264.4,297.7 265.9,297.7 267.4,297.7 268.8,297.6 270.3,297.3 313.3,297.3 314.8,297.3 316.3,297.3 317.8,297.3 319.3,297.3 320.8,297.3 322.3,297.3 323.7,297.3 325.2,297.3 335.6,297.3 337.1,297.3 338.6,297.3 340.1,297.3 341.5,297.3 343.0,297.3 344.5,297.3 387.5,297.3 389.0,297.3 390.5,297.3 392.0,297.3 393.5,297.2 394.9,297.2 396.4,297.2 400.9,297.2 402.4,296.9 403.8,296.7 405.3,296.6 484.0,296.6 485.4,292.3 486.9,290.5 503.3,290.5 504.7,288.6 506.2,283.9 507.7,283.9 509.2,282.8 510.7,281.7 512.2,278.7 513.6,276.4 515.1,276.0 519.6,276.0 521.1,271.8 530.0,271.8 531.4,270.0 532.9,268.1 534.4,265.8 535.9,264.0 558.1,264.0 559.6,252.3 561.1,229.2 562.6,215.3 579.7,215.3" stroke-opacity="0.32"/><polyline points="37.4,341.0 43.3,341.0 44.8,340.5 46.3,339.5 47.8,335.8 49.3,333.6 50.8,330.0 52.2,329.0 53.7,326.9 55.2,326.9 56.7,326.9 58.2,326.9 59.7,326.2 61.1,324.0 62.6,323.3 65.6,323.3 67.1,322.5 68.6,320.7 77.5,320.7 78.9,319.9 80.4,319.3 81.9,317.7 83.4,316.7 84.9,316.6 86.4,316.4 87.8,316.1 90.8,316.1 92.3,315.4 93.8,315.0 95.3,314.7 96.7,314.1 98.2,313.8 99.7,313.7 101.2,313.4 102.7,313.2 104.2,313.1 105.6,313.0 107.1,312.9 108.6,312.9 110.1,312.1 111.6,310.3 113.1,309.8 114.5,309.8 116.0,309.3 117.5,308.3 119.0,307.6 120.5,307.3 123.4,307.3 124.9,306.8 126.4,306.2 129.4,306.2 130.9,305.8 132.4,305.7 147.2,305.7 148.7,305.4 150.2,305.2 151.6,305.0 153.1,305.0 154.6,305.0 156.1,305.0 157.6,305.0 159.1,305.0 160.5,304.8 162.0,304.5 163.5,304.3 166.5,304.3 168.0,304.1 169.4,303.8 170.9,303.6 172.4,303.5 173.9,303.4 175.4,303.4 176.9,303.4 178.3,303.4 190.2,303.4 191.7,302.9 193.2,302.6 194.7,301.8 196.1,301.6 197.6,301.6 199.1,301.5 200.6,301.4 202.1,301.2 203.6,301.0 206.5,301.0 208.0,301.0 209.5,300.9 211.0,300.7 212.5,300.5 213.9,300.3 221.4,300.3 222.9,300.3 224.3,300.1 225.8,300.0 245.1,300.0 246.6,300.0 248.1,299.9 249.6,299.8 251.0,299.8 252.5,299.6 254.0,299.5 255.5,299.5 258.5,299.5 259.9,299.4 261.4,299.3 262.9,299.3 286.6,299.3 288.1,298.4 289.6,298.0 291.1,297.3 325.2,297.3 326.7,297.1 328.2,296.9 393.5,296.9 394.9,296.9 396.4,296.9 397.9,296.9 399.4,296.9 400.9,296.9 402.4,296.9 403.8,296.9 405.3,296.9 406.8,296.9 476.5,296.9 478.0,294.1 479.5,285.6 495.8,285.6 497.3,279.1 504.7,279.1 506.2,275.3 507.7,274.2 509.2,268.8 550.7,268.8 552.2,265.8 561.1,265.8 562.6,262.0 564.1,259.2 565.6,250.6 574.5,250.6 575.9,249.7 577.4,248.2 578.9,245.2 579.7,245.2" stroke-opacity="0.56"/><polyline points="37.4,341.0 41.9,341.0 43.3,340.7 44.8,340.5 46.3,340.5 47.8,340.2 49.3,339.8 50.8,339.5 52.2,339.4 61.1,339.4 62.6,339.4 64.1,339.3 65.6,339.2 67.1,339.2 74.5,339.2 76.0,339.0 77.5,338.8 78.9,338.6 80.4,338.6 81.9,338.6 83.4,338.5 84.9,338.5 86.4,337.3 87.8,336.2 89.3,332.2 101.2,332.2 102.7,331.2 104.2,331.0 105.6,327.5 107.1,323.6 108.6,322.6 110.1,321.6 111.6,321.3 113.1,321.1 114.5,320.8 116.0,320.7 117.5,320.5 119.0,320.4 120.5,320.4 122.0,320.3 123.4,318.0 124.9,316.5 126.4,314.7 127.9,309.7 129.4,309.3 130.9,308.2 132.4,307.6 133.8,307.0 135.3,306.9 136.8,306.4 138.3,306.2 139.8,304.9 157.6,304.9 159.1,304.8 160.5,304.5 162.0,304.4 163.5,303.6 165.0,303.2 166.5,302.5 168.0,301.8 169.4,301.0 170.9,300.0 172.4,299.0 173.9,297.8 188.7,297.8 190.2,297.8 191.7,297.7 193.2,297.7 194.7,297.7 200.6,297.7 202.1,297.4 205.0,297.4 206.5,297.4 208.0,297.4 209.5,297.4 211.0,297.3 212.5,297.3 213.9,297.3 215.4,297.3 216.9,297.3 218.4,297.3 219.9,297.3 221.4,297.3 222.9,297.3 224.3,297.3 225.8,297.3 227.3,297.3 228.8,297.3 236.2,297.3 237.7,297.2 239.2,297.2 240.7,297.2 242.1,297.2 246.6,297.2 248.1,297.1 249.6,297.1 251.0,297.1 252.5,297.1 254.0,297.1 255.5,297.1 257.0,297.0 258.5,297.0 276.3,297.0 277.7,297.0 279.2,297.0 280.7,296.9 282.2,296.9 347.5,296.9 349.0,296.6 350.4,296.5 375.7,296.5 377.1,296.4 378.6,296.4 380.1,296.4 408.3,296.4 409.8,296.4 411.3,296.3 412.8,296.3 414.2,296.2 415.7,296.2 417.2,296.1 432.0,296.1 433.5,296.0 435.0,296.0 436.5,295.9 438.0,295.8 439.5,295.8 484.0,295.8 485.4,289.4 524.0,289.4 525.5,280.9 527.0,276.0 528.5,266.9 530.0,260.9 543.3,260.9 544.8,259.4 546.3,258.5 547.8,258.1 549.2,253.0 550.7,248.0 552.2,248.0 553.7,247.5 555.2,247.2 556.7,247.0 571.5,247.0 573.0,238.6 574.5,235.6 575.9,232.5 577.4,229.5 579.7,229.5" stroke-opacity="0.48"/><polyline points="37.4,341.0 43.3,341.0 44.8,340.9 46.3,340.7 47.8,340.5 49.3,340.3 53.7,340.3 55.2,337.7 56.7,333.0 58.2,327.3 59.7,324.4 61.1,319.1 62.6,317.3 64.1,316.8 65.6,315.7 71.5,315.7 73.0,311.0 74.5,306.4 87.8,306.4 89.3,305.9 90.8,305.5 92.3,305.4 93.8,305.3 95.3,305.0 96.7,304.8 98.2,304.6 99.7,304.2 101.2,304.0 102.7,303.8 104.2,303.7 105.6,303.7 107.1,303.7 108.6,303.7 110.1,303.7 111.6,303.7 113.1,303.7 122.0,303.7 123.4,303.7 124.9,303.6 126.4,303.5 127.9,303.4 129.4,303.2 130.9,303.1 132.4,303.0 133.8,302.8 136.8,302.8 138.3,302.8 139.8,302.8 141.3,302.8 142.7,302.8 144.2,302.8 145.7,302.8 147.2,302.8 148.7,302.7 150.2,302.7 151.6,302.7 153.1,302.7 154.6,302.7 156.1,302.7 157.6,302.7 159.1,302.7 160.5,302.7 162.0,302.7 163.5,302.7 165.0,302.7 166.5,302.7 168.0,302.7 169.4,302.7 170.9,302.7 172.4,302.7 208.0,302.7 209.5,302.4 211.0,302.2 212.5,302.1 213.9,302.0 215.4,302.0 216.9,301.9 218.4,301.8 219.9,301.8 221.4,301.7 222.9,301.7 224.3,301.6 225.8,301.5 242.1,301.5 243.6,301.0 245.1,300.7 246.6,299.3 248.1,298.7 273.3,298.7 274.8,298.5 276.3,298.1 277.7,297.5 279.2,297.4 308.9,297.4 310.4,297.2 311.9,296.7 313.3,296.3 314.8,296.0 389.0,296.0 390.5,296.0 392.0,296.0 393.5,295.9 394.9,295.9 429.1,295.9 430.6,295.2 432.0,294.6 433.5,292.9 486.9,292.9 488.4,289.9 501.8,289.9 503.3,289.7 504.7,289.5 510.7,289.5 512.2,289.0 513.6,287.8 515.1,286.3 525.5,286.3 527.0,286.3 528.5,286.3 530.0,286.2 531.4,286.1 532.9,286.0 537.4,286.0 538.9,285.0 540.3,283.8 541.8,283.3 550.7,283.3 552.2,282.8 553.7,282.1 555.2,282.1 556.7,281.9 558.1,281.2 559.6,280.9 564.1,280.9 565.6,280.9 570.0,280.9 571.5,280.9 573.0,280.8 574.5,280.7 579.7,280.7" stroke-opacity="0.48"/><polyline points="37.4,341.0 44.8,341.0 46.3,339.1 47.8,337.7 49.3,335.8 50.8,334.8 52.2,333.4 53.7,332.3 55.2,331.2 56.7,330.7 58.2,330.5 59.7,330.0 61.1,327.0 62.6,326.2 64.1,326.2 65.6,325.9 67.1,325.6 68.6,325.3 70.0,325.1 83.4,325.1 84.9,324.4 86.4,323.5 87.8,322.7 92.3,322.7 93.8,322.2 95.3,321.7 96.7,321.0 98.2,320.6 99.7,320.6 101.2,319.4 102.7,319.1 104.2,318.6 108.6,318.6 110.1,318.2 111.6,317.6 113.1,317.4 114.5,317.0 116.0,316.0 119.0,316.0 120.5,315.9 122.0,315.6 123.4,314.9 124.9,314.1 126.4,313.7 127.9,313.5 139.8,313.5 141.3,313.2 142.7,311.3 144.2,310.0 145.7,308.0 147.2,307.2 148.7,305.8 150.2,305.7 151.6,305.6 153.1,305.5 169.4,305.5 170.9,305.1 172.4,304.5 173.9,303.3 175.4,302.7 190.2,302.7 191.7,302.6 193.2,302.6 194.7,302.6 196.1,302.5 197.6,302.3 199.1,302.1 200.6,302.0 202.1,301.8 221.4,301.8 222.9,301.8 224.3,301.8 225.8,301.6 227.3,301.5 237.7,301.5 239.2,301.5 240.7,301.4 242.1,301.3 258.5,301.3 259.9,301.3 261.4,301.2 262.9,301.2 264.4,301.2 265.9,301.1 267.4,301.1 268.8,301.0 301.5,301.0 303.0,301.0 304.4,301.0 305.9,301.0 307.4,301.0 308.9,301.0 310.4,301.0 311.9,301.0 313.3,301.0 314.8,301.0 316.3,301.0 368.2,301.0 369.7,301.0 371.2,301.0 372.7,301.0 374.2,301.0 375.7,301.0 377.1,301.0 378.6,301.0 411.3,301.0 412.8,301.0 414.2,301.0 415.7,301.0 417.2,301.0 445.4,301.0 446.9,300.9 455.8,300.9 457.3,300.1 458.7,299.6 460.2,299.2 467.6,299.2 469.1,299.2 470.6,299.1 472.1,299.0 476.5,299.0 478.0,299.0 479.5,298.6 498.8,298.6 500.3,298.4 504.7,298.4 506.2,298.2 507.7,297.9 509.2,297.8 510.7,297.8 512.2,297.7 513.6,297.7 530.0,297.7 531.4,297.6 532.9,297.6 534.4,297.6 535.9,297.2 555.2,297.2 556.7,296.8 558.1,296.6 559.6,296.0 561.1,295.6 562.6,295.2 564.1,295.1 575.9,295.1 577.4,294.7 578.9,294.3 580.4,294.2 579.7,294.2" stroke-opacity="0.56"/><polyline points="37.4,341.0 47.8,341.0 49.3,340.3 50.8,339.4 52.2,339.3 53.7,339.3 56.7,339.3 58.2,338.4 59.7,337.2 61.1,337.1 62.6,336.7 64.1,336.5 65.6,335.8 71.5,335.8 73.0,335.5 74.5,335.2 76.0,335.1 77.5,334.5 78.9,334.2 80.4,333.8 81.9,333.1 83.4,333.0 84.9,332.9 86.4,332.8 87.8,332.5 89.3,332.3 90.8,332.3 92.3,332.2 93.8,331.2 95.3,330.4 96.7,329.7 98.2,328.9 99.7,327.4 101.2,326.5 102.7,326.4 105.6,326.4 107.1,326.3 108.6,326.3 110.1,326.1 111.6,326.0 113.1,325.9 114.5,325.8 116.0,325.8 119.0,325.8 120.5,325.7 122.0,325.7 123.4,325.6 124.9,325.3 126.4,324.9 127.9,324.5 129.4,321.9 130.9,319.9 132.4,317.8 133.8,315.6 135.3,315.3 136.8,314.3 138.3,313.2 139.8,312.0 141.3,311.0 163.5,311.0 165.0,310.2 166.5,309.7 168.0,308.4 169.4,308.2 170.9,307.2 172.4,306.9 173.9,306.1 175.4,305.7 176.9,305.2 178.3,304.5 179.8,304.0 181.3,303.8 203.6,303.8 205.0,303.7 206.5,303.6 213.9,303.6 215.4,303.4 216.9,303.0 218.4,302.6 219.9,302.4 224.3,302.4 225.8,302.2 227.3,302.1 228.8,302.0 230.3,302.0 231.8,301.9 233.2,301.9 234.7,301.8 236.2,301.8 242.1,301.8 243.6,301.8 245.1,301.7 246.6,301.7 248.1,301.7 254.0,301.7 255.5,301.5 257.0,301.4 258.5,301.3 273.3,301.3 274.8,301.3 276.3,301.3 289.6,301.3 291.1,301.3 292.6,301.3 294.1,301.3 295.5,301.3 340.1,301.3 341.5,301.3 343.0,301.3 344.5,301.3 346.0,301.3 381.6,301.3 383.1,300.4 384.6,299.6 386.0,298.9 387.5,298.5 389.0,297.5 390.5,296.8 392.0,296.0 402.4,296.0 403.8,295.8 405.3,295.6 406.8,295.5 426.1,295.5 427.6,295.4 429.1,295.4 430.6,295.3 432.0,295.3 448.4,295.3 449.8,294.4 451.3,294.4 452.8,281.1 500.3,281.1 501.8,278.8 503.3,274.7 504.7,269.5 506.2,267.4 516.6,267.4 518.1,258.7 519.6,254.6 521.1,249.2 532.9,249.2 534.4,244.5 535.9,241.0 537.4,238.0 538.9,236.0 544.8,236.0 546.3,226.0 547.8,226.0 549.2,218.0 555.2,218.0 556.7,216.4 558.1,212.1 579.7,212.1" stroke-opacity="0.56"/><polyline points="37.4,341.0 49.3,341.0 50.8,340.9 52.2,340.7 53.7,340.6 55.2,340.5 56.7,340.4 58.2,340.3 59.7,340.3 61.1,340.3 62.6,340.2 64.1,340.2 65.6,340.0 67.1,339.5 68.6,339.5 70.0,339.5 71.5,339.5 73.0,339.5 74.5,339.4 76.0,339.2 77.5,339.0 78.9,339.0 80.4,338.8 81.9,338.7 83.4,338.7 84.9,337.4 86.4,335.8 87.8,334.9 89.3,334.7 90.8,334.5 92.3,334.1 93.8,334.0 95.3,333.9 96.7,333.2 98.2,333.0 99.7,332.3 101.2,331.7 102.7,331.3 104.2,330.0 105.6,329.4 107.1,327.1 108.6,324.2 110.1,321.9 111.6,321.8 113.1,321.7 114.5,321.6 116.0,320.2 117.5,319.3 119.0,318.2 120.5,316.1 122.0,314.4 123.4,313.1 124.9,310.6 126.4,310.4 127.9,310.2 129.4,310.1 130.9,309.6 132.4,309.4 133.8,309.1 135.3,309.1 144.2,309.1 145.7,309.1 147.2,309.1 148.7,309.0 150.2,309.0 151.6,309.0 157.6,309.0 159.1,308.7 160.5,307.9 162.0,306.7 163.5,306.7 165.0,305.9 166.5,304.5 194.7,304.5 196.1,304.3 197.6,304.2 199.1,304.0 200.6,304.0 202.1,303.5 203.6,302.8 205.0,302.6 206.5,302.5 208.0,302.5 209.5,302.5 213.9,302.5 215.4,302.5 228.8,302.5 230.3,302.4 231.8,302.4 233.2,302.3 234.7,302.3 236.2,302.3 240.7,302.3 242.1,302.2 243.6,302.1 245.1,302.1 246.6,302.0 248.1,301.9 249.6,301.9 251.0,301.8 288.1,301.8 289.6,301.8 291.1,301.8 292.6,301.7 294.1,301.7 295.5,301.7 307.4,301.7 308.9,301.5 310.4,301.4 311.9,301.2 313.3,301.1 314.8,301.0 392.0,301.0 393.5,300.8 394.9,300.7 396.4,300.6 420.2,300.6 421.7,300.3 423.1,300.1 424.6,299.7 426.1,299.0 427.6,298.8 488.4,298.8 489.9,296.2 491.4,295.5 492.9,292.7 501.8,292.7 503.3,292.3 504.7,291.3 506.2,290.5 507.7,289.6 524.0,289.6 525.5,288.0 527.0,287.3 528.5,286.7 537.4,286.7 538.9,283.9 540.3,280.8 570.0,280.8 571.5,267.2 573.0,230.9 574.5,224.1 575.9,205.8 577.4,200.1 578.9,196.1 579.7,196.1" stroke-opacity="0.64"/><polyline points="37.4,341.0 43.3,341.0 44.8,339.8 46.3,338.1 47.8,334.8 49.3,331.4 50.8,330.5 52.2,329.9 53.7,329.1 55.2,328.4 56.7,328.0 58.2,327.1 59.7,326.5 64.1,326.5 65.6,326.3 67.1,325.8 68.6,325.2 70.0,325.0 71.5,321.8 73.0,317.9 74.5,315.6 76.0,314.9 77.5,312.7 78.9,310.4 80.4,309.0 83.4,309.0 84.9,308.8 86.4,308.6 87.8,308.2 89.3,308.1 90.8,308.0 92.3,307.9 93.8,307.9 95.3,307.9 96.7,307.8 98.2,307.8 99.7,307.8 123.4,307.8 124.9,307.7 126.4,307.6 127.9,307.2 129.4,307.1 130.9,307.0 132.4,306.7 133.8,306.5 135.3,306.4 136.8,306.3 138.3,306.3 142.7,306.3 144.2,306.3 145.7,306.1 147.2,306.1 148.7,305.9 150.2,305.8 151.6,305.7 153.1,305.6 162.0,305.6 163.5,305.6 175.4,305.6 176.9,305.5 178.3,305.3 206.5,305.3 208.0,305.1 209.5,304.6 211.0,304.2 212.5,303.8 213.9,303.2 215.4,303.2 216.9,303.2 218.4,303.1 236.2,303.1 237.7,303.1 239.2,303.1 240.7,303.1 242.1,303.1 243.6,303.1 245.1,303.1 249.6,303.1 251.0,303.0 259.9,303.0 261.4,302.8 262.9,302.6 264.4,302.5 265.9,302.2 267.4,302.1 268.8,301.9 270.3,301.8 283.7,301.8 285.2,301.8 286.6,301.8 288.1,301.8 331.2,301.8 332.6,301.7 334.1,301.6 335.6,301.5 337.1,301.4 356.4,301.4 357.9,301.2 359.3,301.1 360.8,300.8 362.3,300.7 400.9,300.7 402.4,300.7 403.8,300.6 405.3,300.5 406.8,300.5 408.3,300.4 460.2,300.4 461.7,300.0 463.2,299.0 500.3,299.0 501.8,297.2 503.3,296.7 515.1,296.7 516.6,295.8 518.1,295.1 525.5,295.1 527.0,293.9 528.5,292.6 534.4,292.6 535.9,284.9 537.4,283.4 544.8,283.4 546.3,283.1 547.8,282.2 549.2,281.8 550.7,280.7 555.2,280.7 556.7,280.1 558.1,278.5 559.6,277.9 562.6,277.9 564.1,262.8 571.5,262.8 573.0,254.5 574.5,239.7 575.9,224.6 579.7,224.6" stroke-opacity="0.56"/><polyline points="37.4,341.0 40.4,341.0 41.9,340.4 43.3,340.1 44.8,339.8 46.3,339.6 47.8,339.5 49.3,339.4 50.8,339.3 52.2,339.1 53.7,338.9 55.2,338.7 56.7,338.4 58.2,338.2 59.7,338.0 61.1,338.0 62.6,337.8 70.0,337.8 71.5,336.9 74.5,336.9 76.0,336.8 77.5,336.7 78.9,336.7 80.4,336.4 81.9,336.2 83.4,334.2 84.9,333.9 86.4,333.0 87.8,332.7 89.3,332.3 90.8,332.0 92.3,332.0 93.8,331.8 95.3,331.7 96.7,331.5 98.2,331.3 99.7,330.8 107.1,330.8 108.6,330.4 110.1,330.0 111.6,329.2 113.1,328.4 114.5,327.9 116.0,327.2 117.5,325.7 119.0,325.3 120.5,324.9 129.4,324.9 130.9,321.8 132.4,318.8 135.3,318.8 136.8,318.3 138.3,317.8 150.2,317.8 151.6,317.0 153.1,316.1 154.6,313.6 166.5,313.6 168.0,312.5 169.4,311.4 172.4,311.4 173.9,311.3 175.4,311.2 194.7,311.2 196.1,311.1 197.6,310.6 199.1,310.0 200.6,309.8 202.1,309.4 203.6,309.1 205.0,308.9 206.5,308.7 212.5,308.7 213.9,308.5 215.4,308.1 216.9,307.9 236.2,307.9 237.7,306.3 239.2,306.0 240.7,305.5 295.5,305.5 297.0,305.3 317.8,305.3 319.3,304.5 360.8,304.5 362.3,304.5 363.8,304.5 365.3,304.5 366.8,304.5 368.2,304.5 369.7,304.5 426.1,304.5 427.6,302.8 429.1,299.1 446.9,299.1 448.4,298.8 449.8,298.5 484.0,298.5 485.4,298.1 486.9,297.9 489.9,297.9 491.4,296.8 492.9,296.1 494.3,295.0 495.8,294.5 503.3,294.5 504.7,293.9 506.2,293.0 507.7,292.0 509.2,289.9 510.7,285.1 522.5,285.1 524.0,285.0 525.5,284.7 527.0,284.4 528.5,283.2 530.0,283.2 531.4,282.8 532.9,282.1 534.4,280.1 535.9,277.0 553.7,277.0 555.2,275.7 556.7,275.1 558.1,274.1 567.0,274.1 568.5,273.4 570.0,271.7 571.5,271.0 573.0,269.6 574.5,269.5 578.9,269.5 580.4,267.7 579.7,267.7" stroke-opacity="0.32"/><polyline points="37.4,341.0 47.8,341.0 49.3,341.0 50.8,340.9 52.2,340.7 53.7,340.6 55.2,340.4 56.7,340.4 58.2,340.3 59.7,340.2 61.1,339.9 62.6,339.8 64.1,339.6 65.6,339.3 67.1,338.9 68.6,338.8 71.5,338.8 73.0,338.6 74.5,338.4 76.0,338.1 77.5,337.9 78.9,337.6 80.4,337.5 81.9,337.5 83.4,337.3 84.9,337.2 86.4,337.2 87.8,337.1 104.2,337.1 105.6,334.9 107.1,332.4 108.6,325.6 110.1,322.7 111.6,320.1 113.1,319.0 114.5,317.6 116.0,317.0 117.5,315.8 119.0,314.3 130.9,314.3 132.4,314.0 133.8,313.9 135.3,313.8 136.8,313.2 138.3,313.0 139.8,312.9 141.3,312.8 142.7,312.8 144.2,312.8 145.7,312.7 147.2,312.6 148.7,312.5 150.2,312.4 151.6,312.3 153.1,312.3 156.1,312.3 157.6,312.0 159.1,311.9 163.5,311.9 165.0,311.6 166.5,311.4 168.0,310.9 169.4,310.7 172.4,310.7 173.9,310.6 175.4,310.5 176.9,310.4 206.5,310.4 208.0,310.2 209.5,310.0 215.4,310.0 216.9,309.9 218.4,309.7 219.9,309.5 221.4,309.5 222.9,309.5 224.3,309.5 225.8,309.4 249.6,309.4 251.0,309.0 252.5,308.6 254.0,308.5 255.5,308.1 257.0,306.8 258.5,305.6 274.8,305.6 276.3,305.6 277.7,305.6 279.2,305.6 303.0,305.6 304.4,305.6 305.9,305.6 307.4,305.6 308.9,305.6 337.1,305.6 338.6,305.6 340.1,305.6 341.5,305.6 343.0,305.6 344.5,305.6 369.7,305.6 371.2,305.6 372.7,305.6 374.2,305.6 375.7,305.6 377.1,305.6 378.6,305.6 442.4,305.6 443.9,305.6 445.4,305.5 446.9,305.5 448.4,305.5 449.8,305.4 451.3,305.3 452.8,305.3 486.9,305.3 488.4,300.4 489.9,291.1 516.6,291.1 518.1,276.8 519.6,271.5 521.1,267.2 522.5,267.2 524.0,262.3 525.5,257.9 565.6,257.9 567.0,257.0 568.5,256.2 570.0,243.0 571.5,235.5 573.0,224.4 579.7,224.4" stroke-opacity="0.40"/><polyline points="37.4,341.0 50.8,341.0 52.2,340.0 53.7,339.2 55.2,336.1 58.2,336.1 59.7,334.4 61.1,333.7 62.6,333.1 64.1,332.5 65.6,331.9 67.1,330.7 68.6,329.0 70.0,328.0 71.5,327.2 73.0,326.6 74.5,326.0 76.0,325.5 77.5,324.2 78.9,322.7 80.4,321.6 81.9,319.7 90.8,319.7 92.3,318.6 93.8,316.8 99.7,316.8 101.2,316.6 102.7,316.5 104.2,316.4 105.6,316.0 107.1,315.1 108.6,314.7 110.1,314.3 113.1,314.3 114.5,313.8 116.0,313.3 117.5,313.0 119.0,312.6 120.5,312.3 122.0,311.9 123.4,311.9 126.4,311.9 127.9,311.9 129.4,311.9 130.9,311.8 132.4,311.8 133.8,311.7 135.3,311.7 136.8,311.7 138.3,311.7 139.8,311.7 141.3,311.7 142.7,311.7 144.2,311.6 145.7,311.6 147.2,311.6 148.7,311.5 150.2,311.5 151.6,311.4 153.1,311.4 154.6,311.4 156.1,311.3 157.6,311.3 159.1,311.3 160.5,311.3 162.0,311.3 165.0,311.3 166.5,311.3 168.0,311.3 169.4,311.3 170.9,311.3 172.4,311.2 173.9,311.0 175.4,310.9 179.8,310.9 181.3,310.8 182.8,310.6 184.3,310.5 185.8,310.4 187.2,310.3 190.2,310.3 191.7,310.3 193.2,310.3 194.7,310.2 196.1,310.2 197.6,309.9 199.1,309.8 200.6,309.8 202.1,309.8 203.6,309.6 205.0,309.5 206.5,309.4 208.0,309.3 221.4,309.3 222.9,308.6 224.3,307.9 225.8,307.1 227.3,306.5 228.8,306.1 237.7,306.1 239.2,306.1 240.7,306.1 251.0,306.1 252.5,306.1 254.0,306.0 255.5,305.8 257.0,305.6 258.5,305.4 259.9,305.1 261.4,304.9 262.9,304.8 264.4,304.8 265.9,304.7 286.6,304.7 288.1,304.7 289.6,304.7 291.1,304.7 292.6,304.7 329.7,304.7 331.2,304.6 332.6,304.6 397.9,304.6 399.4,304.6 406.8,304.6 408.3,304.6 409.8,304.6 411.3,304.6 412.8,304.6 414.2,304.6 415.7,304.6 426.1,304.6 427.6,304.6 429.1,304.6 430.6,304.6 432.0,304.6 433.5,304.6 435.0,304.6 461.7,304.6 463.2,299.8 472.1,299.8 473.6,298.5 475.1,297.2 476.5,295.8 489.9,295.8 491.4,295.4 492.9,294.6 494.3,291.3 495.8,284.8 497.3,281.7 498.8,278.0 500.3,267.0 501.8,260.8 503.3,253.0 504.7,251.4 506.2,251.4 507.7,246.9 509.2,244.8 510.7,242.2 538.9,242.2 540.3,240.2 541.8,240.2 543.3,234.2 544.8,232.0 546.3,230.1 561.1,230.1 562.6,225.7 564.1,220.9 565.6,219.7 567.0,219.7 568.5,219.5 570.0,219.3 571.5,219.2 579.7,219.2" stroke-opacity="0.64"/><polyline points="37.4,341.0 38.9,341.0 40.4,340.9 41.9,340.7 43.3,340.6 44.8,339.6 46.3,337.9 47.8,335.4 49.3,335.1 50.8,334.7 52.2,334.6 53.7,334.3 55.2,333.9 56.7,333.9 58.2,333.6 59.7,333.3 61.1,332.5 62.6,332.4 64.1,331.5 65.6,330.8 67.1,330.2 68.6,326.9 70.0,326.6 71.5,326.5 73.0,326.4 74.5,326.1 76.0,325.7 81.9,325.7 83.4,324.2 84.9,322.0 86.4,322.0 87.8,321.9 89.3,321.9 90.8,321.9 92.3,321.5 93.8,321.1 95.3,320.7 98.2,320.7 99.7,320.6 101.2,320.4 102.7,320.1 104.2,319.8 105.6,319.7 107.1,319.6 108.6,319.4 110.1,319.3 111.6,319.1 113.1,318.5 114.5,318.1 116.0,317.8 117.5,317.4 119.0,317.1 120.5,317.0 122.0,316.8 132.4,316.8 133.8,316.6 135.3,315.9 136.8,315.5 138.3,315.2 139.8,314.9 141.3,314.4 144.2,314.4 145.7,314.3 147.2,314.1 148.7,314.0 150.2,313.9 151.6,313.7 153.1,313.6 154.6,313.5 168.0,313.5 169.4,312.8 170.9,312.7 172.4,312.5 173.9,312.2 175.4,312.0 176.9,311.6 178.3,311.2 179.8,311.1 181.3,311.0 182.8,310.9 184.3,310.8 191.7,310.8 193.2,310.8 194.7,310.8 196.1,310.8 202.1,310.8 203.6,310.7 205.0,310.4 206.5,310.1 208.0,309.8 209.5,309.5 211.0,309.4 212.5,309.2 213.9,309.2 233.2,309.2 234.7,308.7 236.2,308.4 237.7,308.1 243.6,308.1 245.1,307.8 246.6,307.5 248.1,307.2 249.6,306.8 251.0,306.5 252.5,306.3 270.3,306.3 271.8,306.2 273.3,305.7 310.4,305.7 311.9,305.5 381.6,305.5 383.1,305.4 384.6,305.4 386.0,305.3 387.5,305.1 389.0,304.9 390.5,304.8 392.0,304.7 412.8,304.7 414.2,304.4 415.7,304.0 469.1,304.0 470.6,303.4 472.1,302.5 481.0,302.5 482.5,302.5 484.0,302.5 485.4,302.4 486.9,302.3 506.2,302.3 507.7,298.2 509.2,293.8 510.7,284.8 521.1,284.8 522.5,284.1 524.0,283.6 525.5,283.2 538.9,283.2 540.3,283.0 541.8,282.7 543.3,282.7 544.8,281.0 546.3,275.4 547.8,275.2 549.2,275.1 550.7,275.0 562.6,275.0 564.1,272.2 565.6,270.1 567.0,264.8 568.5,262.7 570.0,262.6 571.5,261.5 573.0,261.0 574.5,260.7 575.9,260.7 577.4,258.4 579.7,258.4" stroke-opacity="0.32"/><polyline points="37.4,341.0 46.3,341.0 47.8,340.6 49.3,339.5 50.8,337.6 52.2,335.9 53.7,335.4 58.2,335.4 59.7,335.2 61.1,333.6 62.6,333.4 64.1,332.6 65.6,331.6 67.1,329.6 68.6,327.6 70.0,326.1 71.5,324.8 73.0,323.0 81.9,323.0 83.4,322.8 84.9,322.6 86.4,322.2 87.8,321.8 89.3,321.5 90.8,321.3 92.3,321.3 93.8,321.1 95.3,321.0 102.7,321.0 104.2,320.7 105.6,320.5 107.1,320.1 108.6,319.6 110.1,319.6 111.6,319.5 113.1,319.4 114.5,319.3 116.0,319.2 117.5,319.1 119.0,318.9 120.5,318.9 122.0,318.5 123.4,317.7 124.9,317.7 126.4,317.7 127.9,317.4 129.4,317.1 130.9,316.7 132.4,316.2 133.8,315.8 135.3,315.5 136.8,315.2 138.3,315.0 139.8,314.9 141.3,314.8 142.7,314.6 144.2,314.5 145.7,314.3 147.2,314.3 148.7,314.2 150.2,314.0 178.3,314.0 179.8,313.4 181.3,313.2 197.6,313.2 199.1,313.0 200.6,312.9 202.1,312.8 203.6,312.8 205.0,312.7 206.5,312.6 209.5,312.6 211.0,312.4 212.5,312.4 213.9,311.6 215.4,311.2 216.9,310.5 218.4,310.5 219.9,310.4 221.4,310.2 222.9,310.1 227.3,310.1 228.8,310.1 230.3,310.1 231.8,310.0 233.2,310.0 255.5,310.0 257.0,310.0 258.5,310.0 259.9,310.0 261.4,309.9 262.9,309.9 264.4,309.9 274.8,309.9 276.3,309.9 277.7,309.9 279.2,309.9 280.7,309.9 282.2,309.9 283.7,309.9 285.2,309.9 286.6,309.9 288.1,309.9 303.0,309.9 304.4,309.9 305.9,309.9 307.4,309.9 308.9,309.9 310.4,309.9 329.7,309.9 331.2,309.9 332.6,309.7 381.6,309.7 383.1,309.7 384.6,309.7 386.0,309.7 387.5,309.7 389.0,309.6 390.5,309.6 402.4,309.6 403.8,309.5 405.3,309.5 406.8,309.5 408.3,309.5 409.8,309.4 412.8,309.4 414.2,309.4 415.7,309.4 417.2,309.4 418.7,309.4 420.2,309.4 421.7,309.4 423.1,309.4 478.0,309.4 479.5,309.2 481.0,308.7 485.4,308.7 486.9,307.3 488.4,304.1 489.9,301.9 491.4,301.9 492.9,297.8 494.3,294.0 495.8,289.9 507.7,289.9 509.2,283.6 510.7,276.3 537.4,276.3 538.9,271.9 540.3,271.9 541.8,271.5 543.3,271.5 544.8,263.7 549.2,263.7 550.7,262.9 552.2,260.2 553.7,258.5 555.2,255.9 564.1,255.9 565.6,250.6 579.7,250.6" stroke-opacity="0.32"/><polyline points="37.4,341.0 41.9,341.0 43.3,338.4 44.8,335.8 46.3,333.9 47.8,331.8 49.3,331.3 52.2,331.3 53.7,330.6 55.2,329.7 56.7,328.7 58.2,327.7 59.7,327.7 61.1,326.6 62.6,324.4 64.1,322.2 65.6,321.7 67.1,321.3 68.6,320.8 70.0,319.9 71.5,319.4 78.9,319.4 80.4,319.4 81.9,319.3 83.4,319.3 89.3,319.3 90.8,319.3 92.3,319.3 93.8,319.2 95.3,319.1 96.7,319.1 98.2,319.0 99.7,318.9 101.2,318.9 102.7,318.9 104.2,318.8 105.6,318.8 107.1,318.7 108.6,318.6 110.1,318.5 111.6,318.4 113.1,318.2 114.5,318.1 116.0,318.1 122.0,318.1 123.4,318.1 124.9,318.0 126.4,317.9 127.9,317.5 129.4,317.2 130.9,317.1 132.4,317.0 133.8,316.9 139.8,316.9 141.3,316.7 142.7,316.6 144.2,316.5 145.7,316.4 147.2,316.1 148.7,315.8 150.2,315.3 151.6,314.8 153.1,314.5 154.6,314.2 156.1,314.1 157.6,313.6 159.1,313.4 160.5,313.0 162.0,313.0 163.5,312.9 187.2,312.9 188.7,312.7 190.2,312.2 191.7,312.0 193.2,311.7 194.7,311.1 209.5,311.1 211.0,311.1 212.5,311.0 213.9,310.9 215.4,310.4 216.9,310.4 218.4,310.3 219.9,310.3 221.4,310.3 222.9,310.3 224.3,310.3 225.8,310.3 227.3,310.3 240.7,310.3 242.1,310.3 243.6,310.3 245.1,310.3 246.6,310.3 298.5,310.3 300.0,309.9 307.4,309.9 308.9,309.9 310.4,309.9 311.9,309.9 313.3,309.9 314.8,309.9 316.3,309.9 371.2,309.9 372.7,309.8 399.4,309.8 400.9,309.0 457.3,309.0 458.7,308.9 460.2,308.8 461.7,308.7 488.4,308.7 489.9,308.7 491.4,303.8 492.9,299.1 494.3,294.7 495.8,291.7 497.3,291.2 498.8,289.8 500.3,289.1 559.6,289.1 561.1,288.6 562.6,288.3 564.1,287.9 565.6,287.8 573.0,287.8 574.5,286.3 575.9,286.3 577.4,284.8 578.9,283.4 580.4,281.6 579.7,281.6" stroke-opacity="0.64"/><polyline points="37.4,341.0 44.8,341.0 46.3,340.5 47.8,340.2 49.3,339.6 50.8,338.2 52.2,337.0 53.7,336.5 55.2,336.0 62.6,336.0 64.1,334.6 65.6,333.2 68.6,333.2 70.0,331.0 71.5,331.0 73.0,329.4 74.5,327.9 76.0,326.9 77.5,326.1 78.9,325.1 80.4,324.5 81.9,324.5 83.4,323.8 84.9,323.4 86.4,322.8 87.8,322.2 89.3,321.6 90.8,321.1 92.3,320.6 93.8,320.2 95.3,320.1 96.7,320.1 98.2,319.6 99.7,319.2 101.2,318.3 102.7,317.8 104.2,317.4 105.6,317.0 107.1,316.9 108.6,316.6 111.6,316.6 113.1,316.3 114.5,315.3 116.0,315.0 117.5,314.2 119.0,314.2 120.5,314.1 122.0,314.0 123.4,313.9 124.9,313.6 126.4,313.1 127.9,312.2 129.4,312.1 130.9,312.0 132.4,312.0 133.8,312.0 135.3,311.9 136.8,311.9 138.3,311.9 139.8,311.9 141.3,311.9 142.7,311.9 144.2,311.9 145.7,311.9 147.2,311.9 148.7,311.9 150.2,311.9 151.6,311.8 153.1,311.8 154.6,311.8 156.1,311.8 157.6,311.8 159.1,311.7 160.5,311.7 162.0,311.7 165.0,311.7 166.5,311.7 168.0,311.7 169.4,311.7 170.9,311.7 172.4,311.7 173.9,311.7 175.4,311.6 176.9,311.6 178.3,311.6 179.8,311.6 181.3,311.6 182.8,311.5 184.3,311.5 185.8,311.5 200.6,311.5 202.1,311.4 203.6,311.3 205.0,311.2 206.5,311.1 249.6,311.1 251.0,310.7 252.5,310.3 254.0,310.2 265.9,310.2 267.4,310.1 268.8,310.1 270.3,310.1 271.8,310.1 273.3,310.0 274.8,310.0 276.3,310.0 307.4,310.0 308.9,309.9 310.4,309.7 384.6,309.7 386.0,309.7 387.5,309.7 389.0,309.7 390.5,309.6 392.0,309.6 423.1,309.6 424.6,309.4 426.1,309.4 427.6,309.3 429.1,309.1 430.6,308.9 445.4,308.9 446.9,304.1 448.4,297.8 455.8,297.8 457.3,289.1 458.7,280.7 503.3,280.7 504.7,279.0 506.2,277.3 507.7,276.7 510.7,276.7 512.2,276.3 513.6,275.4 515.1,275.2 516.6,273.6 518.1,273.6 519.6,271.7 521.1,267.6 522.5,265.4 546.3,265.4 547.8,264.4 549.2,263.5 550.7,263.4 552.2,263.4 553.7,263.3 558.1,263.3 559.6,263.0 561.1,262.8 562.6,262.7 564.1,262.4 565.6,262.4 567.0,262.4 568.5,262.4 570.0,260.9 571.5,260.1 577.4,260.1 578.9,260.0 580.4,259.8 579.7,259.8" stroke-opacity="0.64"/><polyline points="37.4,341.0 40.4,341.0 41.9,340.6 43.3,340.3 44.8,339.9 46.3,339.9 47.8,339.8 49.3,339.1 50.8,338.2 52.2,337.5 53.7,337.0 55.2,336.6 56.7,336.2 58.2,335.2 59.7,334.8 68.6,334.8 70.0,334.3 71.5,333.6 73.0,330.8 74.5,329.8 76.0,328.0 77.5,327.4 78.9,326.5 80.4,325.3 81.9,323.0 83.4,322.5 84.9,321.2 86.4,319.9 87.8,319.2 89.3,319.1 90.8,319.1 92.3,319.1 93.8,319.0 95.3,319.0 96.7,318.9 98.2,318.7 99.7,318.6 101.2,318.6 102.7,318.5 104.2,318.3 105.6,318.1 107.1,317.8 108.6,317.6 110.1,317.4 111.6,317.4 113.1,317.4 114.5,317.4 116.0,317.2 117.5,317.1 119.0,317.0 120.5,316.9 122.0,316.8 123.4,316.7 124.9,316.6 126.4,316.6 127.9,316.5 133.8,316.5 135.3,316.5 136.8,316.5 138.3,316.4 139.8,316.4 141.3,316.4 142.7,316.4 144.2,316.4 145.7,316.3 147.2,316.3 151.6,316.3 153.1,316.3 154.6,316.3 156.1,316.2 157.6,316.1 159.1,316.1 160.5,316.1 162.0,316.1 166.5,316.1 168.0,316.1 169.4,316.1 170.9,316.1 172.4,316.1 173.9,316.1 175.4,316.1 176.9,316.1 191.7,316.1 193.2,315.9 194.7,315.8 196.1,315.7 197.6,315.5 199.1,315.5 200.6,314.9 202.1,313.2 203.6,312.6 212.5,312.6 213.9,312.5 215.4,312.3 216.9,312.1 218.4,311.8 219.9,311.5 221.4,311.5 222.9,311.4 224.3,311.4 225.8,311.4 227.3,311.4 240.7,311.4 242.1,311.4 243.6,311.4 245.1,311.4 246.6,311.4 248.1,311.3 249.6,311.3 254.0,311.3 255.5,311.3 257.0,311.3 259.9,311.3 261.4,311.3 271.8,311.3 273.3,311.3 274.8,311.3 319.3,311.3 320.8,311.1 322.3,311.0 323.7,310.9 325.2,310.7 326.7,310.6 360.8,310.6 362.3,310.6 363.8,310.6 365.3,310.6 366.8,310.5 408.3,310.5 409.8,309.6 411.3,309.6 412.8,309.1 476.5,309.1 478.0,297.6 518.1,297.6 519.6,296.7 521.1,296.7 522.5,285.3 524.0,283.8 562.6,283.8 564.1,279.5 565.6,277.9 567.0,274.2 579.7,274.2" stroke-opacity="0.48"/><polyline points="37.4,341.0 43.3,341.0 44.8,340.4 46.3,340.1 53.7,340.1 55.2,338.8 56.7,335.6 58.2,333.5 59.7,333.2 65.6,333.2 67.1,333.1 68.6,332.5 70.0,332.1 71.5,331.9 73.0,331.6 74.5,329.4 76.0,326.7 77.5,325.7 78.9,325.5 80.4,324.8 81.9,324.0 83.4,323.2 84.9,322.8 89.3,322.8 90.8,322.6 92.3,322.5 96.7,322.5 98.2,322.3 99.7,322.0 101.2,321.5 102.7,321.1 104.2,320.6 105.6,320.3 107.1,319.8 108.6,319.6 110.1,319.4 111.6,318.8 113.1,317.2 114.5,316.8 116.0,316.2 117.5,316.1 119.0,315.8 120.5,315.6 122.0,315.4 123.4,315.2 124.9,315.1 126.4,314.9 127.9,314.9 129.4,314.8 130.9,314.8 132.4,314.7 133.8,314.7 135.3,314.7 136.8,314.7 138.3,314.5 139.8,314.4 141.3,314.2 142.7,314.2 144.2,314.0 145.7,313.9 165.0,313.9 166.5,313.9 168.0,313.9 169.4,313.9 170.9,313.8 172.4,313.8 173.9,313.8 175.4,313.8 176.9,313.7 178.3,313.7 190.2,313.7 191.7,313.7 193.2,313.6 194.7,313.5 196.1,313.4 197.6,313.3 199.1,313.3 200.6,313.3 203.6,313.3 205.0,313.2 206.5,313.2 208.0,313.1 209.5,313.1 211.0,313.1 212.5,313.0 213.9,313.0 215.4,313.0 218.4,313.0 219.9,310.6 282.2,310.6 283.7,310.6 285.2,310.6 286.6,310.6 288.1,310.6 289.6,310.6 291.1,310.6 337.1,310.6 338.6,310.6 340.1,310.6 341.5,310.5 343.0,310.5 344.5,310.5 346.0,310.5 383.1,310.5 384.6,310.4 386.0,310.4 387.5,310.4 389.0,310.3 408.3,310.3 409.8,310.1 411.3,309.9 412.8,309.5 414.2,309.0 415.7,308.7 417.2,308.5 418.7,308.4 461.7,308.4 463.2,305.2 464.7,303.6 466.2,301.6 467.6,298.3 491.4,298.3 492.9,296.5 494.3,294.8 495.8,292.9 497.3,292.4 513.6,292.4 515.1,287.9 519.6,287.9 521.1,283.6 522.5,281.0 524.0,272.9 553.7,272.9 555.2,267.2 556.7,263.1 568.5,263.1 570.0,260.4 571.5,258.4 573.0,257.4 575.9,257.4 577.4,237.0 578.9,226.2 580.4,211.2 579.7,211.2" stroke-opacity="0.40"/><polyline points="37.4,341.0 40.4,341.0 41.9,340.8 43.3,340.4 44.8,338.9 46.3,338.5 47.8,338.1 49.3,337.9 50.8,337.9 52.2,335.9 53.7,334.5 55.2,331.8 56.7,331.5 58.2,331.1 59.7,330.7 62.6,330.7 64.1,329.4 65.6,328.8 67.1,328.4 68.6,327.1 73.0,327.1 74.5,326.4 76.0,325.0 77.5,322.2 78.9,319.4 80.4,315.9 83.4,315.9 84.9,315.2 95.3,315.2 96.7,314.2 98.2,313.7 99.7,313.0 101.2,311.9 102.7,311.1 104.2,311.0 105.6,311.0 107.1,306.1 108.6,302.9 110.1,300.2 111.6,296.0 113.1,294.3 114.5,291.1 116.0,289.0 117.5,286.7 119.0,284.9 120.5,283.2 122.0,281.3 123.4,280.1 133.8,280.1 135.3,269.3 136.8,263.0 142.7,263.0 144.2,262.3 145.7,256.0 147.2,251.2 148.7,244.2 151.6,244.2 153.1,241.1 154.6,239.6 156.1,237.0 157.6,233.8 160.5,233.8 162.0,232.4 163.5,230.8 165.0,228.7 166.5,226.4 168.0,223.5 169.4,220.1 170.9,220.1 172.4,219.5 173.9,217.5 175.4,217.3 176.9,217.1 181.3,217.1 182.8,217.1 184.3,217.0 185.8,216.7 187.2,216.4 188.7,216.2 190.2,216.1 191.7,216.0 193.2,215.7 196.1,215.7 197.6,215.4 199.1,214.8 200.6,214.0 218.4,214.0 219.9,213.7 224.3,213.7 225.8,213.5 227.3,213.3 228.8,213.1 230.3,212.9 231.8,212.8 233.2,212.7 249.6,212.7 251.0,212.0 252.5,211.3 254.0,210.9 255.5,210.7 257.0,210.6 258.5,210.6 273.3,210.6 274.8,210.6 276.3,210.6 277.7,210.6 350.4,210.6 351.9,210.6 353.4,210.6 354.9,210.5 356.4,210.5 357.9,210.5 359.3,210.5 360.8,210.5 442.4,210.5 443.9,210.5 445.4,210.5 446.9,210.5 448.4,210.4 472.1,210.4 473.6,208.7 475.1,208.7 476.5,208.1 478.0,207.4 479.5,207.0 494.3,207.0 495.8,204.8 497.3,204.2 498.8,200.1 515.1,200.1 516.6,199.9 518.1,199.5 519.6,199.1 546.3,199.1 547.8,198.7 549.2,198.5 550.7,198.1 552.2,198.0 553.7,197.8 555.2,197.5 556.7,197.5 558.1,196.9 559.6,195.4 562.6,195.4 564.1,194.0 579.7,194.0" stroke-opacity="0.48"/><polyline points="37.4,341.0 49.3,341.0 50.8,341.0 52.2,340.9 53.7,340.9 55.2,340.9 56.7,340.7 58.2,340.4 59.7,340.0 61.1,340.0 62.6,339.2 64.1,338.6 65.6,338.6 67.1,338.2 68.6,337.9 70.0,337.6 71.5,337.3 73.0,337.0 74.5,336.9 76.0,336.9 77.5,336.8 78.9,336.7 80.4,336.7 81.9,336.7 83.4,336.4 84.9,335.6 86.4,335.0 87.8,334.7 89.3,333.7 90.8,333.7 92.3,333.2 93.8,332.9 95.3,326.7 96.7,322.2 98.2,317.2 99.7,314.0 101.2,311.1 102.7,308.9 104.2,308.9 105.6,305.4 107.1,302.7 108.6,298.4 110.1,295.3 111.6,291.4 113.1,286.1 114.5,275.3 116.0,268.2 117.5,260.4 119.0,257.2 120.5,250.8 123.4,250.8 124.9,249.5 126.4,244.3 127.9,240.5 129.4,240.2 130.9,239.7 132.4,239.2 133.8,238.9 135.3,238.6 144.2,238.6 145.7,238.2 147.2,238.0 154.6,238.0 156.1,237.5 157.6,236.7 159.1,233.7 160.5,230.9 162.0,230.9 163.5,229.8 165.0,228.3 166.5,226.9 168.0,224.9 169.4,224.0 170.9,222.1 181.3,222.1 182.8,221.9 184.3,221.7 185.8,221.4 187.2,221.1 188.7,220.9 191.7,220.9 193.2,220.8 194.7,220.8 196.1,220.7 197.6,220.6 199.1,220.6 200.6,219.2 202.1,218.0 215.4,218.0 216.9,216.0 218.4,215.7 219.9,214.7 221.4,212.9 222.9,211.8 237.7,211.8 239.2,211.6 240.7,211.4 242.1,210.5 251.0,210.5 252.5,210.3 254.0,209.8 255.5,208.9 257.0,208.1 258.5,207.7 259.9,207.3 261.4,206.9 297.0,206.9 298.5,206.8 300.0,206.8 301.5,206.7 303.0,206.7 304.4,206.6 305.9,206.6 307.4,206.6 469.1,206.6 470.6,206.2 472.1,205.0 492.9,205.0 494.3,204.9 495.8,204.0 497.3,203.2 498.8,201.8 522.5,201.8 524.0,201.0 525.5,201.0 527.0,197.8 530.0,197.8 531.4,194.9 532.9,193.2 541.8,193.2 543.3,183.1 573.0,183.1 574.5,181.9 579.7,181.9" stroke-opacity="0.32"/><polyline points="37.4,341.0 40.4,341.0 41.9,337.9 43.3,336.4 44.8,332.6 46.3,330.9 47.8,329.9 49.3,329.1 50.8,328.2 52.2,328.0 53.7,327.7 55.2,326.5 56.7,325.4 58.2,323.5 59.7,314.1 61.1,306.1 62.6,302.8 64.1,297.4 65.6,295.2 67.1,294.3 68.6,293.5 70.0,293.2 71.5,292.2 73.0,291.9 74.5,291.0 76.0,290.6 83.4,290.6 84.9,288.3 86.4,287.3 87.8,286.5 89.3,286.5 90.8,285.5 92.3,284.8 93.8,283.6 98.2,283.6 99.7,283.3 101.2,283.0 102.7,282.2 104.2,281.8 107.1,281.8 108.6,281.2 110.1,280.0 111.6,277.9 113.1,275.4 114.5,272.5 116.0,269.4 117.5,267.3 119.0,266.9 120.5,266.9 126.4,266.9 127.9,265.8 129.4,264.6 130.9,263.2 132.4,262.6 133.8,261.6 135.3,260.1 136.8,259.1 138.3,258.9 139.8,258.5 141.3,258.1 142.7,257.9 145.7,257.9 147.2,257.2 148.7,256.5 150.2,255.4 151.6,255.0 153.1,254.7 154.6,254.3 156.1,254.2 157.6,254.1 159.1,253.7 160.5,253.3 162.0,253.2 163.5,253.0 165.0,252.5 166.5,252.4 168.0,251.8 169.4,251.6 170.9,251.3 172.4,251.1 173.9,251.1 175.4,251.1 176.9,251.1 178.3,251.1 179.8,251.1 181.3,251.0 182.8,251.0 200.6,251.0 202.1,250.9 203.6,250.5 205.0,250.3 206.5,250.3 208.0,250.2 209.5,250.1 211.0,250.1 212.5,250.0 213.9,249.8 215.4,249.7 216.9,249.7 225.8,249.7 227.3,249.7 228.8,249.7 230.3,249.7 231.8,249.6 233.2,249.4 234.7,249.2 236.2,249.2 237.7,249.1 245.1,249.1 246.6,249.1 248.1,249.1 249.6,249.0 251.0,249.0 252.5,249.0 264.4,249.0 265.9,249.0 267.4,249.0 268.8,249.0 270.3,248.9 271.8,248.9 273.3,248.9 274.8,248.9 454.3,248.9 455.8,246.9 457.3,245.8 458.7,242.6 464.7,242.6 466.2,242.0 467.6,240.1 469.1,238.3 500.3,238.3 501.8,234.4 503.3,233.3 509.2,233.3 510.7,233.1 512.2,232.9 516.6,232.9 518.1,228.0 519.6,225.0 521.1,217.8 522.5,216.3 541.8,216.3 543.3,210.5 544.8,205.4 546.3,200.3 547.8,196.2 549.2,190.6 553.7,190.6 555.2,187.0 556.7,185.6 558.1,182.9 559.6,179.7 565.6,179.7 567.0,178.3 568.5,172.6 575.9,172.6 577.4,171.3 578.9,169.9 580.4,164.3 579.7,164.3" stroke-opacity="0.32"/><polyline points="37.4,341.0 43.3,341.0 44.8,340.9 46.3,339.6 47.8,338.7 49.3,337.8 50.8,337.3 52.2,336.9 53.7,336.8 55.2,336.8 56.7,336.7 58.2,336.6 59.7,336.4 61.1,336.4 62.6,336.3 71.5,336.3 73.0,335.9 74.5,335.5 76.0,335.3 77.5,335.1 78.9,334.9 80.4,334.8 81.9,334.7 83.4,334.6 84.9,331.9 86.4,329.6 87.8,325.4 89.3,322.0 90.8,318.1 92.3,315.4 93.8,312.6 95.3,311.3 96.7,311.0 98.2,301.9 99.7,295.6 101.2,287.1 102.7,281.4 104.2,277.4 105.6,275.4 107.1,268.6 108.6,266.1 110.1,257.9 111.6,254.3 116.0,254.3 117.5,251.3 119.0,244.7 120.5,236.3 122.0,229.5 126.4,229.5 127.9,229.4 129.4,229.4 130.9,229.4 132.4,229.3 133.8,229.3 135.3,229.3 136.8,229.3 138.3,229.3 139.8,229.3 141.3,229.3 142.7,229.3 144.2,229.2 156.1,229.2 157.6,229.2 159.1,229.1 160.5,229.1 162.0,229.0 165.0,229.0 166.5,229.0 168.0,228.9 169.4,228.9 170.9,228.9 172.4,228.8 173.9,228.8 175.4,228.8 182.8,228.8 184.3,228.6 185.8,228.4 187.2,228.1 188.7,228.0 194.7,228.0 196.1,227.7 197.6,226.5 199.1,226.3 200.6,226.1 202.1,225.9 206.5,225.9 208.0,225.7 209.5,225.5 211.0,225.2 212.5,225.0 248.1,225.0 249.6,224.9 251.0,224.6 252.5,224.2 254.0,224.0 255.5,223.8 257.0,223.5 258.5,223.2 279.2,223.2 280.7,222.9 452.8,222.9 454.3,221.1 455.8,221.1 457.3,220.9 458.7,220.7 475.1,220.7 476.5,220.2 478.0,219.3 479.5,217.7 500.3,217.7 501.8,215.1 524.0,215.1 525.5,212.3 527.0,209.1 528.5,204.9 530.0,203.3 531.4,202.8 532.9,196.4 534.4,192.9 535.9,189.1 537.4,186.6 538.9,181.8 567.0,181.8 568.5,179.5 570.0,178.7 571.5,174.4 573.0,172.0 579.7,172.0" stroke-opacity="0.40"/><polyline points="37.4,341.0 47.8,341.0 49.3,339.4 50.8,334.1 52.2,331.0 53.7,327.7 74.5,327.7 76.0,319.8 77.5,314.5 78.9,304.5 80.4,302.6 81.9,301.2 90.8,301.2 92.3,301.1 93.8,300.1 95.3,298.4 96.7,296.3 101.2,296.3 102.7,295.2 104.2,294.9 105.6,293.7 107.1,292.9 108.6,289.2 110.1,281.7 111.6,277.2 113.1,275.0 114.5,272.9 116.0,272.5 117.5,270.5 119.0,269.1 120.5,268.1 122.0,267.3 123.4,267.1 124.9,256.7 126.4,256.3 135.3,256.3 136.8,254.1 150.2,254.1 151.6,253.5 153.1,248.8 154.6,247.7 156.1,245.5 157.6,243.5 159.1,242.0 160.5,240.2 162.0,237.0 163.5,235.3 165.0,231.1 166.5,225.4 168.0,224.1 169.4,222.5 170.9,222.3 172.4,221.5 173.9,221.0 193.2,221.0 194.7,220.4 203.6,220.4 205.0,220.0 206.5,219.6 208.0,219.4 230.3,219.4 231.8,219.3 233.2,219.1 234.7,219.1 236.2,219.1 237.7,219.0 239.2,219.0 240.7,218.9 242.1,218.9 243.6,218.7 245.1,218.5 246.6,218.5 248.1,218.4 249.6,218.4 251.0,218.4 252.5,218.3 254.0,218.3 255.5,218.3 257.0,218.2 258.5,218.1 285.2,218.1 286.6,218.1 288.1,218.1 289.6,218.1 291.1,218.1 292.6,218.1 310.4,218.1 311.9,218.1 313.3,218.1 314.8,218.0 316.3,218.0 384.6,218.0 386.0,217.9 387.5,217.9 389.0,217.9 415.7,217.9 417.2,217.6 418.7,217.3 420.2,217.0 435.0,217.0 436.5,216.8 438.0,216.5 439.5,216.4 440.9,216.2 488.4,216.2 489.9,215.2 491.4,213.6 492.9,212.2 495.8,212.2 497.3,211.8 498.8,211.4 509.2,211.4 510.7,210.1 512.2,208.7 534.4,208.7 535.9,207.4 565.6,207.4 567.0,206.5 568.5,204.7 570.0,204.6 571.5,204.5 579.7,204.5" stroke-opacity="0.56"/><polyline points="37.4,341.0 43.3,341.0 44.8,338.7 46.3,337.9 52.2,337.9 53.7,336.9 55.2,335.1 56.7,331.5 58.2,329.7 59.7,327.9 61.1,323.6 62.6,321.9 64.1,321.7 65.6,321.3 67.1,320.8 68.6,319.7 70.0,318.6 71.5,317.2 73.0,317.0 74.5,314.4 76.0,312.2 77.5,311.2 78.9,311.2 80.4,310.8 81.9,309.5 83.4,308.4 84.9,307.0 86.4,305.7 87.8,303.7 89.3,303.1 90.8,301.8 92.3,301.8 93.8,301.0 95.3,299.6 96.7,297.7 98.2,296.6 99.7,294.7 101.2,293.2 102.7,291.8 104.2,291.4 105.6,291.3 116.0,291.3 117.5,289.7 119.0,288.4 120.5,287.1 122.0,283.3 123.4,281.9 124.9,280.8 130.9,280.8 132.4,279.1 133.8,278.6 135.3,278.5 136.8,278.3 138.3,275.4 139.8,271.6 141.3,268.8 142.7,268.5 144.2,267.6 145.7,264.6 147.2,262.5 148.7,260.6 160.5,260.6 162.0,260.3 163.5,260.1 165.0,259.8 166.5,258.2 168.0,257.8 169.4,257.4 170.9,256.8 172.4,256.4 173.9,256.4 175.4,256.4 176.9,256.4 178.3,255.3 179.8,252.9 181.3,250.9 182.8,250.2 184.3,249.0 185.8,248.1 187.2,247.0 199.1,247.0 200.6,246.9 202.1,246.8 203.6,246.8 205.0,246.8 206.5,246.7 208.0,246.5 209.5,245.5 211.0,244.5 212.5,243.5 213.9,242.3 215.4,241.1 216.9,240.6 218.4,238.5 219.9,238.5 231.8,238.5 233.2,237.3 234.7,236.0 291.1,236.0 292.6,235.9 294.1,235.9 295.5,235.9 347.5,235.9 349.0,235.9 350.4,235.9 351.9,235.9 353.4,235.9 394.9,235.9 396.4,235.8 397.9,235.8 399.4,235.7 400.9,235.6 417.2,235.6 418.7,235.4 420.2,235.2 421.7,235.0 454.3,235.0 455.8,227.4 494.3,227.4 495.8,227.4 500.3,227.4 501.8,226.8 503.3,226.6 504.7,226.3 506.2,226.3 507.7,226.0 518.1,226.0 519.6,225.9 521.1,225.8 528.5,225.8 530.0,225.3 538.9,225.3 540.3,224.9 541.8,224.7 562.6,224.7 564.1,224.3 571.5,224.3 573.0,223.4 578.9,223.4 580.4,220.8 579.7,220.8" stroke-opacity="0.32"/><polyline points="37.4,341.0 53.7,341.0 55.2,337.3 56.7,334.1 58.2,330.3 59.7,328.7 74.5,328.7 76.0,323.3 77.5,314.2 83.4,314.2 84.9,312.5 89.3,312.5 90.8,310.5 92.3,306.4 93.8,302.5 95.3,299.8 96.7,299.8 98.2,296.6 99.7,295.6 101.2,293.0 102.7,289.8 104.2,287.9 105.6,287.5 107.1,286.7 108.6,286.0 110.1,285.6 114.5,285.6 116.0,284.9 117.5,282.1 120.5,282.1 122.0,277.2 123.4,270.7 124.9,265.5 126.4,264.8 127.9,263.8 129.4,263.2 130.9,263.1 132.4,263.1 133.8,263.0 135.3,262.9 136.8,262.9 138.3,262.9 139.8,262.8 141.3,262.6 142.7,262.5 144.2,262.5 145.7,262.3 147.2,262.3 148.7,262.3 150.2,262.2 151.6,262.2 153.1,262.1 154.6,262.1 156.1,262.0 157.6,261.9 182.8,261.9 184.3,261.3 185.8,260.4 187.2,259.5 188.7,259.3 190.2,259.1 191.7,259.0 193.2,258.8 194.7,258.8 196.1,258.7 212.5,258.7 213.9,258.5 215.4,258.5 216.9,258.4 218.4,258.3 219.9,258.3 221.4,258.2 222.9,258.2 224.3,258.1 225.8,258.0 227.3,258.0 243.6,258.0 245.1,258.0 255.5,258.0 257.0,258.0 258.5,258.0 259.9,257.9 261.4,257.9 262.9,257.9 264.4,257.8 276.3,257.8 277.7,257.8 279.2,257.8 280.7,257.8 282.2,257.8 283.7,257.8 285.2,257.8 286.6,257.8 341.5,257.8 343.0,257.8 344.5,257.8 346.0,257.8 347.5,257.8 356.4,257.8 357.9,257.8 403.8,257.8 405.3,257.7 406.8,257.7 408.3,257.7 484.0,257.7 485.4,246.9 486.9,241.2 488.4,229.8 489.9,223.2 506.2,223.2 507.7,222.4 509.2,221.4 524.0,221.4 525.5,220.3 527.0,219.5 528.5,218.9 537.4,218.9 538.9,217.6 540.3,216.5 541.8,215.2 543.3,215.2 544.8,210.6 546.3,208.5 552.2,208.5 553.7,203.1 555.2,197.7 556.7,188.8 558.1,188.2 559.6,187.7 561.1,187.2 562.6,185.4 564.1,184.7 565.6,184.7 567.0,183.1 568.5,181.6 579.7,181.6" stroke-opacity="0.48"/></g>
<g fill="none" stroke="#4aa8c0" stroke-width="1.1" stroke-opacity="0.5"><polyline points="37.4,341.0 41.0,333.0 44.0,326.0 48.0,314.0 52.0,303.0 58.0,298.0 64.0,290.0 70.0,281.0 80.0,276.0 88.0,268.0 95.0,252.0 102.0,245.0 110.0,236.5 120.0,232.0 132.0,227.0 150.0,223.6 166.6,215.9 170.9,207.3 172.6,197.0 176.0,191.9 244.7,190.6 246.0,186.8 254.4,186.8 278.2,182.9 405.8,182.9 407.0,181.6 476.8,181.6 483.2,177.7 499.4,176.0 504.2,166.5 512.3,158.4 528.4,153.5 538.0,152.6 578.5,152.6"/><polyline points="37.4,341.0 40.0,336.0 43.0,328.0 47.0,318.0 50.0,305.0 56.0,301.0 62.0,292.0 68.0,286.0 77.0,283.0 84.0,276.0 92.0,258.0 100.0,250.0 108.0,242.0 118.0,236.0 127.0,229.0 140.0,227.0 160.0,226.0 190.0,224.0 215.0,222.0 260.0,221.0 400.0,220.0 470.0,219.0 490.0,212.0 505.0,200.0 520.0,190.0 540.0,178.0 560.0,170.0 578.5,165.0"/><polyline points="37.4,341.0 42.0,330.0 46.0,322.0 52.0,316.0 60.0,303.0 70.0,296.0 84.0,284.0 90.0,272.0 96.0,262.0 106.0,256.0 116.0,246.0 124.0,241.0 135.0,236.0 150.0,233.0 175.0,230.0 215.0,228.0 300.0,227.0 440.0,226.0 470.0,222.0 500.0,212.0 530.0,195.0 555.0,182.0 578.5,172.0"/><polyline points="500.0,173.0 506.0,165.0 511.0,157.5 519.0,155.5 523.0,152.5 532.0,152.5 536.0,148.5 541.0,148.5 548.0,141.0 561.0,141.0 564.0,138.0 567.0,128.0 578.5,127.7"/><polyline points="37.4,341.0 45.0,337.0 80.0,336.0 108.0,334.0 135.0,332.5 152.0,331.0 156.0,328.0 168.0,325.0 174.0,320.0 511.5,319.7 516.0,309.0 520.0,306.0 540.0,303.5 578.5,299.0"/><polyline points="533.9,341.0 535.7,330.9 550.0,330.9 555.3,319.2 569.7,315.2 574.9,304.8 578.5,303.0"/></g>
<g stroke="#c0c0c0" stroke-width="0.9" stroke-dasharray="3.7,4.2"><line x1="37.4" y1="37.5" x2="37.4" y2="340" /><line x1="83.4" y1="37.5" x2="83.4" y2="340" /><line x1="126.4" y1="37.5" x2="126.4" y2="340" /><line x1="172.4" y1="37.5" x2="172.4" y2="340" /><line x1="216.9" y1="37.5" x2="216.9" y2="340" /><line x1="262.9" y1="37.5" x2="262.9" y2="340" /><line x1="307.4" y1="37.5" x2="307.4" y2="340" /><line x1="353.4" y1="37.5" x2="353.4" y2="340" /><line x1="399.4" y1="37.5" x2="399.4" y2="340" /><line x1="443.9" y1="37.5" x2="443.9" y2="340" /><line x1="489.9" y1="37.5" x2="489.9" y2="340" /><line x1="534.4" y1="37.5" x2="534.4" y2="340" /><line x1="29.9" y1="273.6" x2="579" y2="273.6" /><line x1="29.9" y1="206.1" x2="579" y2="206.1" /><line x1="29.9" y1="138.7" x2="579" y2="138.7" /><line x1="29.9" y1="71.3" x2="579" y2="71.3" /></g>
<polyline points="37.3,341.0 39.6,340.0 42.1,336.1 48.0,335.7 61.4,335.7 67.9,334.5 83.2,334.4 106.8,333.7 108.0,331.9 131.6,331.9 133.9,330.8 150.8,330.8 154.2,327.6 166.6,327.6 168.8,323.1 171.1,323.1 174.5,318.4 220.8,318.4 223.0,316.3 260.3,316.5 293.8,315.9 298.1,314.5 398.4,314.3 399.9,313.3 425.1,313.3 427.8,310.6 512.8,310.6 518.3,304.3 534.8,304.3 540.2,301.8 578.5,301.8" fill="none" stroke="#ffffff" stroke-opacity="0.45" stroke-width="4.2" stroke-linejoin="round"/>
<polyline points="37.3,341.0 39.6,340.0 42.1,336.1 48.0,335.7 61.4,335.7 67.9,334.5 83.2,334.4 106.8,333.7 108.0,331.9 131.6,331.9 133.9,330.8 150.8,330.8 154.2,327.6 166.6,327.6 168.8,323.1 171.1,323.1 174.5,318.4 220.8,318.4 223.0,316.3 260.3,316.5 293.8,315.9 298.1,314.5 398.4,314.3 399.9,313.3 425.1,313.3 427.8,310.6 512.8,310.6 518.3,304.3 534.8,304.3 540.2,301.8 578.5,301.8" fill="none" stroke="#3cf07a" stroke-width="2.5" stroke-linejoin="round"/>
<polyline points="37.4,341.0 40.0,337.5 42.1,335.3 47.7,334.0 50.0,333.3 57.0,331.0 67.2,326.0 76.4,320.0 86.9,314.1 95.0,309.5 103.6,303.0 111.3,297.4 122.6,291.8 133.9,286.1 145.1,281.6 156.4,277.1 167.7,273.7 179.0,271.4 190.3,269.2 201.6,267.6 212.9,266.5 226.4,264.7 240.0,263.5 262.1,262.6 308.0,261.2 400.0,260.8 443.6,259.0 470.0,255.3 490.0,250.8 505.0,246.3 520.0,240.6 540.0,233.9 560.0,226.0 578.5,217.0" fill="none" stroke="#ffffff" stroke-opacity="0.45" stroke-width="4.2" stroke-linejoin="round"/>
<polyline points="37.4,341.0 40.0,337.5 42.1,335.3 47.7,334.0 50.0,333.3 57.0,331.0 67.2,326.0 76.4,320.0 86.9,314.1 95.0,309.5 103.6,303.0 111.3,297.4 122.6,291.8 133.9,286.1 145.1,281.6 156.4,277.1 167.7,273.7 179.0,271.4 190.3,269.2 201.6,267.6 212.9,266.5 226.4,264.7 240.0,263.5 262.1,262.6 308.0,261.2 400.0,260.8 443.6,259.0 470.0,255.3 490.0,250.8 505.0,246.3 520.0,240.6 540.0,233.9 560.0,226.0 578.5,217.0" fill="none" stroke="#ecac18" stroke-width="2.6" stroke-linejoin="round"/>
<polyline points="57.3,341.0 61.2,337.2 65.0,335.5 67.2,332.0 69.1,325.3 73.1,316.8 75.1,313.5 78.4,307.5 88.3,306.9 91.6,299.0 93.7,293.2 96.0,292.6 98.6,289.4 106.9,287.0 117.0,286.1 119.9,278.7 123.5,269.2 126.4,264.5 129.4,261.5 133.0,258.6 138.7,257.9 142.9,242.5 146.4,241.3 150.6,238.3 155.0,232.4 157.5,229.9 162.4,225.9 165.5,225.1 193.8,225.1 196.6,220.8 201.2,220.8 204.9,214.4 207.7,212.5 211.4,197.7 214.2,195.9 218.8,195.9 220.2,194.5 259.5,194.5 262.1,192.2 377.7,191.9 378.5,190.6 437.1,190.6 439.7,186.8 482.2,186.5 482.5,183.9 496.7,183.9 500.7,172.6 503.3,164.6 506.0,163.3 511.2,155.9 516.5,154.6 519.2,154.0 523.1,150.9 532.3,150.9 536.3,146.7 541.6,146.7 548.2,139.0 561.4,139.0 564.0,136.1 568.0,118.5 570.6,116.4 574.6,116.4 577.2,115.3 578.5,115.3" fill="none" stroke="#ffffff" stroke-opacity="0.6" stroke-width="4" stroke-linejoin="round"/>
<polyline points="57.3,341.0 61.2,337.2 65.0,335.5 67.2,332.0 69.1,325.3 73.1,316.8 75.1,313.5 78.4,307.5 88.3,306.9 91.6,299.0 93.7,293.2 96.0,292.6 98.6,289.4 106.9,287.0 117.0,286.1 119.9,278.7 123.5,269.2 126.4,264.5 129.4,261.5 133.0,258.6 138.7,257.9 142.9,242.5 146.4,241.3 150.6,238.3 155.0,232.4 157.5,229.9 162.4,225.9 165.5,225.1 193.8,225.1 196.6,220.8 201.2,220.8 204.9,214.4 207.7,212.5 211.4,197.7 214.2,195.9 218.8,195.9 220.2,194.5 259.5,194.5 262.1,192.2 377.7,191.9 378.5,190.6 437.1,190.6 439.7,186.8 482.2,186.5 482.5,183.9 496.7,183.9 500.7,172.6 503.3,164.6 506.0,163.3 511.2,155.9 516.5,154.6 519.2,154.0 523.1,150.9 532.3,150.9 536.3,146.7 541.6,146.7 548.2,139.0 561.4,139.0 564.0,136.1 568.0,118.5 570.6,116.4 574.6,116.4 577.2,115.3 578.5,115.3" fill="none" stroke="#0a2a6e" stroke-width="2.1" stroke-linejoin="round"/>
<polyline points="37.2,341.0 40.0,336.1 41.7,331.7 44.1,330.5 45.7,325.6 47.7,307.2 50.9,294.5 53.0,292.4 60.4,292.4 62.5,288.2 67.8,273.8 83.3,273.8 85.7,266.4 87.5,264.7 90.4,258.7 92.8,249.2 94.6,240.3 104.2,240.3 106.5,232.6 107.8,231.7 110.6,219.2 126.8,219.2" fill="none" stroke="#ffffff" stroke-opacity="0.6" stroke-width="4.5" stroke-linejoin="round"/>
<polyline points="37.2,341.0 40.0,336.1 41.7,331.7 44.1,330.5 45.7,325.6 47.7,307.2 50.9,294.5 53.0,292.4 60.4,292.4 62.5,288.2 67.8,273.8 83.3,273.8 85.7,266.4 87.5,264.7 90.4,258.7 92.8,249.2 94.6,240.3 104.2,240.3 106.5,232.6 107.8,231.7 110.6,219.2 126.8,219.2" fill="none" stroke="#000" stroke-width="2.3" stroke-linejoin="round"/>
<circle cx="126.8" cy="219" r="3.6" fill="#000"/>
<rect x="30.2" y="38.2" width="549.8" height="302.7" fill="none" stroke="#585858" stroke-width="1.8"/>
<g stroke="#6a6a6a" stroke-width="0.9"><line x1="37.4" y1="341" x2="37.4" y2="338.2" /><line x1="37.4" y1="38" x2="37.4" y2="40.8" /><line x1="83.4" y1="341" x2="83.4" y2="338.2" /><line x1="83.4" y1="38" x2="83.4" y2="40.8" /><line x1="126.4" y1="341" x2="126.4" y2="338.2" /><line x1="126.4" y1="38" x2="126.4" y2="40.8" /><line x1="172.4" y1="341" x2="172.4" y2="338.2" /><line x1="172.4" y1="38" x2="172.4" y2="40.8" /><line x1="216.9" y1="341" x2="216.9" y2="338.2" /><line x1="216.9" y1="38" x2="216.9" y2="40.8" /><line x1="262.9" y1="341" x2="262.9" y2="338.2" /><line x1="262.9" y1="38" x2="262.9" y2="40.8" /><line x1="307.4" y1="341" x2="307.4" y2="338.2" /><line x1="307.4" y1="38" x2="307.4" y2="40.8" /><line x1="353.4" y1="341" x2="353.4" y2="338.2" /><line x1="353.4" y1="38" x2="353.4" y2="40.8" /><line x1="399.4" y1="341" x2="399.4" y2="338.2" /><line x1="399.4" y1="38" x2="399.4" y2="40.8" /><line x1="443.9" y1="341" x2="443.9" y2="338.2" /><line x1="443.9" y1="38" x2="443.9" y2="40.8" /><line x1="489.9" y1="341" x2="489.9" y2="338.2" /><line x1="489.9" y1="38" x2="489.9" y2="40.8" /><line x1="534.4" y1="341" x2="534.4" y2="338.2" /><line x1="534.4" y1="38" x2="534.4" y2="40.8" /><line x1="30" y1="341.0" x2="33.5" y2="341.0" /><line x1="30" y1="273.6" x2="33.5" y2="273.6" /><line x1="30" y1="206.1" x2="33.5" y2="206.1" /><line x1="30" y1="138.7" x2="33.5" y2="138.7" /><line x1="30" y1="71.3" x2="33.5" y2="71.3" /><line x1="579.5" y1="341.0" x2="576" y2="341.0" /><line x1="579.5" y1="287.9" x2="576" y2="287.9" /><line x1="579.5" y1="234.8" x2="576" y2="234.8" /><line x1="579.5" y1="181.7" x2="576" y2="181.7" /><line x1="579.5" y1="128.6" x2="576" y2="128.6" /><line x1="579.5" y1="75.5" x2="576" y2="75.5" /></g>
<text x="27.6" y="344.0" text-anchor="end" font-size="8.5">0</text><text x="27.6" y="276.6" text-anchor="end" font-size="8.5">10</text><text x="27.6" y="209.1" text-anchor="end" font-size="8.5">20</text><text x="27.6" y="141.7" text-anchor="end" font-size="8.5">30</text><text x="27.6" y="74.3" text-anchor="end" font-size="8.5">40</text><text x="582.5" y="344.0" font-size="8.5">0</text><text x="582.5" y="290.9" font-size="8.5">200</text><text x="582.5" y="237.8" font-size="8.5">400</text><text x="582.5" y="184.7" font-size="8.5">600</text><text x="582.5" y="131.6" font-size="8.5">800</text><text x="582.5" y="78.5" font-size="8.5">1000</text><text x="37.4" y="350.5" text-anchor="middle" font-size="8.3">Jan 1</text><text x="83.4" y="350.5" text-anchor="middle" font-size="8.3">Feb 1</text><text x="126.4" y="350.5" text-anchor="middle" font-size="8.3">Mar 1</text><text x="172.4" y="350.5" text-anchor="middle" font-size="8.3">Apr 1</text><text x="216.9" y="350.5" text-anchor="middle" font-size="8.3">May 1</text><text x="262.9" y="350.5" text-anchor="middle" font-size="8.3">Jun 1</text><text x="307.4" y="350.5" text-anchor="middle" font-size="8.3">Jul 1</text><text x="353.4" y="350.5" text-anchor="middle" font-size="8.3">Aug 1</text><text x="399.4" y="350.5" text-anchor="middle" font-size="8.3">Sep 1</text><text x="443.9" y="350.5" text-anchor="middle" font-size="8.3">Oct 1</text><text x="489.9" y="350.5" text-anchor="middle" font-size="8.3">Nov 1</text><text x="534.4" y="350.5" text-anchor="middle" font-size="8.3">Dec 1</text>
<text transform="translate(12.9,188.7) rotate(-90)" text-anchor="middle" font-size="10.4" textLength="139" lengthAdjust="spacingAndGlyphs">Accumulated Precip (inches)</text>
<text transform="translate(607.5,189.8) rotate(90)" text-anchor="middle" font-size="10.4" textLength="128" lengthAdjust="spacingAndGlyphs">Accumulated Precip (mm)</text>
<rect x="30.3" y="358" width="550" height="13.8" fill="#fff" stroke="#5a5a5a" stroke-width="1.5"/>
<line x1="34.3" y1="364.6" x2="47.6" y2="364.6" stroke="#0a2a6e" stroke-width="2.2"/>
<text x="55.2" y="367.6" font-size="8.2" textLength="78.2" lengthAdjust="spacingAndGlyphs" xml:space="preserve">Max (1983:  33.46&quot;)</text>
<line x1="166.5" y1="364.6" x2="179.4" y2="364.6" stroke="#3cf07a" stroke-width="2.2"/>
<text x="187.4" y="367.6" font-size="8.2" textLength="71.8" lengthAdjust="spacingAndGlyphs" xml:space="preserve">Min (2013:   5.81&quot;)</text>
<line x1="293.9" y1="364.6" x2="306.8" y2="364.6" stroke="#eeaa14" stroke-width="2.2"/>
<text x="314.0" y="367.6" font-size="8.2" textLength="118.3" lengthAdjust="spacingAndGlyphs" xml:space="preserve">Average (1981-2010:  18.36&quot;)</text>
<line x1="464.6" y1="364.6" x2="477.8" y2="364.6" stroke="#000000" stroke-width="2.2"/>
<text x="485.6" y="367.6" font-size="8.2" textLength="91.8" lengthAdjust="spacingAndGlyphs" xml:space="preserve">Current (2017:  18.17&quot;)</text>
</svg></body></html>
